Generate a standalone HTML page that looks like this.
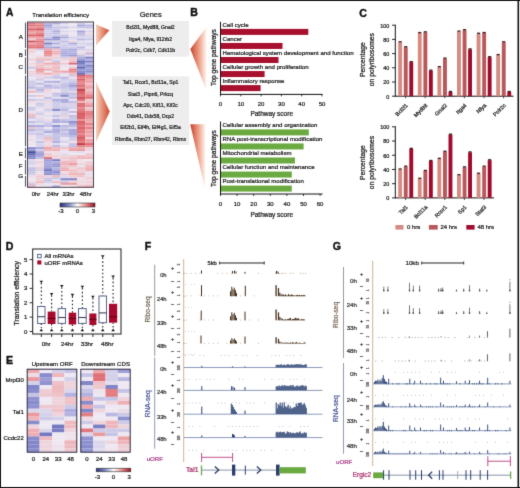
<!DOCTYPE html>
<html><head><meta charset="utf-8"><style>
html,body{margin:0;padding:0;background:#fff;}
body{width:520px;height:488px;overflow:hidden;position:relative;}
svg{display:block;position:absolute;left:0;top:0;}
text{font-family:"Liberation Sans",sans-serif;}
</style></head><body>
<svg width="520" height="488" viewBox="0 0 520 488" font-family="Liberation Sans, sans-serif" fill="#222">
<defs>
<filter id="bl" x="0" y="0" width="520" height="488" filterUnits="userSpaceOnUse" color-interpolation-filters="sRGB"><feConvolveMatrix order="3" kernelMatrix="0.0114 0.084 0.0114 0.084 0.618 0.084 0.0114 0.084 0.0114" edgeMode="duplicate"/></filter>
<linearGradient id="gA" x1="0" y1="0" x2="1" y2="0"><stop offset="0" stop-color="#f7d0ba"/><stop offset="1" stop-color="#cf4a30"/></linearGradient>
<linearGradient id="gB" x1="0" y1="0" x2="1" y2="0"><stop offset="0" stop-color="#c9402a"/><stop offset="0.5" stop-color="#eb9a82"/><stop offset="1" stop-color="#fff6f2"/></linearGradient>
<linearGradient id="cbar" x1="0" y1="0" x2="1" y2="0"><stop offset="0" stop-color="#2a2f78"/><stop offset="0.25" stop-color="#7d88c4"/><stop offset="0.5" stop-color="#ffffff"/><stop offset="0.75" stop-color="#e58a8a"/><stop offset="1" stop-color="#9a0c24"/></linearGradient>
</defs>
<g filter="url(#bl)">
<rect x="0" y="0" width="520" height="488" fill="#fff"/>
<rect x="0.00" y="0.00" width="520.00" height="1.00" fill="#111"/>
<rect x="0.00" y="0.00" width="1.00" height="488.00" fill="#111"/>
<rect x="0.00" y="487.00" width="520.00" height="1.00" fill="#111"/>
<rect x="517.50" y="0.00" width="1.60" height="488.00" fill="#111"/>
<text x="6.00" y="16.20" font-size="10.2" fill="#111" font-weight="bold" stroke="#111" stroke-width="0.4">A</text>
<text x="60.60" y="17.40" font-size="6.1" text-anchor="middle" stroke="#222" stroke-width="0.24">Translation efficiency</text>
<rect x="27.50" y="22.50" width="8.30" height="2.06" fill="#e1757b"/>
<rect x="35.75" y="22.50" width="8.30" height="2.06" fill="#e78e92"/>
<rect x="44.00" y="22.50" width="8.30" height="2.06" fill="#b6b5e1"/>
<rect x="52.25" y="22.50" width="8.30" height="2.06" fill="#afaedf"/>
<rect x="60.50" y="22.50" width="8.30" height="2.06" fill="#d2cfea"/>
<rect x="68.75" y="22.50" width="8.30" height="2.06" fill="#eee3ec"/>
<rect x="77.00" y="22.50" width="8.30" height="2.06" fill="#d0cde9"/>
<rect x="85.25" y="22.50" width="8.30" height="2.06" fill="#eee8f2"/>
<rect x="27.50" y="24.51" width="8.30" height="2.06" fill="#e07277"/>
<rect x="35.75" y="24.51" width="8.30" height="2.06" fill="#e37d83"/>
<rect x="44.00" y="24.51" width="8.30" height="2.06" fill="#9c9ed6"/>
<rect x="52.25" y="24.51" width="8.30" height="2.06" fill="#dcd8ed"/>
<rect x="60.50" y="24.51" width="8.30" height="2.06" fill="#e8e3f0"/>
<rect x="68.75" y="24.51" width="8.30" height="2.06" fill="#ece6f1"/>
<rect x="77.00" y="24.51" width="8.30" height="2.06" fill="#a7a7db"/>
<rect x="85.25" y="24.51" width="8.30" height="2.06" fill="#b6b5e1"/>
<rect x="27.50" y="26.52" width="8.30" height="2.06" fill="#e99499"/>
<rect x="35.75" y="26.52" width="8.30" height="2.06" fill="#e6898e"/>
<rect x="44.00" y="26.52" width="8.30" height="2.06" fill="#b4b3e0"/>
<rect x="52.25" y="26.52" width="8.30" height="2.06" fill="#c7c5e6"/>
<rect x="60.50" y="26.52" width="8.30" height="2.06" fill="#c1bfe4"/>
<rect x="68.75" y="26.52" width="8.30" height="2.06" fill="#dad6ec"/>
<rect x="77.00" y="26.52" width="8.30" height="2.06" fill="#c8c5e6"/>
<rect x="85.25" y="26.52" width="8.30" height="2.06" fill="#c1bfe4"/>
<rect x="27.50" y="28.53" width="8.30" height="2.06" fill="#d65a62"/>
<rect x="35.75" y="28.53" width="8.30" height="2.06" fill="#cf515a"/>
<rect x="44.00" y="28.53" width="8.30" height="2.06" fill="#c6c4e6"/>
<rect x="52.25" y="28.53" width="8.30" height="2.06" fill="#cac8e7"/>
<rect x="60.50" y="28.53" width="8.30" height="2.06" fill="#e7e2f0"/>
<rect x="68.75" y="28.53" width="8.30" height="2.06" fill="#eee7f0"/>
<rect x="77.00" y="28.53" width="8.30" height="2.06" fill="#ece6f1"/>
<rect x="85.25" y="28.53" width="8.30" height="2.06" fill="#eee2eb"/>
<rect x="27.50" y="30.54" width="8.30" height="2.06" fill="#ea9a9f"/>
<rect x="35.75" y="30.54" width="8.30" height="2.06" fill="#ea979b"/>
<rect x="44.00" y="30.54" width="8.30" height="2.06" fill="#d6d2eb"/>
<rect x="52.25" y="30.54" width="8.30" height="2.06" fill="#afafdf"/>
<rect x="60.50" y="30.54" width="8.30" height="2.06" fill="#dad6ec"/>
<rect x="68.75" y="30.54" width="8.30" height="2.06" fill="#e2ddee"/>
<rect x="77.00" y="30.54" width="8.30" height="2.06" fill="#a2a3d9"/>
<rect x="85.25" y="30.54" width="8.30" height="2.06" fill="#d6d2eb"/>
<rect x="27.50" y="32.55" width="8.30" height="2.06" fill="#eb9da1"/>
<rect x="35.75" y="32.55" width="8.30" height="2.06" fill="#e37c81"/>
<rect x="44.00" y="32.55" width="8.30" height="2.06" fill="#cdcae8"/>
<rect x="52.25" y="32.55" width="8.30" height="2.06" fill="#c4c2e5"/>
<rect x="60.50" y="32.55" width="8.30" height="2.06" fill="#eee1eb"/>
<rect x="68.75" y="32.55" width="8.30" height="2.06" fill="#ece6f1"/>
<rect x="77.00" y="32.55" width="8.30" height="2.06" fill="#b9b7e2"/>
<rect x="85.25" y="32.55" width="8.30" height="2.06" fill="#eedae3"/>
<rect x="27.50" y="34.56" width="8.30" height="2.06" fill="#da5f65"/>
<rect x="35.75" y="34.56" width="8.30" height="2.06" fill="#d65a61"/>
<rect x="44.00" y="34.56" width="8.30" height="2.06" fill="#d0cde9"/>
<rect x="52.25" y="34.56" width="8.30" height="2.06" fill="#d1cee9"/>
<rect x="60.50" y="34.56" width="8.30" height="2.06" fill="#c5c3e6"/>
<rect x="68.75" y="34.56" width="8.30" height="2.06" fill="#eee3ed"/>
<rect x="77.00" y="34.56" width="8.30" height="2.06" fill="#c4c2e5"/>
<rect x="85.25" y="34.56" width="8.30" height="2.06" fill="#d8d4eb"/>
<rect x="27.50" y="36.57" width="8.30" height="2.06" fill="#eda5a9"/>
<rect x="35.75" y="36.57" width="8.30" height="2.06" fill="#eca1a6"/>
<rect x="44.00" y="36.57" width="8.30" height="2.06" fill="#cdcae8"/>
<rect x="52.25" y="36.57" width="8.30" height="2.06" fill="#878bcb"/>
<rect x="60.50" y="36.57" width="8.30" height="2.06" fill="#ababdd"/>
<rect x="68.75" y="36.57" width="8.30" height="2.06" fill="#d4d0ea"/>
<rect x="77.00" y="36.57" width="8.30" height="2.06" fill="#dbd7ec"/>
<rect x="85.25" y="36.57" width="8.30" height="2.06" fill="#d8d4eb"/>
<rect x="27.50" y="38.58" width="8.30" height="2.06" fill="#eeced5"/>
<rect x="35.75" y="38.58" width="8.30" height="2.06" fill="#e99499"/>
<rect x="44.00" y="38.58" width="8.30" height="2.06" fill="#9799d3"/>
<rect x="52.25" y="38.58" width="8.30" height="2.06" fill="#9598d2"/>
<rect x="60.50" y="38.58" width="8.30" height="2.06" fill="#d9d5ec"/>
<rect x="68.75" y="38.58" width="8.30" height="2.06" fill="#dfdbee"/>
<rect x="77.00" y="38.58" width="8.30" height="2.06" fill="#b7b6e1"/>
<rect x="85.25" y="38.58" width="8.30" height="2.06" fill="#c9c6e7"/>
<rect x="27.50" y="40.59" width="8.30" height="2.06" fill="#cf515a"/>
<rect x="35.75" y="40.59" width="8.30" height="2.06" fill="#e07176"/>
<rect x="44.00" y="40.59" width="8.30" height="2.06" fill="#d1cde9"/>
<rect x="52.25" y="40.59" width="8.30" height="2.06" fill="#d8d4eb"/>
<rect x="60.50" y="40.59" width="8.30" height="2.06" fill="#bcbbe3"/>
<rect x="68.75" y="40.59" width="8.30" height="2.06" fill="#eed7e0"/>
<rect x="77.00" y="40.59" width="8.30" height="2.06" fill="#e4dfef"/>
<rect x="85.25" y="40.59" width="8.30" height="2.06" fill="#ebe5f1"/>
<rect x="27.50" y="42.60" width="8.30" height="2.06" fill="#eda6aa"/>
<rect x="35.75" y="42.60" width="8.30" height="2.06" fill="#e68a8f"/>
<rect x="44.00" y="42.60" width="8.30" height="2.06" fill="#7c81c5"/>
<rect x="52.25" y="42.60" width="8.30" height="2.06" fill="#ababdd"/>
<rect x="60.50" y="42.60" width="8.30" height="2.06" fill="#d9d5ec"/>
<rect x="68.75" y="42.60" width="8.30" height="2.06" fill="#a9a9dc"/>
<rect x="77.00" y="42.60" width="8.30" height="2.06" fill="#d6d2eb"/>
<rect x="85.25" y="42.60" width="8.30" height="2.06" fill="#cfcce9"/>
<rect x="27.50" y="44.61" width="8.30" height="2.06" fill="#e2787e"/>
<rect x="35.75" y="44.61" width="8.30" height="2.06" fill="#e2787d"/>
<rect x="44.00" y="44.61" width="8.30" height="2.06" fill="#c1bfe4"/>
<rect x="52.25" y="44.61" width="8.30" height="2.06" fill="#dedaed"/>
<rect x="60.50" y="44.61" width="8.30" height="2.06" fill="#cac7e7"/>
<rect x="68.75" y="44.61" width="8.30" height="2.06" fill="#d2cfea"/>
<rect x="77.00" y="44.61" width="8.30" height="2.06" fill="#dfdaed"/>
<rect x="85.25" y="44.61" width="8.30" height="2.06" fill="#d9d5ec"/>
<rect x="27.50" y="46.62" width="8.30" height="2.06" fill="#e07378"/>
<rect x="35.75" y="46.62" width="8.30" height="2.06" fill="#df6d73"/>
<rect x="44.00" y="46.62" width="8.30" height="2.06" fill="#ababde"/>
<rect x="52.25" y="46.62" width="8.30" height="2.06" fill="#9c9ed6"/>
<rect x="60.50" y="46.62" width="8.30" height="2.06" fill="#cdcae8"/>
<rect x="68.75" y="46.62" width="8.30" height="2.06" fill="#d0cce9"/>
<rect x="77.00" y="46.62" width="8.30" height="2.06" fill="#b9b7e2"/>
<rect x="85.25" y="46.62" width="8.30" height="2.06" fill="#eee7f1"/>
<rect x="27.50" y="48.63" width="8.30" height="2.06" fill="#eecfd6"/>
<rect x="35.75" y="48.63" width="8.30" height="2.06" fill="#cfcce9"/>
<rect x="44.00" y="48.63" width="8.30" height="2.06" fill="#eea7ab"/>
<rect x="52.25" y="48.63" width="8.30" height="2.06" fill="#eec3c9"/>
<rect x="60.50" y="48.63" width="8.30" height="2.06" fill="#b3b3e0"/>
<rect x="68.75" y="48.63" width="8.30" height="2.06" fill="#a8a8dc"/>
<rect x="77.00" y="48.63" width="8.30" height="2.06" fill="#d4d0ea"/>
<rect x="85.25" y="48.63" width="8.30" height="2.06" fill="#d7d3eb"/>
<rect x="27.50" y="50.64" width="8.30" height="2.06" fill="#eecdd4"/>
<rect x="35.75" y="50.64" width="8.30" height="2.06" fill="#eee6f0"/>
<rect x="44.00" y="50.64" width="8.30" height="2.06" fill="#e5858a"/>
<rect x="52.25" y="50.64" width="8.30" height="2.06" fill="#eeb6bc"/>
<rect x="60.50" y="50.64" width="8.30" height="2.06" fill="#aeaedf"/>
<rect x="68.75" y="50.64" width="8.30" height="2.06" fill="#b4b4e1"/>
<rect x="77.00" y="50.64" width="8.30" height="2.06" fill="#e6e1f0"/>
<rect x="85.25" y="50.64" width="8.30" height="2.06" fill="#eed1d9"/>
<rect x="27.50" y="52.65" width="8.30" height="2.06" fill="#eedbe4"/>
<rect x="35.75" y="52.65" width="8.30" height="2.06" fill="#eee7f1"/>
<rect x="44.00" y="52.65" width="8.30" height="2.06" fill="#e6888d"/>
<rect x="52.25" y="52.65" width="8.30" height="2.06" fill="#eeaeb3"/>
<rect x="60.50" y="52.65" width="8.30" height="2.06" fill="#aaaadd"/>
<rect x="68.75" y="52.65" width="8.30" height="2.06" fill="#b0b0df"/>
<rect x="77.00" y="52.65" width="8.30" height="2.06" fill="#eed9e1"/>
<rect x="85.25" y="52.65" width="8.30" height="2.06" fill="#b8b7e2"/>
<rect x="27.50" y="54.66" width="8.30" height="2.06" fill="#eee1ea"/>
<rect x="35.75" y="54.66" width="8.30" height="2.06" fill="#ebe5f1"/>
<rect x="44.00" y="54.66" width="8.30" height="2.06" fill="#e9969a"/>
<rect x="52.25" y="54.66" width="8.30" height="2.06" fill="#eed6de"/>
<rect x="60.50" y="54.66" width="8.30" height="2.06" fill="#aaaadd"/>
<rect x="68.75" y="54.66" width="8.30" height="2.06" fill="#9c9dd6"/>
<rect x="77.00" y="54.66" width="8.30" height="2.06" fill="#c4c2e5"/>
<rect x="85.25" y="54.66" width="8.30" height="2.06" fill="#eed9e2"/>
<rect x="27.50" y="56.67" width="8.30" height="2.06" fill="#ebe5f1"/>
<rect x="35.75" y="56.67" width="8.30" height="2.06" fill="#eecdd4"/>
<rect x="44.00" y="56.67" width="8.30" height="2.06" fill="#eed6de"/>
<rect x="52.25" y="56.67" width="8.30" height="2.06" fill="#eeccd3"/>
<rect x="60.50" y="56.67" width="8.30" height="2.06" fill="#d0cce9"/>
<rect x="68.75" y="56.67" width="8.30" height="2.06" fill="#eec3c9"/>
<rect x="77.00" y="56.67" width="8.30" height="2.06" fill="#a8a8dc"/>
<rect x="85.25" y="56.67" width="8.30" height="2.06" fill="#7b81c5"/>
<rect x="27.50" y="58.68" width="8.30" height="2.06" fill="#eecbd3"/>
<rect x="35.75" y="58.68" width="8.30" height="2.06" fill="#eebbc0"/>
<rect x="44.00" y="58.68" width="8.30" height="2.06" fill="#eeb2b7"/>
<rect x="52.25" y="58.68" width="8.30" height="2.06" fill="#ddd9ed"/>
<rect x="60.50" y="58.68" width="8.30" height="2.06" fill="#eed1d9"/>
<rect x="68.75" y="58.68" width="8.30" height="2.06" fill="#eec4cb"/>
<rect x="77.00" y="58.68" width="8.30" height="2.06" fill="#989ad4"/>
<rect x="85.25" y="58.68" width="8.30" height="2.06" fill="#b2b2e0"/>
<rect x="27.50" y="60.69" width="8.30" height="2.06" fill="#eee6f0"/>
<rect x="35.75" y="60.69" width="8.30" height="2.06" fill="#c5c2e5"/>
<rect x="44.00" y="60.69" width="8.30" height="2.06" fill="#eee3ed"/>
<rect x="52.25" y="60.69" width="8.30" height="2.06" fill="#c4c1e5"/>
<rect x="60.50" y="60.69" width="8.30" height="2.06" fill="#eee3ec"/>
<rect x="68.75" y="60.69" width="8.30" height="2.06" fill="#eebdc3"/>
<rect x="77.00" y="60.69" width="8.30" height="2.06" fill="#626ab6"/>
<rect x="85.25" y="60.69" width="8.30" height="2.06" fill="#797ec4"/>
<rect x="27.50" y="62.70" width="8.30" height="2.06" fill="#eed5dd"/>
<rect x="35.75" y="62.70" width="8.30" height="2.06" fill="#eec7ce"/>
<rect x="44.00" y="62.70" width="8.30" height="2.06" fill="#eea7ab"/>
<rect x="52.25" y="62.70" width="8.30" height="2.06" fill="#eeacb0"/>
<rect x="60.50" y="62.70" width="8.30" height="2.06" fill="#eec6cd"/>
<rect x="68.75" y="62.70" width="8.30" height="2.06" fill="#de6b71"/>
<rect x="77.00" y="62.70" width="8.30" height="2.06" fill="#737ac1"/>
<rect x="85.25" y="62.70" width="8.30" height="2.06" fill="#b8b7e2"/>
<rect x="27.50" y="64.71" width="8.30" height="2.06" fill="#eee1eb"/>
<rect x="35.75" y="64.71" width="8.30" height="2.06" fill="#eec1c7"/>
<rect x="44.00" y="64.71" width="8.30" height="2.06" fill="#eed3db"/>
<rect x="52.25" y="64.71" width="8.30" height="2.06" fill="#eec2c9"/>
<rect x="60.50" y="64.71" width="8.30" height="2.06" fill="#e6e1f0"/>
<rect x="68.75" y="64.71" width="8.30" height="2.06" fill="#eee2ec"/>
<rect x="77.00" y="64.71" width="8.30" height="2.06" fill="#9598d2"/>
<rect x="85.25" y="64.71" width="8.30" height="2.06" fill="#797fc4"/>
<rect x="27.50" y="66.72" width="8.30" height="2.06" fill="#c4c2e5"/>
<rect x="35.75" y="66.72" width="8.30" height="2.06" fill="#eebcc2"/>
<rect x="44.00" y="66.72" width="8.30" height="2.06" fill="#eecfd6"/>
<rect x="52.25" y="66.72" width="8.30" height="2.06" fill="#eeb7bc"/>
<rect x="60.50" y="66.72" width="8.30" height="2.06" fill="#ece6f1"/>
<rect x="68.75" y="66.72" width="8.30" height="2.06" fill="#eec7ce"/>
<rect x="77.00" y="66.72" width="8.30" height="2.06" fill="#5d65b1"/>
<rect x="85.25" y="66.72" width="8.30" height="2.06" fill="#9e9fd7"/>
<rect x="27.50" y="68.73" width="8.30" height="2.06" fill="#eee5ee"/>
<rect x="35.75" y="68.73" width="8.30" height="2.06" fill="#e9959a"/>
<rect x="44.00" y="68.73" width="8.30" height="2.06" fill="#eeabaf"/>
<rect x="52.25" y="68.73" width="8.30" height="2.06" fill="#eec0c7"/>
<rect x="60.50" y="68.73" width="8.30" height="2.06" fill="#eee5ef"/>
<rect x="68.75" y="68.73" width="8.30" height="2.06" fill="#e58489"/>
<rect x="77.00" y="68.73" width="8.30" height="2.06" fill="#9a9cd5"/>
<rect x="85.25" y="68.73" width="8.30" height="2.06" fill="#9b9dd5"/>
<rect x="27.50" y="70.74" width="8.30" height="2.06" fill="#eed3db"/>
<rect x="35.75" y="70.74" width="8.30" height="2.06" fill="#eda6aa"/>
<rect x="44.00" y="70.74" width="8.30" height="2.06" fill="#ede7f2"/>
<rect x="52.25" y="70.74" width="8.30" height="2.06" fill="#eeafb3"/>
<rect x="60.50" y="70.74" width="8.30" height="2.06" fill="#ec9fa3"/>
<rect x="68.75" y="70.74" width="8.30" height="2.06" fill="#e89296"/>
<rect x="77.00" y="70.74" width="8.30" height="2.06" fill="#888ccc"/>
<rect x="85.25" y="70.74" width="8.30" height="2.06" fill="#878ccb"/>
<rect x="27.50" y="72.75" width="8.30" height="2.06" fill="#eed3db"/>
<rect x="35.75" y="72.75" width="8.30" height="2.06" fill="#eec0c6"/>
<rect x="44.00" y="72.75" width="8.30" height="2.06" fill="#eea7ab"/>
<rect x="52.25" y="72.75" width="8.30" height="2.06" fill="#eec9d0"/>
<rect x="60.50" y="72.75" width="8.30" height="2.06" fill="#e2ddee"/>
<rect x="68.75" y="72.75" width="8.30" height="2.06" fill="#eeb9be"/>
<rect x="77.00" y="72.75" width="8.30" height="2.06" fill="#636bb8"/>
<rect x="85.25" y="72.75" width="8.30" height="2.06" fill="#b9b7e2"/>
<rect x="27.50" y="74.76" width="8.30" height="2.06" fill="#ded9ed"/>
<rect x="35.75" y="74.76" width="8.30" height="2.06" fill="#e1dcee"/>
<rect x="44.00" y="74.76" width="8.30" height="2.06" fill="#eed9e1"/>
<rect x="52.25" y="74.76" width="8.30" height="2.06" fill="#ccc9e8"/>
<rect x="60.50" y="74.76" width="8.30" height="2.06" fill="#eee4ee"/>
<rect x="68.75" y="74.76" width="8.30" height="2.06" fill="#ccc9e8"/>
<rect x="77.00" y="74.76" width="8.30" height="2.06" fill="#d65a61"/>
<rect x="85.25" y="74.76" width="8.30" height="2.06" fill="#e27a7f"/>
<rect x="27.50" y="76.77" width="8.30" height="2.06" fill="#ece6f1"/>
<rect x="35.75" y="76.77" width="8.30" height="2.06" fill="#eed2da"/>
<rect x="44.00" y="76.77" width="8.30" height="2.06" fill="#d1cde9"/>
<rect x="52.25" y="76.77" width="8.30" height="2.06" fill="#c1bfe4"/>
<rect x="60.50" y="76.77" width="8.30" height="2.06" fill="#b8b7e2"/>
<rect x="68.75" y="76.77" width="8.30" height="2.06" fill="#eee2eb"/>
<rect x="77.00" y="76.77" width="8.30" height="2.06" fill="#e48085"/>
<rect x="85.25" y="76.77" width="8.30" height="2.06" fill="#e78d92"/>
<rect x="27.50" y="78.78" width="8.30" height="2.06" fill="#e4dfef"/>
<rect x="35.75" y="78.78" width="8.30" height="2.06" fill="#cecbe8"/>
<rect x="44.00" y="78.78" width="8.30" height="2.06" fill="#eae5f1"/>
<rect x="52.25" y="78.78" width="8.30" height="2.06" fill="#ece6f1"/>
<rect x="60.50" y="78.78" width="8.30" height="2.06" fill="#cfcce9"/>
<rect x="68.75" y="78.78" width="8.30" height="2.06" fill="#d3d0ea"/>
<rect x="77.00" y="78.78" width="8.30" height="2.06" fill="#dc6268"/>
<rect x="85.25" y="78.78" width="8.30" height="2.06" fill="#eea8ac"/>
<rect x="27.50" y="80.79" width="8.30" height="2.06" fill="#ccc9e8"/>
<rect x="35.75" y="80.79" width="8.30" height="2.06" fill="#e6e1f0"/>
<rect x="44.00" y="80.79" width="8.30" height="2.06" fill="#b4b3e0"/>
<rect x="52.25" y="80.79" width="8.30" height="2.06" fill="#aaaadd"/>
<rect x="60.50" y="80.79" width="8.30" height="2.06" fill="#d8d4eb"/>
<rect x="68.75" y="80.79" width="8.30" height="2.06" fill="#ccc9e8"/>
<rect x="77.00" y="80.79" width="8.30" height="2.06" fill="#e5878c"/>
<rect x="85.25" y="80.79" width="8.30" height="2.06" fill="#eb9ea2"/>
<rect x="27.50" y="82.80" width="8.30" height="2.06" fill="#cfcce9"/>
<rect x="35.75" y="82.80" width="8.30" height="2.06" fill="#bdbbe3"/>
<rect x="44.00" y="82.80" width="8.30" height="2.06" fill="#dbd7ec"/>
<rect x="52.25" y="82.80" width="8.30" height="2.06" fill="#ddd8ed"/>
<rect x="60.50" y="82.80" width="8.30" height="2.06" fill="#c6c3e6"/>
<rect x="68.75" y="82.80" width="8.30" height="2.06" fill="#b8b7e2"/>
<rect x="77.00" y="82.80" width="8.30" height="2.06" fill="#e6878c"/>
<rect x="85.25" y="82.80" width="8.30" height="2.06" fill="#eec1c7"/>
<rect x="27.50" y="84.81" width="8.30" height="2.06" fill="#ccc9e8"/>
<rect x="35.75" y="84.81" width="8.30" height="2.06" fill="#e4dfef"/>
<rect x="44.00" y="84.81" width="8.30" height="2.06" fill="#b1b1e0"/>
<rect x="52.25" y="84.81" width="8.30" height="2.06" fill="#ccc9e8"/>
<rect x="60.50" y="84.81" width="8.30" height="2.06" fill="#c1bfe4"/>
<rect x="68.75" y="84.81" width="8.30" height="2.06" fill="#9c9dd6"/>
<rect x="77.00" y="84.81" width="8.30" height="2.06" fill="#dd676d"/>
<rect x="85.25" y="84.81" width="8.30" height="2.06" fill="#eea9ad"/>
<rect x="27.50" y="86.82" width="8.30" height="2.06" fill="#b9b8e2"/>
<rect x="35.75" y="86.82" width="8.30" height="2.06" fill="#c9c7e7"/>
<rect x="44.00" y="86.82" width="8.30" height="2.06" fill="#c3c1e5"/>
<rect x="52.25" y="86.82" width="8.30" height="2.06" fill="#bdbce3"/>
<rect x="60.50" y="86.82" width="8.30" height="2.06" fill="#c6c4e6"/>
<rect x="68.75" y="86.82" width="8.30" height="2.06" fill="#bebce3"/>
<rect x="77.00" y="86.82" width="8.30" height="2.06" fill="#e78b90"/>
<rect x="85.25" y="86.82" width="8.30" height="2.06" fill="#eb9ea2"/>
<rect x="27.50" y="88.83" width="8.30" height="2.06" fill="#eedde6"/>
<rect x="35.75" y="88.83" width="8.30" height="2.06" fill="#b7b6e1"/>
<rect x="44.00" y="88.83" width="8.30" height="2.06" fill="#eed3dc"/>
<rect x="52.25" y="88.83" width="8.30" height="2.06" fill="#ebe6f1"/>
<rect x="60.50" y="88.83" width="8.30" height="2.06" fill="#d2cee9"/>
<rect x="68.75" y="88.83" width="8.30" height="2.06" fill="#c7c5e6"/>
<rect x="77.00" y="88.83" width="8.30" height="2.06" fill="#c03d4a"/>
<rect x="85.25" y="88.83" width="8.30" height="2.06" fill="#eec0c6"/>
<rect x="27.50" y="90.84" width="8.30" height="2.06" fill="#eeb5ba"/>
<rect x="35.75" y="90.84" width="8.30" height="2.06" fill="#cecbe8"/>
<rect x="44.00" y="90.84" width="8.30" height="2.06" fill="#eedae3"/>
<rect x="52.25" y="90.84" width="8.30" height="2.06" fill="#eee0ea"/>
<rect x="60.50" y="90.84" width="8.30" height="2.06" fill="#d3d0ea"/>
<rect x="68.75" y="90.84" width="8.30" height="2.06" fill="#dcd7ec"/>
<rect x="77.00" y="90.84" width="8.30" height="2.06" fill="#d75b62"/>
<rect x="85.25" y="90.84" width="8.30" height="2.06" fill="#eeb0b4"/>
<rect x="27.50" y="92.85" width="8.30" height="2.06" fill="#ede7f2"/>
<rect x="35.75" y="92.85" width="8.30" height="2.06" fill="#eee7f1"/>
<rect x="44.00" y="92.85" width="8.30" height="2.06" fill="#e6e0ef"/>
<rect x="52.25" y="92.85" width="8.30" height="2.06" fill="#c1bfe4"/>
<rect x="60.50" y="92.85" width="8.30" height="2.06" fill="#b9b7e2"/>
<rect x="68.75" y="92.85" width="8.30" height="2.06" fill="#c1bfe4"/>
<rect x="77.00" y="92.85" width="8.30" height="2.06" fill="#dc6369"/>
<rect x="85.25" y="92.85" width="8.30" height="2.06" fill="#eca0a4"/>
<rect x="27.50" y="94.86" width="8.30" height="2.06" fill="#cbc8e7"/>
<rect x="35.75" y="94.86" width="8.30" height="2.06" fill="#eec8cf"/>
<rect x="44.00" y="94.86" width="8.30" height="2.06" fill="#eee0e9"/>
<rect x="52.25" y="94.86" width="8.30" height="2.06" fill="#cac8e7"/>
<rect x="60.50" y="94.86" width="8.30" height="2.06" fill="#8a8dcc"/>
<rect x="68.75" y="94.86" width="8.30" height="2.06" fill="#cdcae8"/>
<rect x="77.00" y="94.86" width="8.30" height="2.06" fill="#e1767c"/>
<rect x="85.25" y="94.86" width="8.30" height="2.06" fill="#e58489"/>
<rect x="27.50" y="96.87" width="8.30" height="2.06" fill="#ebe5f1"/>
<rect x="35.75" y="96.87" width="8.30" height="2.06" fill="#eee8f2"/>
<rect x="44.00" y="96.87" width="8.30" height="2.06" fill="#c1bfe4"/>
<rect x="52.25" y="96.87" width="8.30" height="2.06" fill="#e2deef"/>
<rect x="60.50" y="96.87" width="8.30" height="2.06" fill="#ddd8ed"/>
<rect x="68.75" y="96.87" width="8.30" height="2.06" fill="#bfbde4"/>
<rect x="77.00" y="96.87" width="8.30" height="2.06" fill="#cf505a"/>
<rect x="85.25" y="96.87" width="8.30" height="2.06" fill="#e07176"/>
<rect x="27.50" y="98.88" width="8.30" height="2.06" fill="#c8c5e6"/>
<rect x="35.75" y="98.88" width="8.30" height="2.06" fill="#d3d0ea"/>
<rect x="44.00" y="98.88" width="8.30" height="2.06" fill="#dbd7ec"/>
<rect x="52.25" y="98.88" width="8.30" height="2.06" fill="#adadde"/>
<rect x="60.50" y="98.88" width="8.30" height="2.06" fill="#aaaadd"/>
<rect x="68.75" y="98.88" width="8.30" height="2.06" fill="#e8e3f0"/>
<rect x="77.00" y="98.88" width="8.30" height="2.06" fill="#e07076"/>
<rect x="85.25" y="98.88" width="8.30" height="2.06" fill="#eeccd3"/>
<rect x="27.50" y="100.89" width="8.30" height="2.06" fill="#eed9e2"/>
<rect x="35.75" y="100.89" width="8.30" height="2.06" fill="#e4dfef"/>
<rect x="44.00" y="100.89" width="8.30" height="2.06" fill="#eed7df"/>
<rect x="52.25" y="100.89" width="8.30" height="2.06" fill="#c8c6e7"/>
<rect x="60.50" y="100.89" width="8.30" height="2.06" fill="#adadde"/>
<rect x="68.75" y="100.89" width="8.30" height="2.06" fill="#c0bee4"/>
<rect x="77.00" y="100.89" width="8.30" height="2.06" fill="#eeb9bf"/>
<rect x="85.25" y="100.89" width="8.30" height="2.06" fill="#eec1c8"/>
<rect x="27.50" y="102.90" width="8.30" height="2.06" fill="#eee4ed"/>
<rect x="35.75" y="102.90" width="8.30" height="2.06" fill="#cdcae8"/>
<rect x="44.00" y="102.90" width="8.30" height="2.06" fill="#e4dfef"/>
<rect x="52.25" y="102.90" width="8.30" height="2.06" fill="#d0cde9"/>
<rect x="60.50" y="102.90" width="8.30" height="2.06" fill="#d8d4eb"/>
<rect x="68.75" y="102.90" width="8.30" height="2.06" fill="#d7d3eb"/>
<rect x="77.00" y="102.90" width="8.30" height="2.06" fill="#e07378"/>
<rect x="85.25" y="102.90" width="8.30" height="2.06" fill="#eea9ad"/>
<rect x="27.50" y="104.91" width="8.30" height="2.06" fill="#eee4ee"/>
<rect x="35.75" y="104.91" width="8.30" height="2.06" fill="#d4d1ea"/>
<rect x="44.00" y="104.91" width="8.30" height="2.06" fill="#e3deef"/>
<rect x="52.25" y="104.91" width="8.30" height="2.06" fill="#d0cde9"/>
<rect x="60.50" y="104.91" width="8.30" height="2.06" fill="#d7d3eb"/>
<rect x="68.75" y="104.91" width="8.30" height="2.06" fill="#d7d3eb"/>
<rect x="77.00" y="104.91" width="8.30" height="2.06" fill="#df6d73"/>
<rect x="85.25" y="104.91" width="8.30" height="2.06" fill="#e99398"/>
<rect x="27.50" y="106.92" width="8.30" height="2.06" fill="#cac7e7"/>
<rect x="35.75" y="106.92" width="8.30" height="2.06" fill="#e5e0ef"/>
<rect x="44.00" y="106.92" width="8.30" height="2.06" fill="#eed9e2"/>
<rect x="52.25" y="106.92" width="8.30" height="2.06" fill="#cecbe8"/>
<rect x="60.50" y="106.92" width="8.30" height="2.06" fill="#cac8e7"/>
<rect x="68.75" y="106.92" width="8.30" height="2.06" fill="#d2cfea"/>
<rect x="77.00" y="106.92" width="8.30" height="2.06" fill="#e89094"/>
<rect x="85.25" y="106.92" width="8.30" height="2.06" fill="#eeccd3"/>
<rect x="27.50" y="108.93" width="8.30" height="2.06" fill="#d3d0ea"/>
<rect x="35.75" y="108.93" width="8.30" height="2.06" fill="#eee7f1"/>
<rect x="44.00" y="108.93" width="8.30" height="2.06" fill="#d0cde9"/>
<rect x="52.25" y="108.93" width="8.30" height="2.06" fill="#8a8ecc"/>
<rect x="60.50" y="108.93" width="8.30" height="2.06" fill="#bab9e2"/>
<rect x="68.75" y="108.93" width="8.30" height="2.06" fill="#eee8f2"/>
<rect x="77.00" y="108.93" width="8.30" height="2.06" fill="#e47f84"/>
<rect x="85.25" y="108.93" width="8.30" height="2.06" fill="#eebec5"/>
<rect x="27.50" y="110.94" width="8.30" height="2.06" fill="#eae4f1"/>
<rect x="35.75" y="110.94" width="8.30" height="2.06" fill="#dfdbee"/>
<rect x="44.00" y="110.94" width="8.30" height="2.06" fill="#e2ddee"/>
<rect x="52.25" y="110.94" width="8.30" height="2.06" fill="#dedaed"/>
<rect x="60.50" y="110.94" width="8.30" height="2.06" fill="#d7d3eb"/>
<rect x="68.75" y="110.94" width="8.30" height="2.06" fill="#c0bee4"/>
<rect x="77.00" y="110.94" width="8.30" height="2.06" fill="#e07378"/>
<rect x="85.25" y="110.94" width="8.30" height="2.06" fill="#e58489"/>
<rect x="27.50" y="112.95" width="8.30" height="2.06" fill="#eecdd5"/>
<rect x="35.75" y="112.95" width="8.30" height="2.06" fill="#d1cee9"/>
<rect x="44.00" y="112.95" width="8.30" height="2.06" fill="#eee6f0"/>
<rect x="52.25" y="112.95" width="8.30" height="2.06" fill="#e2ddee"/>
<rect x="60.50" y="112.95" width="8.30" height="2.06" fill="#d5d1ea"/>
<rect x="68.75" y="112.95" width="8.30" height="2.06" fill="#ede7f2"/>
<rect x="77.00" y="112.95" width="8.30" height="2.06" fill="#d75c63"/>
<rect x="85.25" y="112.95" width="8.30" height="2.06" fill="#e47f84"/>
<rect x="27.50" y="114.96" width="8.30" height="2.06" fill="#eebac0"/>
<rect x="35.75" y="114.96" width="8.30" height="2.06" fill="#eee0e9"/>
<rect x="44.00" y="114.96" width="8.30" height="2.06" fill="#e0dbee"/>
<rect x="52.25" y="114.96" width="8.30" height="2.06" fill="#c6c4e6"/>
<rect x="60.50" y="114.96" width="8.30" height="2.06" fill="#eecfd7"/>
<rect x="68.75" y="114.96" width="8.30" height="2.06" fill="#c0bee4"/>
<rect x="77.00" y="114.96" width="8.30" height="2.06" fill="#dd656b"/>
<rect x="85.25" y="114.96" width="8.30" height="2.06" fill="#e78d91"/>
<rect x="27.50" y="116.97" width="8.30" height="2.06" fill="#cdcae8"/>
<rect x="35.75" y="116.97" width="8.30" height="2.06" fill="#e2ddee"/>
<rect x="44.00" y="116.97" width="8.30" height="2.06" fill="#eee7f0"/>
<rect x="52.25" y="116.97" width="8.30" height="2.06" fill="#e0dbee"/>
<rect x="60.50" y="116.97" width="8.30" height="2.06" fill="#e2ddee"/>
<rect x="68.75" y="116.97" width="8.30" height="2.06" fill="#cac8e7"/>
<rect x="77.00" y="116.97" width="8.30" height="2.06" fill="#dc6369"/>
<rect x="85.25" y="116.97" width="8.30" height="2.06" fill="#e99499"/>
<rect x="27.50" y="118.98" width="8.30" height="2.06" fill="#ebe5f1"/>
<rect x="35.75" y="118.98" width="8.30" height="2.06" fill="#dbd6ec"/>
<rect x="44.00" y="118.98" width="8.30" height="2.06" fill="#eedde6"/>
<rect x="52.25" y="118.98" width="8.30" height="2.06" fill="#b1b1e0"/>
<rect x="60.50" y="118.98" width="8.30" height="2.06" fill="#c5c2e5"/>
<rect x="68.75" y="118.98" width="8.30" height="2.06" fill="#ccc9e8"/>
<rect x="77.00" y="118.98" width="8.30" height="2.06" fill="#ea979b"/>
<rect x="85.25" y="118.98" width="8.30" height="2.06" fill="#eea9ad"/>
<rect x="27.50" y="120.99" width="8.30" height="2.06" fill="#c0bee4"/>
<rect x="35.75" y="120.99" width="8.30" height="2.06" fill="#d2cfea"/>
<rect x="44.00" y="120.99" width="8.30" height="2.06" fill="#dcd8ed"/>
<rect x="52.25" y="120.99" width="8.30" height="2.06" fill="#adadde"/>
<rect x="60.50" y="120.99" width="8.30" height="2.06" fill="#b3b3e0"/>
<rect x="68.75" y="120.99" width="8.30" height="2.06" fill="#9093d0"/>
<rect x="77.00" y="120.99" width="8.30" height="2.06" fill="#dd656b"/>
<rect x="85.25" y="120.99" width="8.30" height="2.06" fill="#eeaeb2"/>
<rect x="27.50" y="123.00" width="8.30" height="2.06" fill="#e1dcee"/>
<rect x="35.75" y="123.00" width="8.30" height="2.06" fill="#e6e1f0"/>
<rect x="44.00" y="123.00" width="8.30" height="2.06" fill="#ccc9e8"/>
<rect x="52.25" y="123.00" width="8.30" height="2.06" fill="#e5e0ef"/>
<rect x="60.50" y="123.00" width="8.30" height="2.06" fill="#eee4ee"/>
<rect x="68.75" y="123.00" width="8.30" height="2.06" fill="#acacde"/>
<rect x="77.00" y="123.00" width="8.30" height="2.06" fill="#de6a70"/>
<rect x="85.25" y="123.00" width="8.30" height="2.06" fill="#e58489"/>
<rect x="27.50" y="125.01" width="8.30" height="2.06" fill="#aaaadd"/>
<rect x="35.75" y="125.01" width="8.30" height="2.06" fill="#b1b0df"/>
<rect x="44.00" y="125.01" width="8.30" height="2.06" fill="#c4c2e5"/>
<rect x="52.25" y="125.01" width="8.30" height="2.06" fill="#9093d0"/>
<rect x="60.50" y="125.01" width="8.30" height="2.06" fill="#bcbbe3"/>
<rect x="68.75" y="125.01" width="8.30" height="2.06" fill="#bab9e2"/>
<rect x="77.00" y="125.01" width="8.30" height="2.06" fill="#e37e83"/>
<rect x="85.25" y="125.01" width="8.30" height="2.06" fill="#eea7ab"/>
<rect x="27.50" y="127.02" width="8.30" height="2.06" fill="#eec4cb"/>
<rect x="35.75" y="127.02" width="8.30" height="2.06" fill="#d2cfea"/>
<rect x="44.00" y="127.02" width="8.30" height="2.06" fill="#eee8f2"/>
<rect x="52.25" y="127.02" width="8.30" height="2.06" fill="#c1bfe4"/>
<rect x="60.50" y="127.02" width="8.30" height="2.06" fill="#cac7e7"/>
<rect x="68.75" y="127.02" width="8.30" height="2.06" fill="#dad6ec"/>
<rect x="77.00" y="127.02" width="8.30" height="2.06" fill="#dc646a"/>
<rect x="85.25" y="127.02" width="8.30" height="2.06" fill="#e48288"/>
<rect x="27.50" y="129.03" width="8.30" height="2.06" fill="#b9b8e2"/>
<rect x="35.75" y="129.03" width="8.30" height="2.06" fill="#cac7e7"/>
<rect x="44.00" y="129.03" width="8.30" height="2.06" fill="#d0cde9"/>
<rect x="52.25" y="129.03" width="8.30" height="2.06" fill="#adadde"/>
<rect x="60.50" y="129.03" width="8.30" height="2.06" fill="#bcbbe3"/>
<rect x="68.75" y="129.03" width="8.30" height="2.06" fill="#a5a6db"/>
<rect x="77.00" y="129.03" width="8.30" height="2.06" fill="#e27a80"/>
<rect x="85.25" y="129.03" width="8.30" height="2.06" fill="#eeacb1"/>
<rect x="27.50" y="131.04" width="8.30" height="2.06" fill="#d7d3eb"/>
<rect x="35.75" y="131.04" width="8.30" height="2.06" fill="#d9d5ec"/>
<rect x="44.00" y="131.04" width="8.30" height="2.06" fill="#aaaadd"/>
<rect x="52.25" y="131.04" width="8.30" height="2.06" fill="#afafdf"/>
<rect x="60.50" y="131.04" width="8.30" height="2.06" fill="#d0cde9"/>
<rect x="68.75" y="131.04" width="8.30" height="2.06" fill="#a7a7db"/>
<rect x="77.00" y="131.04" width="8.30" height="2.06" fill="#e07379"/>
<rect x="85.25" y="131.04" width="8.30" height="2.06" fill="#ec9fa3"/>
<rect x="27.50" y="133.05" width="8.30" height="2.06" fill="#d1cee9"/>
<rect x="35.75" y="133.05" width="8.30" height="2.06" fill="#c6c4e6"/>
<rect x="44.00" y="133.05" width="8.30" height="2.06" fill="#e1dcee"/>
<rect x="52.25" y="133.05" width="8.30" height="2.06" fill="#c4c2e5"/>
<rect x="60.50" y="133.05" width="8.30" height="2.06" fill="#bfbde4"/>
<rect x="68.75" y="133.05" width="8.30" height="2.06" fill="#a6a7db"/>
<rect x="77.00" y="133.05" width="8.30" height="2.06" fill="#e78c91"/>
<rect x="85.25" y="133.05" width="8.30" height="2.06" fill="#eeb3b8"/>
<rect x="27.50" y="135.06" width="8.30" height="2.06" fill="#eee0e9"/>
<rect x="35.75" y="135.06" width="8.30" height="2.06" fill="#d6d2eb"/>
<rect x="44.00" y="135.06" width="8.30" height="2.06" fill="#d2cfea"/>
<rect x="52.25" y="135.06" width="8.30" height="2.06" fill="#c7c4e6"/>
<rect x="60.50" y="135.06" width="8.30" height="2.06" fill="#c9c6e7"/>
<rect x="68.75" y="135.06" width="8.30" height="2.06" fill="#bab8e2"/>
<rect x="77.00" y="135.06" width="8.30" height="2.06" fill="#e07076"/>
<rect x="85.25" y="135.06" width="8.30" height="2.06" fill="#eda3a7"/>
<rect x="27.50" y="137.07" width="8.30" height="2.06" fill="#eee2eb"/>
<rect x="35.75" y="137.07" width="8.30" height="2.06" fill="#d6d2eb"/>
<rect x="44.00" y="137.07" width="8.30" height="2.06" fill="#eebbc1"/>
<rect x="52.25" y="137.07" width="8.30" height="2.06" fill="#c0bfe4"/>
<rect x="60.50" y="137.07" width="8.30" height="2.06" fill="#eae4f1"/>
<rect x="68.75" y="137.07" width="8.30" height="2.06" fill="#cecbe8"/>
<rect x="77.00" y="137.07" width="8.30" height="2.06" fill="#d65b62"/>
<rect x="85.25" y="137.07" width="8.30" height="2.06" fill="#eed4dc"/>
<rect x="27.50" y="139.08" width="8.30" height="2.06" fill="#e4dfef"/>
<rect x="35.75" y="139.08" width="8.30" height="2.06" fill="#e2ddee"/>
<rect x="44.00" y="139.08" width="8.30" height="2.06" fill="#eec5cb"/>
<rect x="52.25" y="139.08" width="8.30" height="2.06" fill="#c5c2e5"/>
<rect x="60.50" y="139.08" width="8.30" height="2.06" fill="#e4dfef"/>
<rect x="68.75" y="139.08" width="8.30" height="2.06" fill="#d2cee9"/>
<rect x="77.00" y="139.08" width="8.30" height="2.06" fill="#de6a70"/>
<rect x="85.25" y="139.08" width="8.30" height="2.06" fill="#ec9ea3"/>
<rect x="27.50" y="141.09" width="8.30" height="2.06" fill="#eee5ef"/>
<rect x="35.75" y="141.09" width="8.30" height="2.06" fill="#c4c1e5"/>
<rect x="44.00" y="141.09" width="8.30" height="2.06" fill="#eed7df"/>
<rect x="52.25" y="141.09" width="8.30" height="2.06" fill="#aeaedf"/>
<rect x="60.50" y="141.09" width="8.30" height="2.06" fill="#d4d0ea"/>
<rect x="68.75" y="141.09" width="8.30" height="2.06" fill="#eedfe8"/>
<rect x="77.00" y="141.09" width="8.30" height="2.06" fill="#e37e83"/>
<rect x="85.25" y="141.09" width="8.30" height="2.06" fill="#eda3a7"/>
<rect x="27.50" y="143.10" width="8.30" height="2.06" fill="#eee0ea"/>
<rect x="35.75" y="143.10" width="8.30" height="2.06" fill="#d9d5ec"/>
<rect x="44.00" y="143.10" width="8.30" height="2.06" fill="#eedbe4"/>
<rect x="52.25" y="143.10" width="8.30" height="2.06" fill="#e1dcee"/>
<rect x="60.50" y="143.10" width="8.30" height="2.06" fill="#eee8f2"/>
<rect x="68.75" y="143.10" width="8.30" height="2.06" fill="#c6c4e6"/>
<rect x="77.00" y="143.10" width="8.30" height="2.06" fill="#be3b48"/>
<rect x="85.25" y="143.10" width="8.30" height="2.06" fill="#de6b71"/>
<rect x="27.50" y="145.11" width="8.30" height="2.06" fill="#eee8f2"/>
<rect x="35.75" y="145.11" width="8.30" height="2.06" fill="#d4d1ea"/>
<rect x="44.00" y="145.11" width="8.30" height="2.06" fill="#eed0d7"/>
<rect x="52.25" y="145.11" width="8.30" height="2.06" fill="#b7b6e1"/>
<rect x="60.50" y="145.11" width="8.30" height="2.06" fill="#e0dbee"/>
<rect x="68.75" y="145.11" width="8.30" height="2.06" fill="#bfbde4"/>
<rect x="77.00" y="145.11" width="8.30" height="2.06" fill="#e6878c"/>
<rect x="85.25" y="145.11" width="8.30" height="2.06" fill="#e89094"/>
<rect x="27.50" y="147.12" width="8.30" height="2.06" fill="#8b8ecd"/>
<rect x="35.75" y="147.12" width="8.30" height="2.06" fill="#a7a8dc"/>
<rect x="44.00" y="147.12" width="8.30" height="2.06" fill="#eca2a6"/>
<rect x="52.25" y="147.12" width="8.30" height="2.06" fill="#eebabf"/>
<rect x="60.50" y="147.12" width="8.30" height="2.06" fill="#eebfc6"/>
<rect x="68.75" y="147.12" width="8.30" height="2.06" fill="#eeafb3"/>
<rect x="77.00" y="147.12" width="8.30" height="2.06" fill="#eea9ad"/>
<rect x="85.25" y="147.12" width="8.30" height="2.06" fill="#eecfd7"/>
<rect x="27.50" y="149.13" width="8.30" height="2.06" fill="#979ad3"/>
<rect x="35.75" y="149.13" width="8.30" height="2.06" fill="#d0cde9"/>
<rect x="44.00" y="149.13" width="8.30" height="2.06" fill="#eeb4b9"/>
<rect x="52.25" y="149.13" width="8.30" height="2.06" fill="#eeafb3"/>
<rect x="60.50" y="149.13" width="8.30" height="2.06" fill="#eedce5"/>
<rect x="68.75" y="149.13" width="8.30" height="2.06" fill="#eb9ea2"/>
<rect x="77.00" y="149.13" width="8.30" height="2.06" fill="#ea999d"/>
<rect x="85.25" y="149.13" width="8.30" height="2.06" fill="#eed2da"/>
<rect x="27.50" y="151.14" width="8.30" height="2.06" fill="#494f97"/>
<rect x="35.75" y="151.14" width="8.30" height="2.06" fill="#ababdd"/>
<rect x="44.00" y="151.14" width="8.30" height="2.06" fill="#eedce5"/>
<rect x="52.25" y="151.14" width="8.30" height="2.06" fill="#eedbe3"/>
<rect x="60.50" y="151.14" width="8.30" height="2.06" fill="#eae4f1"/>
<rect x="68.75" y="151.14" width="8.30" height="2.06" fill="#e7e2f0"/>
<rect x="77.00" y="151.14" width="8.30" height="2.06" fill="#e1dcee"/>
<rect x="85.25" y="151.14" width="8.30" height="2.06" fill="#eee6ef"/>
<rect x="27.50" y="153.15" width="8.30" height="2.06" fill="#656dba"/>
<rect x="35.75" y="153.15" width="8.30" height="2.06" fill="#999bd4"/>
<rect x="44.00" y="153.15" width="8.30" height="2.06" fill="#eec9d0"/>
<rect x="52.25" y="153.15" width="8.30" height="2.06" fill="#eedde6"/>
<rect x="60.50" y="153.15" width="8.30" height="2.06" fill="#dfdaed"/>
<rect x="68.75" y="153.15" width="8.30" height="2.06" fill="#ede7f2"/>
<rect x="77.00" y="153.15" width="8.30" height="2.06" fill="#eee8f2"/>
<rect x="85.25" y="153.15" width="8.30" height="2.06" fill="#eec7ce"/>
<rect x="27.50" y="155.16" width="8.30" height="2.06" fill="#8186c8"/>
<rect x="35.75" y="155.16" width="8.30" height="2.06" fill="#a5a5da"/>
<rect x="44.00" y="155.16" width="8.30" height="2.06" fill="#eec6cd"/>
<rect x="52.25" y="155.16" width="8.30" height="2.06" fill="#eed1d9"/>
<rect x="60.50" y="155.16" width="8.30" height="2.06" fill="#eed3db"/>
<rect x="68.75" y="155.16" width="8.30" height="2.06" fill="#eecdd4"/>
<rect x="77.00" y="155.16" width="8.30" height="2.06" fill="#eebcc2"/>
<rect x="85.25" y="155.16" width="8.30" height="2.06" fill="#eec1c7"/>
<rect x="27.50" y="157.17" width="8.30" height="2.06" fill="#868aca"/>
<rect x="35.75" y="157.17" width="8.30" height="2.06" fill="#bfbde4"/>
<rect x="44.00" y="157.17" width="8.30" height="2.06" fill="#df6f75"/>
<rect x="52.25" y="157.17" width="8.30" height="2.06" fill="#eed4dc"/>
<rect x="60.50" y="157.17" width="8.30" height="2.06" fill="#eec7ce"/>
<rect x="68.75" y="157.17" width="8.30" height="2.06" fill="#eec0c6"/>
<rect x="77.00" y="157.17" width="8.30" height="2.06" fill="#eeb3b8"/>
<rect x="85.25" y="157.17" width="8.30" height="2.06" fill="#eeb5ba"/>
<rect x="27.50" y="159.18" width="8.30" height="2.06" fill="#dfdaed"/>
<rect x="35.75" y="159.18" width="8.30" height="2.06" fill="#eee3ed"/>
<rect x="44.00" y="159.18" width="8.30" height="2.06" fill="#9d9ed6"/>
<rect x="52.25" y="159.18" width="8.30" height="2.06" fill="#797fc4"/>
<rect x="60.50" y="159.18" width="8.30" height="2.06" fill="#eed5de"/>
<rect x="68.75" y="159.18" width="8.30" height="2.06" fill="#eec4cb"/>
<rect x="77.00" y="159.18" width="8.30" height="2.06" fill="#eee2eb"/>
<rect x="85.25" y="159.18" width="8.30" height="2.06" fill="#eee8f2"/>
<rect x="27.50" y="161.19" width="8.30" height="2.06" fill="#d5d1ea"/>
<rect x="35.75" y="161.19" width="8.30" height="2.06" fill="#eeced6"/>
<rect x="44.00" y="161.19" width="8.30" height="2.06" fill="#a7a8dc"/>
<rect x="52.25" y="161.19" width="8.30" height="2.06" fill="#b3b2e0"/>
<rect x="60.50" y="161.19" width="8.30" height="2.06" fill="#eeb1b5"/>
<rect x="68.75" y="161.19" width="8.30" height="2.06" fill="#eebcc2"/>
<rect x="77.00" y="161.19" width="8.30" height="2.06" fill="#eedfe8"/>
<rect x="85.25" y="161.19" width="8.30" height="2.06" fill="#eecbd2"/>
<rect x="27.50" y="163.20" width="8.30" height="2.06" fill="#d5d1ea"/>
<rect x="35.75" y="163.20" width="8.30" height="2.06" fill="#eedee7"/>
<rect x="44.00" y="163.20" width="8.30" height="2.06" fill="#a5a6db"/>
<rect x="52.25" y="163.20" width="8.30" height="2.06" fill="#989ad4"/>
<rect x="60.50" y="163.20" width="8.30" height="2.06" fill="#eeb0b5"/>
<rect x="68.75" y="163.20" width="8.30" height="2.06" fill="#ea979c"/>
<rect x="77.00" y="163.20" width="8.30" height="2.06" fill="#eed1d8"/>
<rect x="85.25" y="163.20" width="8.30" height="2.06" fill="#eecad1"/>
<rect x="27.50" y="165.21" width="8.30" height="2.06" fill="#eedfe9"/>
<rect x="35.75" y="165.21" width="8.30" height="2.06" fill="#eedde6"/>
<rect x="44.00" y="165.21" width="8.30" height="2.06" fill="#a1a2d8"/>
<rect x="52.25" y="165.21" width="8.30" height="2.06" fill="#9497d2"/>
<rect x="60.50" y="165.21" width="8.30" height="2.06" fill="#eec4ca"/>
<rect x="68.75" y="165.21" width="8.30" height="2.06" fill="#eec4ca"/>
<rect x="77.00" y="165.21" width="8.30" height="2.06" fill="#e7e1f0"/>
<rect x="85.25" y="165.21" width="8.30" height="2.06" fill="#eeb8bd"/>
<rect x="27.50" y="167.22" width="8.30" height="2.06" fill="#c2c0e5"/>
<rect x="35.75" y="167.22" width="8.30" height="2.06" fill="#eec9d0"/>
<rect x="44.00" y="167.22" width="8.30" height="2.06" fill="#989ad4"/>
<rect x="52.25" y="167.22" width="8.30" height="2.06" fill="#b9b8e2"/>
<rect x="60.50" y="167.22" width="8.30" height="2.06" fill="#eeb0b5"/>
<rect x="68.75" y="167.22" width="8.30" height="2.06" fill="#eed4dc"/>
<rect x="77.00" y="167.22" width="8.30" height="2.06" fill="#eec5cc"/>
<rect x="85.25" y="167.22" width="8.30" height="2.06" fill="#eeabaf"/>
<rect x="27.50" y="169.23" width="8.30" height="2.06" fill="#bfbde4"/>
<rect x="35.75" y="169.23" width="8.30" height="2.06" fill="#d3cfea"/>
<rect x="44.00" y="169.23" width="8.30" height="2.06" fill="#6d74be"/>
<rect x="52.25" y="169.23" width="8.30" height="2.06" fill="#a5a5da"/>
<rect x="60.50" y="169.23" width="8.30" height="2.06" fill="#eea8ac"/>
<rect x="68.75" y="169.23" width="8.30" height="2.06" fill="#eec0c6"/>
<rect x="77.00" y="169.23" width="8.30" height="2.06" fill="#eecdd5"/>
<rect x="85.25" y="169.23" width="8.30" height="2.06" fill="#eeadb2"/>
<rect x="27.50" y="171.24" width="8.30" height="2.06" fill="#c7c4e6"/>
<rect x="35.75" y="171.24" width="8.30" height="2.06" fill="#eedde6"/>
<rect x="44.00" y="171.24" width="8.30" height="2.06" fill="#9497d2"/>
<rect x="52.25" y="171.24" width="8.30" height="2.06" fill="#888ccc"/>
<rect x="60.50" y="171.24" width="8.30" height="2.06" fill="#eedee7"/>
<rect x="68.75" y="171.24" width="8.30" height="2.06" fill="#eec2c8"/>
<rect x="77.00" y="171.24" width="8.30" height="2.06" fill="#eeccd4"/>
<rect x="85.25" y="171.24" width="8.30" height="2.06" fill="#e5e0ef"/>
<rect x="27.50" y="173.25" width="8.30" height="2.06" fill="#cdcae8"/>
<rect x="35.75" y="173.25" width="8.30" height="2.06" fill="#eedbe4"/>
<rect x="44.00" y="173.25" width="8.30" height="2.06" fill="#8a8ecd"/>
<rect x="52.25" y="173.25" width="8.30" height="2.06" fill="#a0a2d8"/>
<rect x="60.50" y="173.25" width="8.30" height="2.06" fill="#eecbd2"/>
<rect x="68.75" y="173.25" width="8.30" height="2.06" fill="#eeb0b4"/>
<rect x="77.00" y="173.25" width="8.30" height="2.06" fill="#eeb3b8"/>
<rect x="85.25" y="173.25" width="8.30" height="2.06" fill="#eedbe4"/>
<rect x="27.50" y="175.26" width="8.30" height="2.06" fill="#eedbe4"/>
<rect x="35.75" y="175.26" width="8.30" height="2.06" fill="#eec9d1"/>
<rect x="44.00" y="175.26" width="8.30" height="2.06" fill="#eed4dd"/>
<rect x="52.25" y="175.26" width="8.30" height="2.06" fill="#eeb7bd"/>
<rect x="60.50" y="175.26" width="8.30" height="2.06" fill="#dcd7ec"/>
<rect x="68.75" y="175.26" width="8.30" height="2.06" fill="#eecdd4"/>
<rect x="77.00" y="175.26" width="8.30" height="2.06" fill="#eec4ca"/>
<rect x="85.25" y="175.26" width="8.30" height="2.06" fill="#e4dfef"/>
<rect x="27.50" y="177.27" width="8.30" height="2.06" fill="#eee3ed"/>
<rect x="35.75" y="177.27" width="8.30" height="2.06" fill="#eecdd4"/>
<rect x="44.00" y="177.27" width="8.30" height="2.06" fill="#cecbe8"/>
<rect x="52.25" y="177.27" width="8.30" height="2.06" fill="#c9c6e7"/>
<rect x="60.50" y="177.27" width="8.30" height="2.06" fill="#dbd7ec"/>
<rect x="68.75" y="177.27" width="8.30" height="2.06" fill="#eecfd7"/>
<rect x="77.00" y="177.27" width="8.30" height="2.06" fill="#eedde6"/>
<rect x="85.25" y="177.27" width="8.30" height="2.06" fill="#eec8cf"/>
<rect x="27.50" y="179.28" width="8.30" height="2.06" fill="#eee5ef"/>
<rect x="35.75" y="179.28" width="8.30" height="2.06" fill="#eeced5"/>
<rect x="44.00" y="179.28" width="8.30" height="2.06" fill="#c1bfe4"/>
<rect x="52.25" y="179.28" width="8.30" height="2.06" fill="#e2ddee"/>
<rect x="60.50" y="179.28" width="8.30" height="2.06" fill="#d6d3eb"/>
<rect x="68.75" y="179.28" width="8.30" height="2.06" fill="#eec6cc"/>
<rect x="77.00" y="179.28" width="8.30" height="2.06" fill="#eed8e1"/>
<rect x="85.25" y="179.28" width="8.30" height="2.06" fill="#eed8e0"/>
<rect x="27.50" y="181.29" width="8.30" height="2.06" fill="#eed6de"/>
<rect x="35.75" y="181.29" width="8.30" height="2.06" fill="#eeb8be"/>
<rect x="44.00" y="181.29" width="8.30" height="2.06" fill="#d0cde9"/>
<rect x="52.25" y="181.29" width="8.30" height="2.06" fill="#eeb6bb"/>
<rect x="60.50" y="181.29" width="8.30" height="2.06" fill="#c4c2e5"/>
<rect x="68.75" y="181.29" width="8.30" height="2.06" fill="#eedce5"/>
<rect x="77.00" y="181.29" width="8.30" height="2.06" fill="#eed5de"/>
<rect x="85.25" y="181.29" width="8.30" height="2.06" fill="#eecdd4"/>
<rect x="27.50" y="183.30" width="8.30" height="2.06" fill="#c4c2e5"/>
<rect x="35.75" y="183.30" width="8.30" height="2.06" fill="#eed6de"/>
<rect x="44.00" y="183.30" width="8.30" height="2.06" fill="#eae5f1"/>
<rect x="52.25" y="183.30" width="8.30" height="2.06" fill="#eee2ec"/>
<rect x="60.50" y="183.30" width="8.30" height="2.06" fill="#eed1d8"/>
<rect x="68.75" y="183.30" width="8.30" height="2.06" fill="#eedfe8"/>
<rect x="77.00" y="183.30" width="8.30" height="2.06" fill="#eedae3"/>
<rect x="85.25" y="183.30" width="8.30" height="2.06" fill="#eed5de"/>
<rect x="27.50" y="185.31" width="8.30" height="2.06" fill="#eeadb1"/>
<rect x="35.75" y="185.31" width="8.30" height="2.06" fill="#ebe5f1"/>
<rect x="44.00" y="185.31" width="8.30" height="2.06" fill="#e3deef"/>
<rect x="52.25" y="185.31" width="8.30" height="2.06" fill="#acacde"/>
<rect x="60.50" y="185.31" width="8.30" height="2.06" fill="#eee5ef"/>
<rect x="68.75" y="185.31" width="8.30" height="2.06" fill="#eed9e1"/>
<rect x="77.00" y="185.31" width="8.30" height="2.06" fill="#eeb9bf"/>
<rect x="85.25" y="185.31" width="8.30" height="2.06" fill="#eea8ac"/>
<rect x="60.50" y="178.1" width="16.50" height="2.2" fill="#8a90cc"/>
<rect x="60.50" y="182.6" width="16.50" height="2.2" fill="#e6a0a4"/>
<rect x="27.50" y="22" width="66.00" height="165.32" fill="none" stroke="#4a4452" stroke-width="1"/>
<line x1="25.50" y1="22.50" x2="25.50" y2="47.93" stroke="#555a66" stroke-width="1.1"/>
<line x1="25.50" y1="49.33" x2="25.50" y2="55.97" stroke="#555a66" stroke-width="1.1"/>
<line x1="25.50" y1="57.37" x2="25.50" y2="74.06" stroke="#555a66" stroke-width="1.1"/>
<line x1="25.50" y1="75.46" x2="25.50" y2="146.42" stroke="#555a66" stroke-width="1.1"/>
<line x1="25.50" y1="147.82" x2="25.50" y2="158.48" stroke="#555a66" stroke-width="1.1"/>
<line x1="25.50" y1="159.88" x2="25.50" y2="174.56" stroke="#555a66" stroke-width="1.1"/>
<line x1="25.50" y1="175.96" x2="25.50" y2="186.62" stroke="#555a66" stroke-width="1.1"/>
<text x="20.70" y="38.80" font-size="6.2" text-anchor="middle" stroke="#222" stroke-width="0.24">A</text>
<text x="20.70" y="56.70" font-size="6.2" text-anchor="middle" stroke="#222" stroke-width="0.24">B</text>
<text x="20.70" y="68.70" font-size="6.2" text-anchor="middle" stroke="#222" stroke-width="0.24">C</text>
<text x="20.70" y="112.20" font-size="6.2" text-anchor="middle" stroke="#222" stroke-width="0.24">D</text>
<text x="20.70" y="156.20" font-size="6.2" text-anchor="middle" stroke="#222" stroke-width="0.24">E</text>
<text x="20.70" y="168.20" font-size="6.2" text-anchor="middle" stroke="#222" stroke-width="0.24">F</text>
<text x="20.70" y="177.60" font-size="6.2" text-anchor="middle" stroke="#222" stroke-width="0.24">G</text>
<text x="36.00" y="196.30" font-size="6" text-anchor="middle" stroke="#222" stroke-width="0.24">0hr</text>
<text x="52.80" y="196.30" font-size="6" text-anchor="middle" stroke="#222" stroke-width="0.24">24hr</text>
<text x="68.60" y="196.30" font-size="6" text-anchor="middle" stroke="#222" stroke-width="0.24">33hr</text>
<text x="85.80" y="196.30" font-size="6" text-anchor="middle" stroke="#222" stroke-width="0.24">48hr</text>
<rect x="60.00" y="203.00" width="35.00" height="4.00" fill="url(#cbar)" stroke="#333" stroke-width="0.6"/>
<text x="61.00" y="213.20" font-size="6" text-anchor="middle" stroke="#222" stroke-width="0.24">-3</text>
<text x="77.50" y="213.20" font-size="6" text-anchor="middle" stroke="#222" stroke-width="0.24">0</text>
<text x="93.50" y="213.20" font-size="6" text-anchor="middle" stroke="#222" stroke-width="0.24">3</text>
<path d="M96,24.2 L96,45.5 L109.4,30.2 Z" fill="url(#gA)"/>
<path d="M96,82 L96,142 L109.7,111.5 Z" fill="url(#gA)"/>
<rect x="112.00" y="21.00" width="77.00" height="35.70" fill="#ededed"/>
<rect x="112.00" y="76.30" width="77.20" height="68.70" fill="#ededed"/>
<text x="150.70" y="16.60" font-size="7.5" text-anchor="middle" stroke="#222" stroke-width="0.24">Genes</text>
<text x="150.50" y="29.30" font-size="5.1" text-anchor="middle" stroke="#222" stroke-width="0.24">Bcl2l1, Myd88, Gnai2</text>
<text x="150.50" y="40.80" font-size="5.1" text-anchor="middle" stroke="#222" stroke-width="0.24">Itga4, Nfya, Il12rb2</text>
<text x="150.50" y="52.10" font-size="5.1" text-anchor="middle" stroke="#222" stroke-width="0.24">Polr2c, Cdk7, Cdk11b</text>
<text x="150.50" y="84.20" font-size="5.1" text-anchor="middle" stroke="#222" stroke-width="0.24">Tal1, Rcor1, Bcl11a, Sp1</text>
<text x="150.50" y="95.70" font-size="5.1" text-anchor="middle" stroke="#222" stroke-width="0.24">Stat3 , Ptpn6, Prkcq</text>
<text x="150.50" y="107.40" font-size="5.1" text-anchor="middle" stroke="#222" stroke-width="0.24">Apc, Cdc20, Kif11, Kif2c</text>
<text x="150.50" y="118.20" font-size="5.1" text-anchor="middle" stroke="#222" stroke-width="0.24">Ddx41, Ddx58, Dcp2</text>
<text x="150.50" y="129.20" font-size="5.1" text-anchor="middle" stroke="#222" stroke-width="0.24">Eif2b1, Eif4h, Eif4g1, Eif5a</text>
<text x="150.50" y="140.50" font-size="5.1" text-anchor="middle" stroke="#222" stroke-width="0.24">Rbm8a, Rbm27, Rbm42, Rbmx</text>
<text x="190.30" y="16.20" font-size="10.6" fill="#111" font-weight="bold" stroke="#111" stroke-width="0.4">B</text>
<path d="M190.3,49 L206.5,27 L206.5,91 Z" fill="url(#gB)"/>
<path d="M190.2,124.2 L205.5,124.2 L205,188.5 Z" fill="url(#gB)"/>
<line x1="220.50" y1="21.80" x2="220.50" y2="94.90" stroke="#111" stroke-width="1"/>
<line x1="220.50" y1="94.40" x2="322.50" y2="94.40" stroke="#111" stroke-width="1"/>
<line x1="220.50" y1="94.40" x2="220.50" y2="96.40" stroke="#111" stroke-width="0.8"/>
<text x="220.50" y="106.20" font-size="6" text-anchor="middle" stroke="#222" stroke-width="0.24">0</text>
<line x1="240.80" y1="94.40" x2="240.80" y2="96.40" stroke="#111" stroke-width="0.8"/>
<text x="240.80" y="106.20" font-size="6" text-anchor="middle" stroke="#222" stroke-width="0.24">10</text>
<line x1="261.10" y1="94.40" x2="261.10" y2="96.40" stroke="#111" stroke-width="0.8"/>
<text x="261.10" y="106.20" font-size="6" text-anchor="middle" stroke="#222" stroke-width="0.24">20</text>
<line x1="281.40" y1="94.40" x2="281.40" y2="96.40" stroke="#111" stroke-width="0.8"/>
<text x="281.40" y="106.20" font-size="6" text-anchor="middle" stroke="#222" stroke-width="0.24">30</text>
<line x1="301.70" y1="94.40" x2="301.70" y2="96.40" stroke="#111" stroke-width="0.8"/>
<text x="301.70" y="106.20" font-size="6" text-anchor="middle" stroke="#222" stroke-width="0.24">40</text>
<line x1="322.00" y1="94.40" x2="322.00" y2="96.40" stroke="#111" stroke-width="0.8"/>
<text x="322.00" y="106.20" font-size="6" text-anchor="middle" stroke="#222" stroke-width="0.24">50</text>
<rect x="221.00" y="28.90" width="87.30" height="6.00" fill="#a8102e"/>
<text x="222.50" y="26.50" font-size="6.1" stroke="#222" stroke-width="0.24">Cell cycle</text>
<rect x="221.00" y="42.95" width="61.50" height="6.00" fill="#a8102e"/>
<text x="222.50" y="40.55" font-size="6.1" stroke="#222" stroke-width="0.24">Cancer</text>
<rect x="221.00" y="57.00" width="57.50" height="6.00" fill="#a8102e"/>
<text x="222.50" y="54.60" font-size="6.1" stroke="#222" stroke-width="0.24">Hematological system development and function</text>
<rect x="221.00" y="71.05" width="43.60" height="6.00" fill="#a8102e"/>
<text x="222.50" y="68.65" font-size="6.1" stroke="#222" stroke-width="0.24">Cellular growth and proliferation</text>
<rect x="221.00" y="85.10" width="39.60" height="6.00" fill="#a8102e"/>
<text x="222.50" y="82.70" font-size="6.1" stroke="#222" stroke-width="0.24">Inflammatory response</text>
<text x="271.70" y="116.30" font-size="6.5" text-anchor="middle" stroke="#222" stroke-width="0.24">Pathway score</text>
<line x1="220.50" y1="121.50" x2="220.50" y2="194.50" stroke="#111" stroke-width="1"/>
<line x1="220.50" y1="194.00" x2="322.60" y2="194.00" stroke="#111" stroke-width="1"/>
<line x1="220.50" y1="194.00" x2="220.50" y2="196.00" stroke="#111" stroke-width="0.8"/>
<text x="220.50" y="205.80" font-size="6" text-anchor="middle" stroke="#222" stroke-width="0.24">0</text>
<line x1="237.10" y1="194.00" x2="237.10" y2="196.00" stroke="#111" stroke-width="0.8"/>
<text x="237.10" y="205.80" font-size="6" text-anchor="middle" stroke="#222" stroke-width="0.24">10</text>
<line x1="253.70" y1="194.00" x2="253.70" y2="196.00" stroke="#111" stroke-width="0.8"/>
<text x="253.70" y="205.80" font-size="6" text-anchor="middle" stroke="#222" stroke-width="0.24">20</text>
<line x1="270.30" y1="194.00" x2="270.30" y2="196.00" stroke="#111" stroke-width="0.8"/>
<text x="270.30" y="205.80" font-size="6" text-anchor="middle" stroke="#222" stroke-width="0.24">30</text>
<line x1="286.90" y1="194.00" x2="286.90" y2="196.00" stroke="#111" stroke-width="0.8"/>
<text x="286.90" y="205.80" font-size="6" text-anchor="middle" stroke="#222" stroke-width="0.24">40</text>
<line x1="303.50" y1="194.00" x2="303.50" y2="196.00" stroke="#111" stroke-width="0.8"/>
<text x="303.50" y="205.80" font-size="6" text-anchor="middle" stroke="#222" stroke-width="0.24">50</text>
<line x1="320.10" y1="194.00" x2="320.10" y2="196.00" stroke="#111" stroke-width="0.8"/>
<text x="320.10" y="205.80" font-size="6" text-anchor="middle" stroke="#222" stroke-width="0.24">60</text>
<rect x="221.00" y="129.40" width="87.80" height="6.00" fill="#6aaa40"/>
<text x="222.50" y="127.00" font-size="6.1" stroke="#222" stroke-width="0.24">Cellular assembly and organization</text>
<rect x="221.00" y="143.45" width="82.60" height="6.00" fill="#6aaa40"/>
<text x="222.50" y="141.05" font-size="6.1" stroke="#222" stroke-width="0.24">RNA post-transcriptional modification</text>
<rect x="221.00" y="157.50" width="74.00" height="6.00" fill="#6aaa40"/>
<text x="222.50" y="155.10" font-size="6.1" stroke="#222" stroke-width="0.24">Mitochondrial metabolism</text>
<rect x="221.00" y="171.55" width="70.80" height="6.00" fill="#6aaa40"/>
<text x="222.50" y="169.15" font-size="6.1" stroke="#222" stroke-width="0.24">Cellular function and maintenance</text>
<rect x="221.00" y="185.60" width="70.80" height="6.00" fill="#6aaa40"/>
<text x="222.50" y="183.20" font-size="6.1" stroke="#222" stroke-width="0.24">Post-translational modification</text>
<text x="271.70" y="216.60" font-size="6.5" text-anchor="middle" stroke="#222" stroke-width="0.24">Pathway score</text>
<text x="215.90" y="57.50" font-size="6.6" text-anchor="middle" transform="rotate(-90 215.90 57.50)" stroke="#222" stroke-width="0.24">Top gene pathways</text>
<text x="215.90" y="158.50" font-size="6.6" text-anchor="middle" transform="rotate(-90 215.90 158.50)" stroke="#222" stroke-width="0.24">Top gene pathways</text>
<text x="359.20" y="16.60" font-size="10.6" fill="#111" font-weight="bold" stroke="#111" stroke-width="0.4">C</text>
<line x1="395.30" y1="24.70" x2="395.30" y2="96.70" stroke="#111" stroke-width="1"/>
<line x1="395.30" y1="96.20" x2="513.50" y2="96.20" stroke="#111" stroke-width="1"/>
<line x1="392.00" y1="96.20" x2="395.30" y2="96.20" stroke="#111" stroke-width="0.9"/>
<text x="389.40" y="98.60" font-size="5.5" text-anchor="end" stroke="#222" stroke-width="0.24">0</text>
<line x1="392.00" y1="82.00" x2="395.30" y2="82.00" stroke="#111" stroke-width="0.9"/>
<text x="389.40" y="84.40" font-size="5.5" text-anchor="end" stroke="#222" stroke-width="0.24">20</text>
<line x1="392.00" y1="67.80" x2="395.30" y2="67.80" stroke="#111" stroke-width="0.9"/>
<text x="389.40" y="70.20" font-size="5.5" text-anchor="end" stroke="#222" stroke-width="0.24">40</text>
<line x1="392.00" y1="53.60" x2="395.30" y2="53.60" stroke="#111" stroke-width="0.9"/>
<text x="389.40" y="56.00" font-size="5.5" text-anchor="end" stroke="#222" stroke-width="0.24">60</text>
<line x1="392.00" y1="39.40" x2="395.30" y2="39.40" stroke="#111" stroke-width="0.9"/>
<text x="389.40" y="41.80" font-size="5.5" text-anchor="end" stroke="#222" stroke-width="0.24">80</text>
<line x1="392.00" y1="25.20" x2="395.30" y2="25.20" stroke="#111" stroke-width="0.9"/>
<text x="389.40" y="27.60" font-size="5.5" text-anchor="end" stroke="#222" stroke-width="0.24">100</text>
<line x1="405.60" y1="96.20" x2="405.60" y2="98.20" stroke="#111" stroke-width="0.8"/>
<rect x="398.20" y="42.24" width="3.90" height="53.96" fill="#d48c82"/>
<rect x="398.60" y="41.14" width="3.10" height="1.30" fill="#3a1a1a"/>
<rect x="403.80" y="47.21" width="3.90" height="48.99" fill="#b9585a"/>
<rect x="404.20" y="46.11" width="3.10" height="1.30" fill="#3a1a1a"/>
<rect x="409.30" y="62.12" width="3.90" height="34.08" fill="#a00a2d"/>
<rect x="409.70" y="61.02" width="3.10" height="1.30" fill="#3a1a1a"/>
<text x="408.20" y="105.80" font-size="5.5" text-anchor="end" transform="rotate(-45 408.20 105.80)" stroke="#222" stroke-width="0.24">Bcl2l1</text>
<line x1="425.20" y1="96.20" x2="425.20" y2="98.20" stroke="#111" stroke-width="0.8"/>
<rect x="417.80" y="33.01" width="3.90" height="63.19" fill="#d48c82"/>
<rect x="418.20" y="31.91" width="3.10" height="1.30" fill="#3a1a1a"/>
<rect x="423.40" y="32.30" width="3.90" height="63.90" fill="#b9585a"/>
<rect x="423.80" y="31.20" width="3.10" height="1.30" fill="#3a1a1a"/>
<rect x="428.90" y="70.64" width="3.90" height="25.56" fill="#a00a2d"/>
<rect x="429.30" y="69.54" width="3.10" height="1.30" fill="#3a1a1a"/>
<text x="427.80" y="105.80" font-size="5.5" text-anchor="end" transform="rotate(-45 427.80 105.80)" stroke="#222" stroke-width="0.24">Myd88</text>
<line x1="444.80" y1="96.20" x2="444.80" y2="98.20" stroke="#111" stroke-width="0.8"/>
<rect x="437.40" y="67.09" width="3.90" height="29.11" fill="#d48c82"/>
<rect x="437.80" y="65.99" width="3.10" height="1.30" fill="#3a1a1a"/>
<rect x="443.00" y="58.57" width="3.90" height="37.63" fill="#b9585a"/>
<rect x="443.40" y="57.47" width="3.10" height="1.30" fill="#3a1a1a"/>
<rect x="448.50" y="91.94" width="3.90" height="4.26" fill="#a00a2d"/>
<rect x="448.90" y="90.84" width="3.10" height="1.30" fill="#3a1a1a"/>
<text x="447.40" y="105.80" font-size="5.5" text-anchor="end" transform="rotate(-45 447.40 105.80)" stroke="#222" stroke-width="0.24">Gnai2</text>
<line x1="464.40" y1="96.20" x2="464.40" y2="98.20" stroke="#111" stroke-width="0.8"/>
<rect x="457.00" y="31.59" width="3.90" height="64.61" fill="#d48c82"/>
<rect x="457.40" y="30.49" width="3.10" height="1.30" fill="#3a1a1a"/>
<rect x="462.60" y="30.17" width="3.90" height="66.03" fill="#b9585a"/>
<rect x="463.00" y="29.07" width="3.10" height="1.30" fill="#3a1a1a"/>
<rect x="468.10" y="49.34" width="3.90" height="46.86" fill="#a00a2d"/>
<rect x="468.50" y="48.24" width="3.10" height="1.30" fill="#3a1a1a"/>
<text x="467.00" y="105.80" font-size="5.5" text-anchor="end" transform="rotate(-45 467.00 105.80)" stroke="#222" stroke-width="0.24">Itga4</text>
<line x1="484.00" y1="96.20" x2="484.00" y2="98.20" stroke="#111" stroke-width="0.8"/>
<rect x="476.60" y="33.72" width="3.90" height="62.48" fill="#d48c82"/>
<rect x="477.00" y="32.62" width="3.10" height="1.30" fill="#3a1a1a"/>
<rect x="482.20" y="33.01" width="3.90" height="63.19" fill="#b9585a"/>
<rect x="482.60" y="31.91" width="3.10" height="1.30" fill="#3a1a1a"/>
<rect x="487.70" y="57.15" width="3.90" height="39.05" fill="#a00a2d"/>
<rect x="488.10" y="56.05" width="3.10" height="1.30" fill="#3a1a1a"/>
<text x="486.60" y="105.80" font-size="5.5" text-anchor="end" transform="rotate(-45 486.60 105.80)" stroke="#222" stroke-width="0.24">Nfya</text>
<line x1="503.60" y1="96.20" x2="503.60" y2="98.20" stroke="#111" stroke-width="0.8"/>
<rect x="496.20" y="55.02" width="3.90" height="41.18" fill="#d48c82"/>
<rect x="496.60" y="53.92" width="3.10" height="1.30" fill="#3a1a1a"/>
<rect x="501.80" y="42.24" width="3.90" height="53.96" fill="#b9585a"/>
<rect x="502.20" y="41.14" width="3.10" height="1.30" fill="#3a1a1a"/>
<rect x="507.30" y="91.94" width="3.90" height="4.26" fill="#a00a2d"/>
<rect x="507.70" y="90.84" width="3.10" height="1.30" fill="#3a1a1a"/>
<text x="506.20" y="105.80" font-size="5.5" text-anchor="end" transform="rotate(-45 506.20 105.80)" stroke="#222" stroke-width="0.24">Polr2c</text>
<text x="365.00" y="59.60" font-size="6.8" text-anchor="middle" transform="rotate(-90 365.00 59.60)" stroke="#222" stroke-width="0.24">Percentage</text>
<text x="374.40" y="59.60" font-size="6.8" text-anchor="middle" transform="rotate(-90 374.40 59.60)" stroke="#222" stroke-width="0.24">on polyribosomes</text>
<line x1="395.30" y1="126.30" x2="395.30" y2="198.40" stroke="#111" stroke-width="1"/>
<line x1="395.30" y1="197.90" x2="494.00" y2="197.90" stroke="#111" stroke-width="1"/>
<line x1="392.00" y1="197.90" x2="395.30" y2="197.90" stroke="#111" stroke-width="0.9"/>
<text x="389.40" y="200.30" font-size="5.5" text-anchor="end" stroke="#222" stroke-width="0.24">0</text>
<line x1="392.00" y1="183.68" x2="395.30" y2="183.68" stroke="#111" stroke-width="0.9"/>
<text x="389.40" y="186.08" font-size="5.5" text-anchor="end" stroke="#222" stroke-width="0.24">20</text>
<line x1="392.00" y1="169.46" x2="395.30" y2="169.46" stroke="#111" stroke-width="0.9"/>
<text x="389.40" y="171.86" font-size="5.5" text-anchor="end" stroke="#222" stroke-width="0.24">40</text>
<line x1="392.00" y1="155.24" x2="395.30" y2="155.24" stroke="#111" stroke-width="0.9"/>
<text x="389.40" y="157.64" font-size="5.5" text-anchor="end" stroke="#222" stroke-width="0.24">60</text>
<line x1="392.00" y1="141.02" x2="395.30" y2="141.02" stroke="#111" stroke-width="0.9"/>
<text x="389.40" y="143.42" font-size="5.5" text-anchor="end" stroke="#222" stroke-width="0.24">80</text>
<line x1="392.00" y1="126.80" x2="395.30" y2="126.80" stroke="#111" stroke-width="0.9"/>
<text x="389.40" y="129.20" font-size="5.5" text-anchor="end" stroke="#222" stroke-width="0.24">100</text>
<line x1="405.60" y1="197.90" x2="405.60" y2="199.90" stroke="#111" stroke-width="0.8"/>
<rect x="398.20" y="169.46" width="3.90" height="28.44" fill="#d48c82"/>
<rect x="398.60" y="168.36" width="3.10" height="1.30" fill="#3a1a1a"/>
<rect x="403.80" y="166.62" width="3.90" height="31.28" fill="#b9585a"/>
<rect x="404.20" y="165.52" width="3.10" height="1.30" fill="#3a1a1a"/>
<rect x="409.30" y="148.84" width="3.90" height="49.06" fill="#a00a2d"/>
<rect x="409.70" y="147.74" width="3.10" height="1.30" fill="#3a1a1a"/>
<text x="408.20" y="207.50" font-size="5.5" text-anchor="end" transform="rotate(-45 408.20 207.50)" stroke="#222" stroke-width="0.24">Tal1</text>
<line x1="425.20" y1="197.90" x2="425.20" y2="199.90" stroke="#111" stroke-width="0.8"/>
<rect x="417.80" y="178.70" width="3.90" height="19.20" fill="#d48c82"/>
<rect x="418.20" y="177.60" width="3.10" height="1.30" fill="#3a1a1a"/>
<rect x="423.40" y="170.88" width="3.90" height="27.02" fill="#b9585a"/>
<rect x="423.80" y="169.78" width="3.10" height="1.30" fill="#3a1a1a"/>
<rect x="428.90" y="160.93" width="3.90" height="36.97" fill="#a00a2d"/>
<rect x="429.30" y="159.83" width="3.10" height="1.30" fill="#3a1a1a"/>
<text x="427.80" y="207.50" font-size="5.5" text-anchor="end" transform="rotate(-45 427.80 207.50)" stroke="#222" stroke-width="0.24">Bcl11a</text>
<line x1="444.80" y1="197.90" x2="444.80" y2="199.90" stroke="#111" stroke-width="0.8"/>
<rect x="437.40" y="158.80" width="3.90" height="39.10" fill="#d48c82"/>
<rect x="437.80" y="157.70" width="3.10" height="1.30" fill="#3a1a1a"/>
<rect x="443.00" y="151.69" width="3.90" height="46.22" fill="#b9585a"/>
<rect x="443.40" y="150.59" width="3.10" height="1.30" fill="#3a1a1a"/>
<rect x="448.50" y="134.62" width="3.90" height="63.28" fill="#a00a2d"/>
<rect x="448.90" y="133.52" width="3.10" height="1.30" fill="#3a1a1a"/>
<text x="447.40" y="207.50" font-size="5.5" text-anchor="end" transform="rotate(-45 447.40 207.50)" stroke="#222" stroke-width="0.24">Rcor1</text>
<line x1="464.40" y1="197.90" x2="464.40" y2="199.90" stroke="#111" stroke-width="0.8"/>
<rect x="457.00" y="175.15" width="3.90" height="22.75" fill="#d48c82"/>
<rect x="457.40" y="174.05" width="3.10" height="1.30" fill="#3a1a1a"/>
<rect x="462.60" y="167.33" width="3.90" height="30.57" fill="#b9585a"/>
<rect x="463.00" y="166.23" width="3.10" height="1.30" fill="#3a1a1a"/>
<rect x="468.10" y="152.40" width="3.90" height="45.50" fill="#a00a2d"/>
<rect x="468.50" y="151.30" width="3.10" height="1.30" fill="#3a1a1a"/>
<text x="467.00" y="207.50" font-size="5.5" text-anchor="end" transform="rotate(-45 467.00 207.50)" stroke="#222" stroke-width="0.24">Sp1</text>
<line x1="484.00" y1="197.90" x2="484.00" y2="199.90" stroke="#111" stroke-width="0.8"/>
<rect x="476.60" y="173.73" width="3.90" height="24.17" fill="#d48c82"/>
<rect x="477.00" y="172.63" width="3.10" height="1.30" fill="#3a1a1a"/>
<rect x="482.20" y="166.62" width="3.90" height="31.28" fill="#b9585a"/>
<rect x="482.60" y="165.52" width="3.10" height="1.30" fill="#3a1a1a"/>
<rect x="487.70" y="160.22" width="3.90" height="37.68" fill="#a00a2d"/>
<rect x="488.10" y="159.12" width="3.10" height="1.30" fill="#3a1a1a"/>
<text x="486.60" y="207.50" font-size="5.5" text-anchor="end" transform="rotate(-45 486.60 207.50)" stroke="#222" stroke-width="0.24">Stat3</text>
<text x="365.00" y="162.50" font-size="6.8" text-anchor="middle" transform="rotate(-90 365.00 162.50)" stroke="#222" stroke-width="0.24">Percentage</text>
<text x="374.40" y="162.50" font-size="6.8" text-anchor="middle" transform="rotate(-90 374.40 162.50)" stroke="#222" stroke-width="0.24">on polyribosomes</text>
<rect x="395.40" y="225.00" width="8.10" height="4.60" fill="#d48c82"/>
<text x="407.00" y="229.40" font-size="6" stroke="#222" stroke-width="0.24">0 hrs</text>
<rect x="428.90" y="225.00" width="8.80" height="4.60" fill="#b9585a"/>
<text x="440.40" y="229.40" font-size="6" stroke="#222" stroke-width="0.24">24 hrs</text>
<rect x="466.30" y="225.00" width="8.30" height="4.60" fill="#a00a2d"/>
<text x="477.40" y="229.40" font-size="6" stroke="#222" stroke-width="0.24">48 hrs</text>
<text x="5.80" y="249.60" font-size="10.6" fill="#111" font-weight="bold" stroke="#111" stroke-width="0.4">D</text>
<rect x="32.7" y="249" width="88.3" height="85" fill="none" stroke="#1a1a1a" stroke-width="1"/>
<line x1="29.60" y1="331.50" x2="32.70" y2="331.50" stroke="#1a1a1a" stroke-width="0.9"/>
<text x="27.40" y="333.60" font-size="6" text-anchor="end" stroke="#222" stroke-width="0.24">0</text>
<line x1="29.60" y1="317.12" x2="32.70" y2="317.12" stroke="#1a1a1a" stroke-width="0.9"/>
<text x="27.40" y="319.22" font-size="6" text-anchor="end" stroke="#222" stroke-width="0.24">1</text>
<line x1="29.60" y1="302.74" x2="32.70" y2="302.74" stroke="#1a1a1a" stroke-width="0.9"/>
<text x="27.40" y="304.84" font-size="6" text-anchor="end" stroke="#222" stroke-width="0.24">2</text>
<line x1="29.60" y1="288.36" x2="32.70" y2="288.36" stroke="#1a1a1a" stroke-width="0.9"/>
<text x="27.40" y="290.46" font-size="6" text-anchor="end" stroke="#222" stroke-width="0.24">3</text>
<line x1="29.60" y1="273.98" x2="32.70" y2="273.98" stroke="#1a1a1a" stroke-width="0.9"/>
<text x="27.40" y="276.08" font-size="6" text-anchor="end" stroke="#222" stroke-width="0.24">4</text>
<line x1="29.60" y1="259.60" x2="32.70" y2="259.60" stroke="#1a1a1a" stroke-width="0.9"/>
<text x="27.40" y="261.70" font-size="6" text-anchor="end" stroke="#222" stroke-width="0.24">5</text>
<text x="18.80" y="293.30" font-size="6.9" text-anchor="middle" transform="rotate(-90 18.80 293.30)" stroke="#222" stroke-width="0.24">Translation efficiency</text>
<rect x="37.6" y="254.4" width="3.6" height="3.4" fill="#fff" stroke="#4a5a80" stroke-width="0.9"/>
<rect x="37.30" y="260.40" width="4.10" height="4.10" fill="#a80a2d"/>
<text x="44.50" y="258.30" font-size="6" stroke="#222" stroke-width="0.24">All mRNAs</text>
<text x="44.50" y="264.60" font-size="6" stroke="#222" stroke-width="0.24">uORF mRNAs</text>
<line x1="41.30" y1="283.00" x2="41.30" y2="306.50" stroke="#222" stroke-width="1.1" stroke-dasharray="1.6,2.2"/>
<path d="M39.50,280.70 L43.10,280.70 L41.30,283.30 Z" fill="#1a1a1a"/>
<line x1="41.30" y1="323.50" x2="41.30" y2="328.00" stroke="#222" stroke-width="1.1" stroke-dasharray="1.4,2"/>
<path d="M39.50,331.20 L43.10,331.20 L41.30,328.60 Z" fill="#1a1a1a"/>
<line x1="41.30" y1="334.00" x2="41.30" y2="337.00" stroke="#1a1a1a" stroke-width="0.9"/>
<rect x="37.60" y="306.50" width="7.40" height="17.00" fill="#fff" stroke="#56658c" stroke-width="1"/>
<line x1="37.60" y1="316.70" x2="45.00" y2="316.70" stroke="#3a3f55" stroke-width="1.1"/>
<line x1="51.60" y1="295.20" x2="51.60" y2="311.60" stroke="#222" stroke-width="1.1" stroke-dasharray="1.6,2.2"/>
<path d="M49.80,292.90 L53.40,292.90 L51.60,295.50 Z" fill="#1a1a1a"/>
<line x1="51.60" y1="324.00" x2="51.60" y2="328.00" stroke="#222" stroke-width="1.1" stroke-dasharray="1.4,2"/>
<path d="M49.80,331.20 L53.40,331.20 L51.60,328.60 Z" fill="#1a1a1a"/>
<line x1="51.60" y1="334.00" x2="51.60" y2="337.00" stroke="#1a1a1a" stroke-width="0.9"/>
<rect x="47.70" y="311.60" width="7.80" height="12.40" fill="#a80a2d"/>
<line x1="47.70" y1="318.40" x2="55.50" y2="318.40" stroke="#6a0018" stroke-width="1.2"/>
<line x1="61.80" y1="287.20" x2="61.80" y2="308.60" stroke="#222" stroke-width="1.1" stroke-dasharray="1.6,2.2"/>
<path d="M60.00,284.90 L63.60,284.90 L61.80,287.50 Z" fill="#1a1a1a"/>
<line x1="61.80" y1="323.40" x2="61.80" y2="328.00" stroke="#222" stroke-width="1.1" stroke-dasharray="1.4,2"/>
<path d="M60.00,331.20 L63.60,331.20 L61.80,328.60 Z" fill="#1a1a1a"/>
<line x1="61.80" y1="334.00" x2="61.80" y2="337.00" stroke="#1a1a1a" stroke-width="0.9"/>
<rect x="58.10" y="308.60" width="7.40" height="14.80" fill="#fff" stroke="#56658c" stroke-width="1"/>
<line x1="58.10" y1="317.50" x2="65.50" y2="317.50" stroke="#3a3f55" stroke-width="1.1"/>
<line x1="72.45" y1="296.10" x2="72.45" y2="312.70" stroke="#222" stroke-width="1.1" stroke-dasharray="1.6,2.2"/>
<path d="M70.65,293.80 L74.25,293.80 L72.45,296.40 Z" fill="#1a1a1a"/>
<line x1="72.45" y1="324.50" x2="72.45" y2="328.00" stroke="#222" stroke-width="1.1" stroke-dasharray="1.4,2"/>
<path d="M70.65,331.20 L74.25,331.20 L72.45,328.60 Z" fill="#1a1a1a"/>
<line x1="72.45" y1="334.00" x2="72.45" y2="337.00" stroke="#1a1a1a" stroke-width="0.9"/>
<rect x="68.70" y="312.70" width="7.50" height="11.80" fill="#a80a2d"/>
<line x1="68.70" y1="318.50" x2="76.20" y2="318.50" stroke="#6a0018" stroke-width="1.2"/>
<line x1="82.35" y1="288.00" x2="82.35" y2="308.60" stroke="#222" stroke-width="1.1" stroke-dasharray="1.6,2.2"/>
<path d="M80.55,285.70 L84.15,285.70 L82.35,288.30 Z" fill="#1a1a1a"/>
<line x1="82.35" y1="323.40" x2="82.35" y2="328.00" stroke="#222" stroke-width="1.1" stroke-dasharray="1.4,2"/>
<path d="M80.55,331.20 L84.15,331.20 L82.35,328.60 Z" fill="#1a1a1a"/>
<line x1="82.35" y1="334.00" x2="82.35" y2="337.00" stroke="#1a1a1a" stroke-width="0.9"/>
<rect x="78.50" y="308.60" width="7.70" height="14.80" fill="#fff" stroke="#56658c" stroke-width="1"/>
<line x1="78.50" y1="317.50" x2="86.20" y2="317.50" stroke="#3a3f55" stroke-width="1.1"/>
<line x1="92.90" y1="298.00" x2="92.90" y2="313.50" stroke="#222" stroke-width="1.1" stroke-dasharray="1.6,2.2"/>
<path d="M91.10,295.70 L94.70,295.70 L92.90,298.30 Z" fill="#1a1a1a"/>
<line x1="92.90" y1="325.00" x2="92.90" y2="328.00" stroke="#222" stroke-width="1.1" stroke-dasharray="1.4,2"/>
<path d="M91.10,331.20 L94.70,331.20 L92.90,328.60 Z" fill="#1a1a1a"/>
<line x1="92.90" y1="334.00" x2="92.90" y2="337.00" stroke="#1a1a1a" stroke-width="0.9"/>
<rect x="89.40" y="313.50" width="7.00" height="11.50" fill="#a80a2d"/>
<line x1="89.40" y1="319.40" x2="96.40" y2="319.40" stroke="#6a0018" stroke-width="1.2"/>
<line x1="102.75" y1="257.50" x2="102.75" y2="296.00" stroke="#222" stroke-width="1.1" stroke-dasharray="1.6,2.2"/>
<path d="M100.95,255.20 L104.55,255.20 L102.75,257.80 Z" fill="#1a1a1a"/>
<line x1="102.75" y1="322.70" x2="102.75" y2="328.00" stroke="#222" stroke-width="1.1" stroke-dasharray="1.4,2"/>
<path d="M100.95,331.20 L104.55,331.20 L102.75,328.60 Z" fill="#1a1a1a"/>
<line x1="102.75" y1="334.00" x2="102.75" y2="337.00" stroke="#1a1a1a" stroke-width="0.9"/>
<rect x="99.00" y="296.00" width="7.50" height="26.70" fill="#fff" stroke="#56658c" stroke-width="1"/>
<line x1="99.00" y1="312.90" x2="106.50" y2="312.90" stroke="#3a3f55" stroke-width="1.1"/>
<line x1="113.10" y1="277.80" x2="113.10" y2="303.80" stroke="#222" stroke-width="1.1" stroke-dasharray="1.6,2.2"/>
<path d="M111.30,275.50 L114.90,275.50 L113.10,278.10 Z" fill="#1a1a1a"/>
<line x1="113.10" y1="322.70" x2="113.10" y2="328.00" stroke="#222" stroke-width="1.1" stroke-dasharray="1.4,2"/>
<path d="M111.30,331.20 L114.90,331.20 L113.10,328.60 Z" fill="#1a1a1a"/>
<line x1="113.10" y1="334.00" x2="113.10" y2="337.00" stroke="#1a1a1a" stroke-width="0.9"/>
<rect x="109.00" y="303.80" width="8.20" height="18.90" fill="#a80a2d"/>
<line x1="109.00" y1="316.70" x2="117.20" y2="316.70" stroke="#6a0018" stroke-width="1.2"/>
<text x="46.20" y="346.20" font-size="6.2" text-anchor="middle" stroke="#222" stroke-width="0.24">0hr</text>
<text x="67.30" y="346.20" font-size="6.2" text-anchor="middle" stroke="#222" stroke-width="0.24">24hr</text>
<text x="86.90" y="346.20" font-size="6.2" text-anchor="middle" stroke="#222" stroke-width="0.24">33hr</text>
<text x="107.30" y="346.20" font-size="6.2" text-anchor="middle" stroke="#222" stroke-width="0.24">48hr</text>
<text x="6.00" y="364.00" font-size="10.6" fill="#111" font-weight="bold" stroke="#111" stroke-width="0.4">E</text>
<text x="52.20" y="365.50" font-size="6.1" text-anchor="middle" stroke="#222" stroke-width="0.24">Upstream ORF</text>
<text x="105.60" y="365.50" font-size="6.1" text-anchor="middle" stroke="#222" stroke-width="0.24">Downstream CDS</text>
<rect x="27.20" y="369.20" width="12.45" height="4.00" fill="#eea8ac"/>
<rect x="39.60" y="369.20" width="12.45" height="4.00" fill="#eee8f2"/>
<rect x="52.00" y="369.20" width="12.45" height="4.00" fill="#d4d0ea"/>
<rect x="64.40" y="369.20" width="12.45" height="4.00" fill="#c6c4e6"/>
<rect x="27.20" y="373.15" width="12.45" height="4.00" fill="#eedbe4"/>
<rect x="39.60" y="373.15" width="12.45" height="4.00" fill="#888ccc"/>
<rect x="52.00" y="373.15" width="12.45" height="4.00" fill="#eeb5ba"/>
<rect x="64.40" y="373.15" width="12.45" height="4.00" fill="#eee8f2"/>
<rect x="27.20" y="377.10" width="12.45" height="4.00" fill="#ea9a9e"/>
<rect x="39.60" y="377.10" width="12.45" height="4.00" fill="#9e9fd7"/>
<rect x="52.00" y="377.10" width="12.45" height="4.00" fill="#eee8f2"/>
<rect x="64.40" y="377.10" width="12.45" height="4.00" fill="#d4d0ea"/>
<rect x="27.20" y="381.06" width="12.45" height="4.00" fill="#d4d0ea"/>
<rect x="39.60" y="381.06" width="12.45" height="4.00" fill="#8f92cf"/>
<rect x="52.00" y="381.06" width="12.45" height="4.00" fill="#eec2c8"/>
<rect x="64.40" y="381.06" width="12.45" height="4.00" fill="#eed5dd"/>
<rect x="27.20" y="385.01" width="12.45" height="4.00" fill="#8186c8"/>
<rect x="39.60" y="385.01" width="12.45" height="4.00" fill="#eee8f2"/>
<rect x="52.00" y="385.01" width="12.45" height="4.00" fill="#eebbc1"/>
<rect x="64.40" y="385.01" width="12.45" height="4.00" fill="#eed5dd"/>
<rect x="27.20" y="388.96" width="12.45" height="4.00" fill="#888ccc"/>
<rect x="39.60" y="388.96" width="12.45" height="4.00" fill="#eeced6"/>
<rect x="52.00" y="388.96" width="12.45" height="4.00" fill="#eebbc1"/>
<rect x="64.40" y="388.96" width="12.45" height="4.00" fill="#dad6ec"/>
<rect x="27.20" y="392.91" width="12.45" height="4.00" fill="#c6c4e6"/>
<rect x="39.60" y="392.91" width="12.45" height="4.00" fill="#eec8cf"/>
<rect x="52.00" y="392.91" width="12.45" height="4.00" fill="#eec2c8"/>
<rect x="64.40" y="392.91" width="12.45" height="4.00" fill="#b3b2e0"/>
<rect x="27.20" y="396.87" width="12.45" height="4.00" fill="#8f92cf"/>
<rect x="39.60" y="396.87" width="12.45" height="4.00" fill="#eee8f2"/>
<rect x="52.00" y="396.87" width="12.45" height="4.00" fill="#eed5dd"/>
<rect x="64.40" y="396.87" width="12.45" height="4.00" fill="#eec2c8"/>
<rect x="27.20" y="400.82" width="12.45" height="4.00" fill="#888ccc"/>
<rect x="39.60" y="400.82" width="12.45" height="4.00" fill="#eee8f2"/>
<rect x="52.00" y="400.82" width="12.45" height="4.00" fill="#eed5dd"/>
<rect x="64.40" y="400.82" width="12.45" height="4.00" fill="#eec2c8"/>
<rect x="27.20" y="404.77" width="12.45" height="4.00" fill="#8f92cf"/>
<rect x="39.60" y="404.77" width="12.45" height="4.00" fill="#eec8cf"/>
<rect x="52.00" y="404.77" width="12.45" height="4.00" fill="#eec8cf"/>
<rect x="64.40" y="404.77" width="12.45" height="4.00" fill="#cdcae8"/>
<rect x="27.20" y="408.72" width="12.45" height="4.00" fill="#dad6ec"/>
<rect x="39.60" y="408.72" width="12.45" height="4.00" fill="#dad6ec"/>
<rect x="52.00" y="408.72" width="12.45" height="4.00" fill="#eec2c8"/>
<rect x="64.40" y="408.72" width="12.45" height="4.00" fill="#acacde"/>
<rect x="27.20" y="412.68" width="12.45" height="4.00" fill="#ea9a9e"/>
<rect x="39.60" y="412.68" width="12.45" height="4.00" fill="#d4d0ea"/>
<rect x="52.00" y="412.68" width="12.45" height="4.00" fill="#eed5dd"/>
<rect x="64.40" y="412.68" width="12.45" height="4.00" fill="#b3b2e0"/>
<rect x="27.20" y="416.63" width="12.45" height="4.00" fill="#eeb5ba"/>
<rect x="39.60" y="416.63" width="12.45" height="4.00" fill="#cdcae8"/>
<rect x="52.00" y="416.63" width="12.45" height="4.00" fill="#d4d0ea"/>
<rect x="64.40" y="416.63" width="12.45" height="4.00" fill="#eee8f2"/>
<rect x="27.20" y="420.58" width="12.45" height="4.00" fill="#888ccc"/>
<rect x="39.60" y="420.58" width="12.45" height="4.00" fill="#eee8f2"/>
<rect x="52.00" y="420.58" width="12.45" height="4.00" fill="#eee8f2"/>
<rect x="64.40" y="420.58" width="12.45" height="4.00" fill="#eebbc1"/>
<rect x="27.20" y="424.53" width="12.45" height="4.00" fill="#eed5dd"/>
<rect x="39.60" y="424.53" width="12.45" height="4.00" fill="#eee8f2"/>
<rect x="52.00" y="424.53" width="12.45" height="4.00" fill="#7279c0"/>
<rect x="64.40" y="424.53" width="12.45" height="4.00" fill="#eebbc1"/>
<rect x="27.20" y="428.49" width="12.45" height="4.00" fill="#eeaeb3"/>
<rect x="39.60" y="428.49" width="12.45" height="4.00" fill="#dad6ec"/>
<rect x="52.00" y="428.49" width="12.45" height="4.00" fill="#7a7fc4"/>
<rect x="64.40" y="428.49" width="12.45" height="4.00" fill="#eed5dd"/>
<rect x="27.20" y="432.44" width="12.45" height="4.00" fill="#eeaeb3"/>
<rect x="39.60" y="432.44" width="12.45" height="4.00" fill="#7279c0"/>
<rect x="52.00" y="432.44" width="12.45" height="4.00" fill="#eee8f2"/>
<rect x="64.40" y="432.44" width="12.45" height="4.00" fill="#eee2eb"/>
<rect x="27.20" y="436.39" width="12.45" height="4.00" fill="#888ccc"/>
<rect x="39.60" y="436.39" width="12.45" height="4.00" fill="#eebbc1"/>
<rect x="52.00" y="436.39" width="12.45" height="4.00" fill="#eee8f2"/>
<rect x="64.40" y="436.39" width="12.45" height="4.00" fill="#eee2eb"/>
<rect x="27.20" y="440.34" width="12.45" height="4.00" fill="#8186c8"/>
<rect x="39.60" y="440.34" width="12.45" height="4.00" fill="#eed5dd"/>
<rect x="52.00" y="440.34" width="12.45" height="4.00" fill="#eee8f2"/>
<rect x="64.40" y="440.34" width="12.45" height="4.00" fill="#eeb5ba"/>
<rect x="27.20" y="444.30" width="12.45" height="4.00" fill="#8186c8"/>
<rect x="39.60" y="444.30" width="12.45" height="4.00" fill="#eed5dd"/>
<rect x="52.00" y="444.30" width="12.45" height="4.00" fill="#eee2eb"/>
<rect x="64.40" y="444.30" width="12.45" height="4.00" fill="#eebbc1"/>
<rect x="27.20" y="448.25" width="12.45" height="4.00" fill="#888ccc"/>
<rect x="39.60" y="448.25" width="12.45" height="4.00" fill="#eed5dd"/>
<rect x="52.00" y="448.25" width="12.45" height="4.00" fill="#eee2eb"/>
<rect x="64.40" y="448.25" width="12.45" height="4.00" fill="#eec8cf"/>
<rect x="27.20" y="369.20" width="49.60" height="83.00" fill="none" stroke="#2a2a40" stroke-width="1"/>
<text x="33.40" y="461.00" font-size="6" text-anchor="middle" stroke="#222" stroke-width="0.24">0</text>
<text x="45.80" y="461.00" font-size="6" text-anchor="middle" stroke="#222" stroke-width="0.24">24</text>
<text x="58.20" y="461.00" font-size="6" text-anchor="middle" stroke="#222" stroke-width="0.24">33</text>
<text x="70.60" y="461.00" font-size="6" text-anchor="middle" stroke="#222" stroke-width="0.24">48</text>
<rect x="80.80" y="369.20" width="12.40" height="4.00" fill="#eee8f2"/>
<rect x="93.15" y="369.20" width="12.40" height="4.00" fill="#eea8ac"/>
<rect x="105.50" y="369.20" width="12.40" height="4.00" fill="#d4d0ea"/>
<rect x="117.85" y="369.20" width="12.40" height="4.00" fill="#9e9fd7"/>
<rect x="80.80" y="373.15" width="12.40" height="4.00" fill="#c6c4e6"/>
<rect x="93.15" y="373.15" width="12.40" height="4.00" fill="#e07076"/>
<rect x="105.50" y="373.15" width="12.40" height="4.00" fill="#d4d0ea"/>
<rect x="117.85" y="373.15" width="12.40" height="4.00" fill="#eee8f2"/>
<rect x="80.80" y="377.10" width="12.40" height="4.00" fill="#eee8f2"/>
<rect x="93.15" y="377.10" width="12.40" height="4.00" fill="#e07076"/>
<rect x="105.50" y="377.10" width="12.40" height="4.00" fill="#d4d0ea"/>
<rect x="117.85" y="377.10" width="12.40" height="4.00" fill="#b9b8e2"/>
<rect x="80.80" y="381.06" width="12.40" height="4.00" fill="#8186c8"/>
<rect x="93.15" y="381.06" width="12.40" height="4.00" fill="#eec2c8"/>
<rect x="105.50" y="381.06" width="12.40" height="4.00" fill="#e1dcee"/>
<rect x="117.85" y="381.06" width="12.40" height="4.00" fill="#eee8f2"/>
<rect x="80.80" y="385.01" width="12.40" height="4.00" fill="#dad6ec"/>
<rect x="93.15" y="385.01" width="12.40" height="4.00" fill="#eec8cf"/>
<rect x="105.50" y="385.01" width="12.40" height="4.00" fill="#8186c8"/>
<rect x="117.85" y="385.01" width="12.40" height="4.00" fill="#eee8f2"/>
<rect x="80.80" y="388.96" width="12.40" height="4.00" fill="#c6c4e6"/>
<rect x="93.15" y="388.96" width="12.40" height="4.00" fill="#eee2eb"/>
<rect x="105.50" y="388.96" width="12.40" height="4.00" fill="#e37e83"/>
<rect x="117.85" y="388.96" width="12.40" height="4.00" fill="#c6c4e6"/>
<rect x="80.80" y="392.91" width="12.40" height="4.00" fill="#b3b2e0"/>
<rect x="93.15" y="392.91" width="12.40" height="4.00" fill="#eee8f2"/>
<rect x="105.50" y="392.91" width="12.40" height="4.00" fill="#e37e83"/>
<rect x="117.85" y="392.91" width="12.40" height="4.00" fill="#eee8f2"/>
<rect x="80.80" y="396.87" width="12.40" height="4.00" fill="#eeaeb3"/>
<rect x="93.15" y="396.87" width="12.40" height="4.00" fill="#c6c4e6"/>
<rect x="105.50" y="396.87" width="12.40" height="4.00" fill="#c6c4e6"/>
<rect x="117.85" y="396.87" width="12.40" height="4.00" fill="#eed5dd"/>
<rect x="80.80" y="400.82" width="12.40" height="4.00" fill="#888ccc"/>
<rect x="93.15" y="400.82" width="12.40" height="4.00" fill="#eee8f2"/>
<rect x="105.50" y="400.82" width="12.40" height="4.00" fill="#eed5dd"/>
<rect x="117.85" y="400.82" width="12.40" height="4.00" fill="#eeaeb3"/>
<rect x="80.80" y="404.77" width="12.40" height="4.00" fill="#eea8ac"/>
<rect x="93.15" y="404.77" width="12.40" height="4.00" fill="#c6c4e6"/>
<rect x="105.50" y="404.77" width="12.40" height="4.00" fill="#eee8f2"/>
<rect x="117.85" y="404.77" width="12.40" height="4.00" fill="#eee8f2"/>
<rect x="80.80" y="408.72" width="12.40" height="4.00" fill="#8186c8"/>
<rect x="93.15" y="408.72" width="12.40" height="4.00" fill="#eed5dd"/>
<rect x="105.50" y="408.72" width="12.40" height="4.00" fill="#eee8f2"/>
<rect x="117.85" y="408.72" width="12.40" height="4.00" fill="#eedbe4"/>
<rect x="80.80" y="412.68" width="12.40" height="4.00" fill="#e37e83"/>
<rect x="93.15" y="412.68" width="12.40" height="4.00" fill="#eee8f2"/>
<rect x="105.50" y="412.68" width="12.40" height="4.00" fill="#b9b8e2"/>
<rect x="117.85" y="412.68" width="12.40" height="4.00" fill="#cdcae8"/>
<rect x="80.80" y="416.63" width="12.40" height="4.00" fill="#eedbe4"/>
<rect x="93.15" y="416.63" width="12.40" height="4.00" fill="#eee8f2"/>
<rect x="105.50" y="416.63" width="12.40" height="4.00" fill="#eee8f2"/>
<rect x="117.85" y="416.63" width="12.40" height="4.00" fill="#8f92cf"/>
<rect x="80.80" y="420.58" width="12.40" height="4.00" fill="#cdcae8"/>
<rect x="93.15" y="420.58" width="12.40" height="4.00" fill="#eed5dd"/>
<rect x="105.50" y="420.58" width="12.40" height="4.00" fill="#eeb5ba"/>
<rect x="117.85" y="420.58" width="12.40" height="4.00" fill="#cdcae8"/>
<rect x="80.80" y="424.53" width="12.40" height="4.00" fill="#eee8f2"/>
<rect x="93.15" y="424.53" width="12.40" height="4.00" fill="#7a7fc4"/>
<rect x="105.50" y="424.53" width="12.40" height="4.00" fill="#eeb5ba"/>
<rect x="117.85" y="424.53" width="12.40" height="4.00" fill="#eed5dd"/>
<rect x="80.80" y="428.49" width="12.40" height="4.00" fill="#e1777c"/>
<rect x="93.15" y="428.49" width="12.40" height="4.00" fill="#cdcae8"/>
<rect x="105.50" y="428.49" width="12.40" height="4.00" fill="#cdcae8"/>
<rect x="117.85" y="428.49" width="12.40" height="4.00" fill="#cdcae8"/>
<rect x="80.80" y="432.44" width="12.40" height="4.00" fill="#dad6ec"/>
<rect x="93.15" y="432.44" width="12.40" height="4.00" fill="#ea9a9e"/>
<rect x="105.50" y="432.44" width="12.40" height="4.00" fill="#c6c4e6"/>
<rect x="117.85" y="432.44" width="12.40" height="4.00" fill="#eee8f2"/>
<rect x="80.80" y="436.39" width="12.40" height="4.00" fill="#8f92cf"/>
<rect x="93.15" y="436.39" width="12.40" height="4.00" fill="#eee8f2"/>
<rect x="105.50" y="436.39" width="12.40" height="4.00" fill="#eee8f2"/>
<rect x="117.85" y="436.39" width="12.40" height="4.00" fill="#eca1a5"/>
<rect x="80.80" y="440.34" width="12.40" height="4.00" fill="#8f92cf"/>
<rect x="93.15" y="440.34" width="12.40" height="4.00" fill="#dad6ec"/>
<rect x="105.50" y="440.34" width="12.40" height="4.00" fill="#eed5dd"/>
<rect x="117.85" y="440.34" width="12.40" height="4.00" fill="#eeb5ba"/>
<rect x="80.80" y="444.30" width="12.40" height="4.00" fill="#888ccc"/>
<rect x="93.15" y="444.30" width="12.40" height="4.00" fill="#dad6ec"/>
<rect x="105.50" y="444.30" width="12.40" height="4.00" fill="#eee8f2"/>
<rect x="117.85" y="444.30" width="12.40" height="4.00" fill="#eeced6"/>
<rect x="80.80" y="448.25" width="12.40" height="4.00" fill="#9699d3"/>
<rect x="93.15" y="448.25" width="12.40" height="4.00" fill="#e1dcee"/>
<rect x="105.50" y="448.25" width="12.40" height="4.00" fill="#eee2eb"/>
<rect x="117.85" y="448.25" width="12.40" height="4.00" fill="#eeced6"/>
<rect x="80.80" y="369.20" width="49.40" height="83.00" fill="none" stroke="#2a2a40" stroke-width="1"/>
<text x="86.97" y="461.00" font-size="6" text-anchor="middle" stroke="#222" stroke-width="0.24">0</text>
<text x="99.32" y="461.00" font-size="6" text-anchor="middle" stroke="#222" stroke-width="0.24">24</text>
<text x="111.67" y="461.00" font-size="6" text-anchor="middle" stroke="#222" stroke-width="0.24">33</text>
<text x="124.02" y="461.00" font-size="6" text-anchor="middle" stroke="#222" stroke-width="0.24">48</text>
<text x="23.80" y="381.60" font-size="6" text-anchor="end" stroke="#222" stroke-width="0.24">Mrpl30</text>
<text x="23.80" y="414.20" font-size="6" text-anchor="end" stroke="#222" stroke-width="0.24">Tal1</text>
<text x="23.80" y="439.80" font-size="6" text-anchor="end" stroke="#222" stroke-width="0.24">Ccdc22</text>
<rect x="96.20" y="468.20" width="34.60" height="3.60" fill="url(#cbar)" stroke="#333" stroke-width="0.6"/>
<text x="97.40" y="478.50" font-size="6" text-anchor="middle" stroke="#222" stroke-width="0.24">-3</text>
<text x="113.50" y="478.50" font-size="6" text-anchor="middle" stroke="#222" stroke-width="0.24">0</text>
<text x="129.20" y="478.50" font-size="6" text-anchor="middle" stroke="#222" stroke-width="0.24">3</text>
<text x="144.80" y="249.70" font-size="10.6" fill="#111" font-weight="bold" stroke="#111" stroke-width="0.4">F</text>
<text x="212.10" y="265.00" font-size="5.8" text-anchor="middle" stroke="#222" stroke-width="0.24">5kb</text>
<line x1="219.60" y1="263.00" x2="264.20" y2="263.00" stroke="#222" stroke-width="1.1"/>
<line x1="219.60" y1="261.50" x2="219.60" y2="264.50" stroke="#222" stroke-width="0.9"/>
<line x1="264.20" y1="261.50" x2="264.20" y2="264.50" stroke="#222" stroke-width="0.9"/>
<line x1="154.70" y1="264.70" x2="154.70" y2="356.00" stroke="#8f8f8f" stroke-width="0.9"/>
<line x1="154.70" y1="357.40" x2="154.70" y2="448.70" stroke="#8890a8" stroke-width="0.9"/>
<text x="149.80" y="309.50" font-size="6.5" text-anchor="middle" fill="#7a6b5c" transform="rotate(-90 149.80 309.50)" stroke="#7a6b5c" stroke-width="0.24">Ribo-seq</text>
<text x="149.80" y="403.80" font-size="6.6" text-anchor="middle" fill="#4e5c96" transform="rotate(-90 149.80 403.80)" stroke="#4e5c96" stroke-width="0.24">RNA-seq</text>
<text x="166.60" y="277.30" font-size="5.8" text-anchor="end" fill="#333" stroke="#333" stroke-width="0.24">0h</text>
<text x="172.50" y="270.20" font-size="5.5" text-anchor="middle" fill="#333" stroke="#333" stroke-width="0.24">+</text>
<text x="172.50" y="282.50" font-size="5.5" text-anchor="middle" fill="#333" stroke="#333" stroke-width="0.24">–</text>
<text x="166.60" y="301.10" font-size="5.8" text-anchor="end" fill="#333" stroke="#333" stroke-width="0.24">24h</text>
<text x="172.50" y="294.00" font-size="5.5" text-anchor="middle" fill="#333" stroke="#333" stroke-width="0.24">+</text>
<text x="172.50" y="306.30" font-size="5.5" text-anchor="middle" fill="#333" stroke="#333" stroke-width="0.24">–</text>
<text x="166.60" y="324.80" font-size="5.8" text-anchor="end" fill="#333" stroke="#333" stroke-width="0.24">33h</text>
<text x="172.50" y="317.70" font-size="5.5" text-anchor="middle" fill="#333" stroke="#333" stroke-width="0.24">+</text>
<text x="172.50" y="330.00" font-size="5.5" text-anchor="middle" fill="#333" stroke="#333" stroke-width="0.24">–</text>
<text x="166.60" y="347.80" font-size="5.8" text-anchor="end" fill="#333" stroke="#333" stroke-width="0.24">48h</text>
<text x="172.50" y="340.70" font-size="5.5" text-anchor="middle" fill="#333" stroke="#333" stroke-width="0.24">+</text>
<text x="172.50" y="353.00" font-size="5.5" text-anchor="middle" fill="#333" stroke="#333" stroke-width="0.24">–</text>
<text x="166.60" y="370.60" font-size="5.8" text-anchor="end" fill="#333" stroke="#333" stroke-width="0.24">0h</text>
<text x="172.50" y="363.50" font-size="5.5" text-anchor="middle" fill="#333" stroke="#333" stroke-width="0.24">+</text>
<text x="172.50" y="375.80" font-size="5.5" text-anchor="middle" fill="#333" stroke="#333" stroke-width="0.24">–</text>
<text x="166.60" y="394.40" font-size="5.8" text-anchor="end" fill="#333" stroke="#333" stroke-width="0.24">24h</text>
<text x="172.50" y="387.30" font-size="5.5" text-anchor="middle" fill="#333" stroke="#333" stroke-width="0.24">+</text>
<text x="172.50" y="399.60" font-size="5.5" text-anchor="middle" fill="#333" stroke="#333" stroke-width="0.24">–</text>
<text x="166.60" y="418.60" font-size="5.8" text-anchor="end" fill="#333" stroke="#333" stroke-width="0.24">33h</text>
<text x="172.50" y="411.50" font-size="5.5" text-anchor="middle" fill="#333" stroke="#333" stroke-width="0.24">+</text>
<text x="172.50" y="423.80" font-size="5.5" text-anchor="middle" fill="#333" stroke="#333" stroke-width="0.24">–</text>
<text x="166.60" y="441.20" font-size="5.8" text-anchor="end" fill="#333" stroke="#333" stroke-width="0.24">48h</text>
<text x="172.50" y="434.10" font-size="5.5" text-anchor="middle" fill="#333" stroke="#333" stroke-width="0.24">+</text>
<text x="172.50" y="446.40" font-size="5.5" text-anchor="middle" fill="#333" stroke="#333" stroke-width="0.24">–</text>
<line x1="183.70" y1="259.00" x2="183.70" y2="462.00" stroke="#bf9a70" stroke-width="0.75"/>
<text x="180.20" y="264.50" font-size="2.8" text-anchor="middle" fill="#555" transform="rotate(-90 180.20 264.50)" stroke="#555" stroke-width="0.24">5</text>
<text x="180.20" y="272.50" font-size="2.8" text-anchor="middle" fill="#555" transform="rotate(-90 180.20 272.50)" stroke="#555" stroke-width="0.24">1</text>
<text x="180.20" y="281.50" font-size="2.8" text-anchor="middle" fill="#555" transform="rotate(-90 180.20 281.50)" stroke="#555" stroke-width="0.24">1</text>
<line x1="183.00" y1="273.50" x2="185.00" y2="273.50" stroke="#bf9a70" stroke-width="0.7"/>
<text x="180.20" y="287.20" font-size="2.8" text-anchor="middle" fill="#555" transform="rotate(-90 180.20 287.20)" stroke="#555" stroke-width="0.24">5</text>
<text x="180.20" y="295.20" font-size="2.8" text-anchor="middle" fill="#555" transform="rotate(-90 180.20 295.20)" stroke="#555" stroke-width="0.24">1</text>
<text x="180.20" y="304.20" font-size="2.8" text-anchor="middle" fill="#555" transform="rotate(-90 180.20 304.20)" stroke="#555" stroke-width="0.24">1</text>
<line x1="183.00" y1="296.20" x2="185.00" y2="296.20" stroke="#bf9a70" stroke-width="0.7"/>
<text x="180.20" y="311.30" font-size="2.8" text-anchor="middle" fill="#555" transform="rotate(-90 180.20 311.30)" stroke="#555" stroke-width="0.24">5</text>
<text x="180.20" y="319.30" font-size="2.8" text-anchor="middle" fill="#555" transform="rotate(-90 180.20 319.30)" stroke="#555" stroke-width="0.24">1</text>
<text x="180.20" y="328.30" font-size="2.8" text-anchor="middle" fill="#555" transform="rotate(-90 180.20 328.30)" stroke="#555" stroke-width="0.24">1</text>
<line x1="183.00" y1="320.30" x2="185.00" y2="320.30" stroke="#bf9a70" stroke-width="0.7"/>
<text x="180.20" y="334.50" font-size="2.8" text-anchor="middle" fill="#555" transform="rotate(-90 180.20 334.50)" stroke="#555" stroke-width="0.24">5</text>
<text x="180.20" y="342.50" font-size="2.8" text-anchor="middle" fill="#555" transform="rotate(-90 180.20 342.50)" stroke="#555" stroke-width="0.24">1</text>
<text x="180.20" y="351.50" font-size="2.8" text-anchor="middle" fill="#555" transform="rotate(-90 180.20 351.50)" stroke="#555" stroke-width="0.24">1</text>
<line x1="183.00" y1="343.50" x2="185.00" y2="343.50" stroke="#bf9a70" stroke-width="0.7"/>
<text x="180.20" y="357.30" font-size="2.8" text-anchor="middle" fill="#555" transform="rotate(-90 180.20 357.30)" stroke="#555" stroke-width="0.24">1</text>
<text x="180.20" y="367.80" font-size="2.8" text-anchor="middle" fill="#555" transform="rotate(-90 180.20 367.80)" stroke="#555" stroke-width="0.24">200</text>
<text x="180.20" y="380.20" font-size="2.8" text-anchor="middle" fill="#555" transform="rotate(-90 180.20 380.20)" stroke="#555" stroke-width="0.24">1</text>
<text x="180.20" y="390.70" font-size="2.8" text-anchor="middle" fill="#555" transform="rotate(-90 180.20 390.70)" stroke="#555" stroke-width="0.24">200</text>
<text x="180.20" y="404.00" font-size="2.8" text-anchor="middle" fill="#555" transform="rotate(-90 180.20 404.00)" stroke="#555" stroke-width="0.24">1</text>
<text x="180.20" y="414.50" font-size="2.8" text-anchor="middle" fill="#555" transform="rotate(-90 180.20 414.50)" stroke="#555" stroke-width="0.24">200</text>
<text x="180.20" y="427.40" font-size="2.8" text-anchor="middle" fill="#555" transform="rotate(-90 180.20 427.40)" stroke="#555" stroke-width="0.24">1</text>
<text x="180.20" y="437.90" font-size="2.8" text-anchor="middle" fill="#555" transform="rotate(-90 180.20 437.90)" stroke="#555" stroke-width="0.24">200</text>
<rect x="186.00" y="272.90" width="0.90" height="0.60" fill="#9c7d55"/>
<rect x="190.50" y="272.90" width="0.90" height="0.60" fill="#9c7d55"/>
<rect x="195.00" y="272.90" width="0.90" height="0.60" fill="#9c7d55"/>
<rect x="199.50" y="272.90" width="0.90" height="0.60" fill="#9c7d55"/>
<rect x="217.50" y="272.90" width="0.90" height="0.60" fill="#9c7d55"/>
<rect x="222.00" y="272.90" width="0.90" height="0.60" fill="#9c7d55"/>
<rect x="226.50" y="272.90" width="0.90" height="0.60" fill="#9c7d55"/>
<rect x="231.00" y="272.90" width="0.90" height="0.60" fill="#9c7d55"/>
<rect x="244.50" y="272.90" width="0.90" height="0.60" fill="#9c7d55"/>
<rect x="258.00" y="272.90" width="0.90" height="0.60" fill="#9c7d55"/>
<rect x="282.50" y="272.85" width="0.90" height="0.70" fill="#9c7d55"/>
<rect x="285.00" y="272.85" width="0.90" height="0.70" fill="#9c7d55"/>
<rect x="290.00" y="272.85" width="0.90" height="0.70" fill="#9c7d55"/>
<rect x="292.50" y="272.85" width="0.90" height="0.70" fill="#9c7d55"/>
<rect x="300.00" y="272.85" width="0.90" height="0.70" fill="#9c7d55"/>
<rect x="302.50" y="272.85" width="0.90" height="0.70" fill="#9c7d55"/>
<rect x="305.00" y="272.85" width="0.90" height="0.70" fill="#9c7d55"/>
<rect x="201.00" y="270.50" width="1.00" height="3.00" fill="#45301c"/>
<rect x="232.00" y="271.00" width="1.00" height="2.50" fill="#45301c"/>
<rect x="234.00" y="270.50" width="1.00" height="3.00" fill="#45301c"/>
<rect x="235.50" y="271.50" width="1.00" height="2.00" fill="#45301c"/>
<rect x="244.50" y="271.90" width="1.00" height="1.60" fill="#45301c"/>
<rect x="276.00" y="270.90" width="1.00" height="2.60" fill="#45301c"/>
<rect x="277.50" y="271.50" width="1.00" height="2.00" fill="#45301c"/>
<rect x="275.45" y="272.70" width="1.30" height="0.80" fill="#45301c"/>
<rect x="277.90" y="272.91" width="1.20" height="0.59" fill="#45301c"/>
<rect x="279.30" y="273.24" width="1.00" height="0.26" fill="#45301c"/>
<rect x="280.60" y="273.32" width="1.00" height="0.18" fill="#45301c"/>
<rect x="282.10" y="273.39" width="1.00" height="0.11" fill="#45301c"/>
<rect x="185.00" y="284.20" width="0.80" height="0.60" fill="#b0a090"/>
<rect x="191.00" y="284.20" width="0.80" height="0.60" fill="#b0a090"/>
<rect x="194.00" y="284.20" width="0.80" height="0.60" fill="#b0a090"/>
<rect x="186.00" y="295.60" width="0.90" height="0.60" fill="#9c7d55"/>
<rect x="190.50" y="295.60" width="0.90" height="0.60" fill="#9c7d55"/>
<rect x="199.50" y="295.60" width="0.90" height="0.60" fill="#9c7d55"/>
<rect x="204.00" y="295.60" width="0.90" height="0.60" fill="#9c7d55"/>
<rect x="208.50" y="295.60" width="0.90" height="0.60" fill="#9c7d55"/>
<rect x="213.00" y="295.60" width="0.90" height="0.60" fill="#9c7d55"/>
<rect x="217.50" y="295.60" width="0.90" height="0.60" fill="#9c7d55"/>
<rect x="231.00" y="295.60" width="0.90" height="0.60" fill="#9c7d55"/>
<rect x="235.50" y="295.60" width="0.90" height="0.60" fill="#9c7d55"/>
<rect x="240.00" y="295.60" width="0.90" height="0.60" fill="#9c7d55"/>
<rect x="253.50" y="295.60" width="0.90" height="0.60" fill="#9c7d55"/>
<rect x="280.00" y="295.55" width="0.90" height="0.70" fill="#9c7d55"/>
<rect x="282.50" y="295.55" width="0.90" height="0.70" fill="#9c7d55"/>
<rect x="285.00" y="295.55" width="0.90" height="0.70" fill="#9c7d55"/>
<rect x="287.50" y="295.55" width="0.90" height="0.70" fill="#9c7d55"/>
<rect x="290.00" y="295.55" width="0.90" height="0.70" fill="#9c7d55"/>
<rect x="292.50" y="295.55" width="0.90" height="0.70" fill="#9c7d55"/>
<rect x="297.50" y="295.55" width="0.90" height="0.70" fill="#9c7d55"/>
<rect x="300.00" y="295.55" width="0.90" height="0.70" fill="#9c7d55"/>
<rect x="302.50" y="295.55" width="0.90" height="0.70" fill="#9c7d55"/>
<rect x="305.00" y="295.55" width="0.90" height="0.70" fill="#9c7d55"/>
<rect x="201.00" y="285.20" width="1.00" height="11.00" fill="#45301c"/>
<rect x="230.00" y="291.20" width="1.00" height="5.00" fill="#45301c"/>
<rect x="231.30" y="286.70" width="1.00" height="9.50" fill="#45301c"/>
<rect x="232.50" y="289.20" width="1.00" height="7.00" fill="#45301c"/>
<rect x="233.80" y="287.70" width="1.00" height="8.50" fill="#45301c"/>
<rect x="235.00" y="290.20" width="1.00" height="6.00" fill="#45301c"/>
<rect x="236.00" y="293.20" width="1.00" height="3.00" fill="#45301c"/>
<rect x="244.80" y="285.70" width="1.00" height="10.50" fill="#45301c"/>
<rect x="275.45" y="285.20" width="1.30" height="11.00" fill="#45301c"/>
<rect x="277.90" y="288.06" width="1.20" height="8.14" fill="#45301c"/>
<rect x="279.30" y="292.68" width="1.00" height="3.52" fill="#45301c"/>
<rect x="280.60" y="293.78" width="1.00" height="2.42" fill="#45301c"/>
<rect x="282.10" y="294.66" width="1.00" height="1.54" fill="#45301c"/>
<rect x="283.10" y="294.49" width="1.00" height="1.71" fill="#45301c"/>
<rect x="284.10" y="295.35" width="1.00" height="0.85" fill="#45301c"/>
<rect x="285.10" y="294.38" width="1.00" height="1.82" fill="#45301c"/>
<rect x="286.10" y="295.49" width="1.00" height="0.71" fill="#45301c"/>
<rect x="287.10" y="295.57" width="1.00" height="0.63" fill="#45301c"/>
<rect x="288.10" y="293.90" width="1.00" height="2.30" fill="#45301c"/>
<rect x="289.10" y="295.22" width="1.00" height="0.98" fill="#45301c"/>
<rect x="290.10" y="295.33" width="1.00" height="0.87" fill="#45301c"/>
<rect x="291.10" y="294.42" width="1.00" height="1.78" fill="#45301c"/>
<rect x="292.10" y="294.85" width="1.00" height="1.35" fill="#45301c"/>
<rect x="293.10" y="295.52" width="1.00" height="0.68" fill="#45301c"/>
<rect x="294.10" y="295.37" width="1.00" height="0.83" fill="#45301c"/>
<rect x="295.10" y="295.51" width="1.00" height="0.69" fill="#45301c"/>
<rect x="296.10" y="295.17" width="1.00" height="1.03" fill="#45301c"/>
<rect x="297.10" y="294.84" width="1.00" height="1.36" fill="#45301c"/>
<rect x="298.10" y="295.38" width="1.00" height="0.82" fill="#45301c"/>
<rect x="299.10" y="294.95" width="1.00" height="1.25" fill="#45301c"/>
<rect x="300.10" y="295.67" width="1.00" height="0.53" fill="#45301c"/>
<rect x="301.10" y="294.92" width="1.00" height="1.28" fill="#45301c"/>
<rect x="302.10" y="295.50" width="1.00" height="0.70" fill="#45301c"/>
<rect x="303.10" y="295.04" width="1.00" height="1.16" fill="#45301c"/>
<rect x="304.10" y="295.12" width="1.00" height="1.08" fill="#45301c"/>
<rect x="185.00" y="306.90" width="0.80" height="0.60" fill="#b0a090"/>
<rect x="188.00" y="306.90" width="0.80" height="0.60" fill="#b0a090"/>
<rect x="191.00" y="306.90" width="0.80" height="0.60" fill="#b0a090"/>
<rect x="186.00" y="319.70" width="0.90" height="0.60" fill="#9c7d55"/>
<rect x="199.50" y="319.70" width="0.90" height="0.60" fill="#9c7d55"/>
<rect x="204.00" y="319.70" width="0.90" height="0.60" fill="#9c7d55"/>
<rect x="208.50" y="319.70" width="0.90" height="0.60" fill="#9c7d55"/>
<rect x="213.00" y="319.70" width="0.90" height="0.60" fill="#9c7d55"/>
<rect x="231.00" y="319.70" width="0.90" height="0.60" fill="#9c7d55"/>
<rect x="240.00" y="319.70" width="0.90" height="0.60" fill="#9c7d55"/>
<rect x="244.50" y="319.70" width="0.90" height="0.60" fill="#9c7d55"/>
<rect x="249.00" y="319.70" width="0.90" height="0.60" fill="#9c7d55"/>
<rect x="258.00" y="319.70" width="0.90" height="0.60" fill="#9c7d55"/>
<rect x="282.50" y="319.65" width="0.90" height="0.70" fill="#9c7d55"/>
<rect x="285.00" y="319.65" width="0.90" height="0.70" fill="#9c7d55"/>
<rect x="290.00" y="319.65" width="0.90" height="0.70" fill="#9c7d55"/>
<rect x="292.50" y="319.65" width="0.90" height="0.70" fill="#9c7d55"/>
<rect x="295.00" y="319.65" width="0.90" height="0.70" fill="#9c7d55"/>
<rect x="297.50" y="319.65" width="0.90" height="0.70" fill="#9c7d55"/>
<rect x="302.50" y="319.65" width="0.90" height="0.70" fill="#9c7d55"/>
<rect x="200.70" y="310.60" width="1.00" height="9.70" fill="#45301c"/>
<rect x="230.00" y="316.30" width="1.00" height="4.00" fill="#45301c"/>
<rect x="231.30" y="312.30" width="1.00" height="8.00" fill="#45301c"/>
<rect x="232.50" y="314.30" width="1.00" height="6.00" fill="#45301c"/>
<rect x="233.80" y="312.80" width="1.00" height="7.50" fill="#45301c"/>
<rect x="235.00" y="315.30" width="1.00" height="5.00" fill="#45301c"/>
<rect x="236.00" y="317.80" width="1.00" height="2.50" fill="#45301c"/>
<rect x="244.50" y="311.60" width="1.00" height="8.70" fill="#45301c"/>
<rect x="275.45" y="309.50" width="1.30" height="10.80" fill="#45301c"/>
<rect x="277.90" y="312.31" width="1.20" height="7.99" fill="#45301c"/>
<rect x="279.30" y="316.84" width="1.00" height="3.46" fill="#45301c"/>
<rect x="280.60" y="317.92" width="1.00" height="2.38" fill="#45301c"/>
<rect x="282.10" y="318.79" width="1.00" height="1.51" fill="#45301c"/>
<rect x="283.10" y="319.73" width="1.00" height="0.57" fill="#45301c"/>
<rect x="284.10" y="319.53" width="1.00" height="0.77" fill="#45301c"/>
<rect x="285.10" y="319.35" width="1.00" height="0.95" fill="#45301c"/>
<rect x="286.10" y="319.71" width="1.00" height="0.59" fill="#45301c"/>
<rect x="287.10" y="319.04" width="1.00" height="1.26" fill="#45301c"/>
<rect x="288.10" y="318.95" width="1.00" height="1.35" fill="#45301c"/>
<rect x="289.10" y="318.27" width="1.00" height="2.03" fill="#45301c"/>
<rect x="290.10" y="317.92" width="1.00" height="2.38" fill="#45301c"/>
<rect x="291.10" y="319.79" width="1.00" height="0.51" fill="#45301c"/>
<rect x="292.10" y="319.04" width="1.00" height="1.26" fill="#45301c"/>
<rect x="293.10" y="318.94" width="1.00" height="1.36" fill="#45301c"/>
<rect x="294.10" y="318.53" width="1.00" height="1.77" fill="#45301c"/>
<rect x="295.10" y="317.72" width="1.00" height="2.58" fill="#45301c"/>
<rect x="296.10" y="318.46" width="1.00" height="1.84" fill="#45301c"/>
<rect x="297.10" y="318.56" width="1.00" height="1.74" fill="#45301c"/>
<rect x="298.10" y="318.28" width="1.00" height="2.02" fill="#45301c"/>
<rect x="299.10" y="319.52" width="1.00" height="0.78" fill="#45301c"/>
<rect x="300.10" y="319.65" width="1.00" height="0.65" fill="#45301c"/>
<rect x="301.10" y="319.14" width="1.00" height="1.16" fill="#45301c"/>
<rect x="302.10" y="319.28" width="1.00" height="1.02" fill="#45301c"/>
<rect x="303.10" y="319.27" width="1.00" height="1.03" fill="#45301c"/>
<rect x="304.10" y="319.50" width="1.00" height="0.80" fill="#45301c"/>
<rect x="185.00" y="331.00" width="0.80" height="0.60" fill="#b0a090"/>
<rect x="188.00" y="331.00" width="0.80" height="0.60" fill="#b0a090"/>
<rect x="191.00" y="331.00" width="0.80" height="0.60" fill="#b0a090"/>
<rect x="194.00" y="331.00" width="0.80" height="0.60" fill="#b0a090"/>
<rect x="186.00" y="342.90" width="0.90" height="0.60" fill="#9c7d55"/>
<rect x="204.00" y="342.90" width="0.90" height="0.60" fill="#9c7d55"/>
<rect x="208.50" y="342.90" width="0.90" height="0.60" fill="#9c7d55"/>
<rect x="213.00" y="342.90" width="0.90" height="0.60" fill="#9c7d55"/>
<rect x="217.50" y="342.90" width="0.90" height="0.60" fill="#9c7d55"/>
<rect x="226.50" y="342.90" width="0.90" height="0.60" fill="#9c7d55"/>
<rect x="231.00" y="342.90" width="0.90" height="0.60" fill="#9c7d55"/>
<rect x="235.50" y="342.90" width="0.90" height="0.60" fill="#9c7d55"/>
<rect x="240.00" y="342.90" width="0.90" height="0.60" fill="#9c7d55"/>
<rect x="244.50" y="342.90" width="0.90" height="0.60" fill="#9c7d55"/>
<rect x="258.00" y="342.90" width="0.90" height="0.60" fill="#9c7d55"/>
<rect x="287.50" y="342.85" width="0.90" height="0.70" fill="#9c7d55"/>
<rect x="290.00" y="342.85" width="0.90" height="0.70" fill="#9c7d55"/>
<rect x="292.50" y="342.85" width="0.90" height="0.70" fill="#9c7d55"/>
<rect x="295.00" y="342.85" width="0.90" height="0.70" fill="#9c7d55"/>
<rect x="297.50" y="342.85" width="0.90" height="0.70" fill="#9c7d55"/>
<rect x="300.00" y="342.85" width="0.90" height="0.70" fill="#9c7d55"/>
<rect x="302.50" y="342.85" width="0.90" height="0.70" fill="#9c7d55"/>
<rect x="305.00" y="342.85" width="0.90" height="0.70" fill="#9c7d55"/>
<rect x="200.50" y="335.50" width="1.00" height="8.00" fill="#45301c"/>
<rect x="230.00" y="340.50" width="1.00" height="3.00" fill="#45301c"/>
<rect x="231.30" y="338.30" width="1.00" height="5.20" fill="#45301c"/>
<rect x="232.50" y="339.50" width="1.00" height="4.00" fill="#45301c"/>
<rect x="233.80" y="338.50" width="1.00" height="5.00" fill="#45301c"/>
<rect x="235.00" y="340.00" width="1.00" height="3.50" fill="#45301c"/>
<rect x="236.00" y="341.50" width="1.00" height="2.00" fill="#45301c"/>
<rect x="244.50" y="336.50" width="1.00" height="7.00" fill="#45301c"/>
<rect x="275.45" y="337.20" width="1.30" height="6.30" fill="#45301c"/>
<rect x="277.90" y="338.84" width="1.20" height="4.66" fill="#45301c"/>
<rect x="279.30" y="341.48" width="1.00" height="2.02" fill="#45301c"/>
<rect x="280.60" y="342.11" width="1.00" height="1.39" fill="#45301c"/>
<rect x="282.10" y="342.62" width="1.00" height="0.88" fill="#45301c"/>
<rect x="283.10" y="342.79" width="1.00" height="0.71" fill="#45301c"/>
<rect x="284.10" y="342.64" width="1.00" height="0.86" fill="#45301c"/>
<rect x="285.10" y="342.74" width="1.00" height="0.76" fill="#45301c"/>
<rect x="286.10" y="342.58" width="1.00" height="0.92" fill="#45301c"/>
<rect x="287.10" y="342.74" width="1.00" height="0.76" fill="#45301c"/>
<rect x="288.10" y="342.83" width="1.00" height="0.67" fill="#45301c"/>
<rect x="289.10" y="342.82" width="1.00" height="0.68" fill="#45301c"/>
<rect x="290.10" y="342.56" width="1.00" height="0.94" fill="#45301c"/>
<rect x="291.10" y="342.96" width="1.00" height="0.54" fill="#45301c"/>
<rect x="292.10" y="342.00" width="1.00" height="1.50" fill="#45301c"/>
<rect x="293.10" y="342.77" width="1.00" height="0.73" fill="#45301c"/>
<rect x="294.10" y="342.88" width="1.00" height="0.62" fill="#45301c"/>
<rect x="295.10" y="342.57" width="1.00" height="0.93" fill="#45301c"/>
<rect x="296.10" y="341.88" width="1.00" height="1.62" fill="#45301c"/>
<rect x="297.10" y="343.11" width="1.00" height="0.39" fill="#45301c"/>
<rect x="298.10" y="342.97" width="1.00" height="0.53" fill="#45301c"/>
<rect x="299.10" y="342.59" width="1.00" height="0.91" fill="#45301c"/>
<rect x="300.10" y="343.07" width="1.00" height="0.43" fill="#45301c"/>
<rect x="301.10" y="343.00" width="1.00" height="0.50" fill="#45301c"/>
<rect x="302.10" y="343.15" width="1.00" height="0.35" fill="#45301c"/>
<rect x="303.10" y="342.96" width="1.00" height="0.54" fill="#45301c"/>
<rect x="304.10" y="342.19" width="1.00" height="1.31" fill="#45301c"/>
<rect x="185.00" y="354.20" width="0.80" height="0.60" fill="#b0a090"/>
<rect x="188.00" y="354.20" width="0.80" height="0.60" fill="#b0a090"/>
<rect x="191.00" y="354.20" width="0.80" height="0.60" fill="#b0a090"/>
<rect x="194.00" y="354.20" width="0.80" height="0.60" fill="#b0a090"/>
<line x1="184.00" y1="367.50" x2="322.50" y2="367.50" stroke="#6f82ab" stroke-width="0.8"/>
<rect x="201.30" y="365.80" width="1.00" height="1.50" fill="#2b4272"/>
<rect x="232.00" y="366.30" width="1.00" height="1.00" fill="#2b4272"/>
<rect x="244.50" y="366.30" width="1.00" height="1.00" fill="#2b4272"/>
<rect x="275.68" y="364.74" width="1.05" height="2.56" fill="#2b4272"/>
<rect x="276.68" y="365.04" width="1.05" height="2.26" fill="#2b4272"/>
<rect x="277.68" y="364.56" width="1.05" height="2.74" fill="#2b4272"/>
<rect x="278.68" y="365.07" width="1.05" height="2.23" fill="#2b4272"/>
<rect x="279.68" y="364.77" width="1.05" height="2.53" fill="#2b4272"/>
<rect x="280.68" y="364.14" width="1.05" height="3.16" fill="#2b4272"/>
<rect x="281.68" y="365.27" width="1.05" height="2.03" fill="#2b4272"/>
<rect x="282.68" y="364.97" width="1.05" height="2.33" fill="#2b4272"/>
<rect x="283.68" y="364.51" width="1.05" height="2.79" fill="#2b4272"/>
<rect x="284.68" y="365.27" width="1.05" height="2.03" fill="#2b4272"/>
<rect x="285.68" y="365.18" width="1.05" height="2.12" fill="#2b4272"/>
<rect x="286.68" y="364.32" width="1.05" height="2.98" fill="#2b4272"/>
<rect x="287.68" y="364.13" width="1.05" height="3.17" fill="#2b4272"/>
<rect x="288.68" y="364.97" width="1.05" height="2.33" fill="#2b4272"/>
<rect x="289.68" y="365.14" width="1.05" height="2.16" fill="#2b4272"/>
<rect x="290.68" y="364.14" width="1.05" height="3.16" fill="#2b4272"/>
<rect x="291.68" y="364.96" width="1.05" height="2.34" fill="#2b4272"/>
<rect x="292.68" y="364.61" width="1.05" height="2.69" fill="#2b4272"/>
<rect x="293.68" y="364.60" width="1.05" height="2.70" fill="#2b4272"/>
<rect x="294.68" y="364.57" width="1.05" height="2.73" fill="#2b4272"/>
<rect x="295.68" y="364.21" width="1.05" height="3.09" fill="#2b4272"/>
<rect x="296.68" y="364.15" width="1.05" height="3.15" fill="#2b4272"/>
<rect x="297.68" y="364.49" width="1.05" height="2.81" fill="#2b4272"/>
<rect x="298.68" y="364.32" width="1.05" height="2.98" fill="#2b4272"/>
<rect x="299.68" y="364.36" width="1.05" height="2.94" fill="#2b4272"/>
<rect x="300.68" y="364.56" width="1.05" height="2.74" fill="#2b4272"/>
<rect x="301.68" y="364.83" width="1.05" height="2.47" fill="#2b4272"/>
<rect x="302.68" y="365.09" width="1.05" height="2.21" fill="#2b4272"/>
<rect x="303.68" y="365.04" width="1.05" height="2.26" fill="#2b4272"/>
<rect x="304.68" y="364.19" width="1.05" height="3.11" fill="#2b4272"/>
<rect x="305.68" y="364.48" width="1.05" height="2.82" fill="#2b4272"/>
<rect x="185.00" y="355.10" width="1.00" height="0.60" fill="#8f9cc0"/>
<rect x="192.20" y="355.10" width="1.00" height="0.60" fill="#8f9cc0"/>
<rect x="199.40" y="355.10" width="1.00" height="0.60" fill="#8f9cc0"/>
<rect x="203.00" y="355.10" width="1.00" height="0.60" fill="#8f9cc0"/>
<rect x="221.00" y="355.10" width="1.00" height="0.60" fill="#8f9cc0"/>
<rect x="224.60" y="355.10" width="1.00" height="0.60" fill="#8f9cc0"/>
<rect x="228.20" y="355.10" width="1.00" height="0.60" fill="#8f9cc0"/>
<rect x="235.40" y="355.10" width="1.00" height="0.60" fill="#8f9cc0"/>
<rect x="242.60" y="355.10" width="1.00" height="0.60" fill="#8f9cc0"/>
<rect x="246.20" y="355.10" width="1.00" height="0.60" fill="#8f9cc0"/>
<rect x="257.00" y="355.10" width="1.00" height="0.60" fill="#8f9cc0"/>
<rect x="271.40" y="355.10" width="1.00" height="0.60" fill="#8f9cc0"/>
<rect x="275.00" y="355.10" width="1.00" height="0.60" fill="#8f9cc0"/>
<rect x="278.60" y="355.10" width="1.00" height="0.60" fill="#8f9cc0"/>
<rect x="285.80" y="355.10" width="1.00" height="0.60" fill="#8f9cc0"/>
<rect x="289.40" y="355.10" width="1.00" height="0.60" fill="#8f9cc0"/>
<rect x="293.00" y="355.10" width="1.00" height="0.60" fill="#8f9cc0"/>
<rect x="300.20" y="355.10" width="1.00" height="0.60" fill="#8f9cc0"/>
<line x1="184.00" y1="390.40" x2="322.50" y2="390.40" stroke="#6f82ab" stroke-width="0.8"/>
<rect x="201.30" y="386.20" width="1.00" height="4.00" fill="#2b4272"/>
<rect x="231.10" y="386.20" width="1.00" height="4.00" fill="#2b4272"/>
<rect x="232.50" y="386.70" width="1.00" height="3.50" fill="#2b4272"/>
<rect x="234.10" y="387.70" width="1.00" height="2.50" fill="#2b4272"/>
<rect x="244.50" y="387.20" width="1.00" height="3.00" fill="#2b4272"/>
<rect x="275.68" y="386.57" width="1.05" height="3.63" fill="#2b4272"/>
<rect x="276.68" y="386.04" width="1.05" height="4.16" fill="#2b4272"/>
<rect x="277.68" y="386.74" width="1.05" height="3.46" fill="#2b4272"/>
<rect x="278.68" y="385.37" width="1.05" height="4.83" fill="#2b4272"/>
<rect x="279.68" y="386.60" width="1.05" height="3.60" fill="#2b4272"/>
<rect x="280.68" y="385.93" width="1.05" height="4.27" fill="#2b4272"/>
<rect x="281.68" y="385.15" width="1.05" height="5.05" fill="#2b4272"/>
<rect x="282.68" y="386.25" width="1.05" height="3.95" fill="#2b4272"/>
<rect x="283.68" y="385.07" width="1.05" height="5.13" fill="#2b4272"/>
<rect x="284.68" y="385.56" width="1.05" height="4.64" fill="#2b4272"/>
<rect x="285.68" y="385.94" width="1.05" height="4.26" fill="#2b4272"/>
<rect x="286.68" y="385.77" width="1.05" height="4.43" fill="#2b4272"/>
<rect x="287.68" y="385.86" width="1.05" height="4.34" fill="#2b4272"/>
<rect x="288.68" y="386.33" width="1.05" height="3.87" fill="#2b4272"/>
<rect x="289.68" y="385.01" width="1.05" height="5.19" fill="#2b4272"/>
<rect x="290.68" y="386.24" width="1.05" height="3.96" fill="#2b4272"/>
<rect x="291.68" y="385.03" width="1.05" height="5.17" fill="#2b4272"/>
<rect x="292.68" y="385.31" width="1.05" height="4.89" fill="#2b4272"/>
<rect x="293.68" y="387.02" width="1.05" height="3.18" fill="#2b4272"/>
<rect x="294.68" y="386.54" width="1.05" height="3.66" fill="#2b4272"/>
<rect x="295.68" y="386.09" width="1.05" height="4.11" fill="#2b4272"/>
<rect x="296.68" y="385.39" width="1.05" height="4.81" fill="#2b4272"/>
<rect x="297.68" y="386.71" width="1.05" height="3.49" fill="#2b4272"/>
<rect x="298.68" y="385.80" width="1.05" height="4.40" fill="#2b4272"/>
<rect x="299.68" y="386.32" width="1.05" height="3.88" fill="#2b4272"/>
<rect x="300.68" y="385.45" width="1.05" height="4.75" fill="#2b4272"/>
<rect x="301.68" y="385.15" width="1.05" height="5.05" fill="#2b4272"/>
<rect x="302.68" y="385.49" width="1.05" height="4.71" fill="#2b4272"/>
<rect x="303.68" y="386.68" width="1.05" height="3.52" fill="#2b4272"/>
<rect x="304.68" y="385.50" width="1.05" height="4.70" fill="#2b4272"/>
<rect x="305.68" y="386.17" width="1.05" height="4.03" fill="#2b4272"/>
<rect x="185.00" y="378.90" width="1.00" height="0.60" fill="#8f9cc0"/>
<rect x="188.60" y="378.90" width="1.00" height="0.60" fill="#8f9cc0"/>
<rect x="195.80" y="378.90" width="1.00" height="0.60" fill="#8f9cc0"/>
<rect x="199.40" y="378.90" width="1.00" height="0.60" fill="#8f9cc0"/>
<rect x="206.60" y="378.90" width="1.00" height="0.60" fill="#8f9cc0"/>
<rect x="210.20" y="378.90" width="1.00" height="0.60" fill="#8f9cc0"/>
<rect x="213.80" y="378.90" width="1.00" height="0.60" fill="#8f9cc0"/>
<rect x="228.20" y="378.90" width="1.00" height="0.60" fill="#8f9cc0"/>
<rect x="239.00" y="378.90" width="1.00" height="0.60" fill="#8f9cc0"/>
<rect x="242.60" y="378.90" width="1.00" height="0.60" fill="#8f9cc0"/>
<rect x="264.20" y="378.90" width="1.00" height="0.60" fill="#8f9cc0"/>
<rect x="271.40" y="378.90" width="1.00" height="0.60" fill="#8f9cc0"/>
<rect x="278.60" y="378.90" width="1.00" height="0.60" fill="#8f9cc0"/>
<rect x="282.20" y="378.90" width="1.00" height="0.60" fill="#8f9cc0"/>
<rect x="289.40" y="378.90" width="1.00" height="0.60" fill="#8f9cc0"/>
<rect x="293.00" y="378.90" width="1.00" height="0.60" fill="#8f9cc0"/>
<rect x="296.60" y="378.90" width="1.00" height="0.60" fill="#8f9cc0"/>
<rect x="303.80" y="378.90" width="1.00" height="0.60" fill="#8f9cc0"/>
<line x1="184.00" y1="414.20" x2="322.50" y2="414.20" stroke="#6f82ab" stroke-width="0.8"/>
<rect x="201.30" y="406.60" width="1.00" height="7.40" fill="#2b4272"/>
<rect x="230.80" y="403.60" width="1.00" height="10.40" fill="#2b4272"/>
<rect x="231.80" y="405.00" width="1.00" height="9.00" fill="#2b4272"/>
<rect x="232.80" y="407.00" width="1.00" height="7.00" fill="#2b4272"/>
<rect x="233.80" y="409.00" width="1.00" height="5.00" fill="#2b4272"/>
<rect x="234.80" y="410.50" width="1.00" height="3.50" fill="#2b4272"/>
<rect x="235.80" y="412.00" width="1.00" height="2.00" fill="#2b4272"/>
<rect x="244.50" y="410.50" width="1.00" height="3.50" fill="#2b4272"/>
<rect x="275.68" y="402.34" width="1.05" height="11.66" fill="#2b4272"/>
<rect x="276.68" y="408.34" width="1.05" height="5.66" fill="#2b4272"/>
<rect x="277.68" y="403.98" width="1.05" height="10.02" fill="#2b4272"/>
<rect x="278.68" y="405.55" width="1.05" height="8.45" fill="#2b4272"/>
<rect x="279.68" y="402.58" width="1.05" height="11.42" fill="#2b4272"/>
<rect x="280.68" y="406.05" width="1.05" height="7.95" fill="#2b4272"/>
<rect x="281.68" y="402.72" width="1.05" height="11.28" fill="#2b4272"/>
<rect x="282.68" y="407.66" width="1.05" height="6.34" fill="#2b4272"/>
<rect x="283.68" y="402.23" width="1.05" height="11.77" fill="#2b4272"/>
<rect x="284.68" y="406.01" width="1.05" height="7.99" fill="#2b4272"/>
<rect x="285.68" y="407.50" width="1.05" height="6.50" fill="#2b4272"/>
<rect x="286.68" y="406.44" width="1.05" height="7.56" fill="#2b4272"/>
<rect x="287.68" y="404.60" width="1.05" height="9.40" fill="#2b4272"/>
<rect x="288.68" y="408.47" width="1.05" height="5.53" fill="#2b4272"/>
<rect x="289.68" y="406.18" width="1.05" height="7.82" fill="#2b4272"/>
<rect x="290.68" y="408.62" width="1.05" height="5.38" fill="#2b4272"/>
<rect x="291.68" y="408.24" width="1.05" height="5.76" fill="#2b4272"/>
<rect x="292.68" y="407.58" width="1.05" height="6.42" fill="#2b4272"/>
<rect x="293.68" y="407.19" width="1.05" height="6.81" fill="#2b4272"/>
<rect x="294.68" y="406.91" width="1.05" height="7.09" fill="#2b4272"/>
<rect x="295.68" y="403.64" width="1.05" height="10.36" fill="#2b4272"/>
<rect x="296.68" y="405.99" width="1.05" height="8.01" fill="#2b4272"/>
<rect x="297.68" y="403.13" width="1.05" height="10.87" fill="#2b4272"/>
<rect x="298.68" y="402.86" width="1.05" height="11.14" fill="#2b4272"/>
<rect x="299.68" y="402.88" width="1.05" height="11.12" fill="#2b4272"/>
<rect x="300.68" y="402.54" width="1.05" height="11.46" fill="#2b4272"/>
<rect x="301.68" y="404.95" width="1.05" height="9.05" fill="#2b4272"/>
<rect x="302.68" y="404.33" width="1.05" height="9.67" fill="#2b4272"/>
<rect x="303.68" y="402.97" width="1.05" height="11.03" fill="#2b4272"/>
<rect x="304.68" y="405.16" width="1.05" height="8.84" fill="#2b4272"/>
<rect x="305.68" y="407.77" width="1.05" height="6.23" fill="#2b4272"/>
<rect x="185.00" y="402.70" width="1.00" height="0.60" fill="#8f9cc0"/>
<rect x="188.60" y="402.70" width="1.00" height="0.60" fill="#8f9cc0"/>
<rect x="192.20" y="402.70" width="1.00" height="0.60" fill="#8f9cc0"/>
<rect x="195.80" y="402.70" width="1.00" height="0.60" fill="#8f9cc0"/>
<rect x="199.40" y="402.70" width="1.00" height="0.60" fill="#8f9cc0"/>
<rect x="217.40" y="402.70" width="1.00" height="0.60" fill="#8f9cc0"/>
<rect x="221.00" y="402.70" width="1.00" height="0.60" fill="#8f9cc0"/>
<rect x="224.60" y="402.70" width="1.00" height="0.60" fill="#8f9cc0"/>
<rect x="231.80" y="402.70" width="1.00" height="0.60" fill="#8f9cc0"/>
<rect x="235.40" y="402.70" width="1.00" height="0.60" fill="#8f9cc0"/>
<rect x="239.00" y="402.70" width="1.00" height="0.60" fill="#8f9cc0"/>
<rect x="246.20" y="402.70" width="1.00" height="0.60" fill="#8f9cc0"/>
<rect x="249.80" y="402.70" width="1.00" height="0.60" fill="#8f9cc0"/>
<rect x="253.40" y="402.70" width="1.00" height="0.60" fill="#8f9cc0"/>
<rect x="264.20" y="402.70" width="1.00" height="0.60" fill="#8f9cc0"/>
<rect x="282.20" y="402.70" width="1.00" height="0.60" fill="#8f9cc0"/>
<rect x="285.80" y="402.70" width="1.00" height="0.60" fill="#8f9cc0"/>
<rect x="289.40" y="402.70" width="1.00" height="0.60" fill="#8f9cc0"/>
<rect x="293.00" y="402.70" width="1.00" height="0.60" fill="#8f9cc0"/>
<rect x="296.60" y="402.70" width="1.00" height="0.60" fill="#8f9cc0"/>
<rect x="300.20" y="402.70" width="1.00" height="0.60" fill="#8f9cc0"/>
<line x1="184.00" y1="437.60" x2="322.50" y2="437.60" stroke="#6f82ab" stroke-width="0.8"/>
<rect x="201.30" y="435.40" width="1.00" height="2.00" fill="#2b4272"/>
<rect x="232.00" y="433.90" width="1.00" height="3.50" fill="#2b4272"/>
<rect x="233.00" y="434.40" width="1.00" height="3.00" fill="#2b4272"/>
<rect x="234.00" y="435.40" width="1.00" height="2.00" fill="#2b4272"/>
<rect x="244.50" y="435.90" width="1.00" height="1.50" fill="#2b4272"/>
<rect x="275.68" y="432.32" width="1.05" height="5.08" fill="#2b4272"/>
<rect x="276.68" y="431.66" width="1.05" height="5.74" fill="#2b4272"/>
<rect x="277.68" y="432.70" width="1.05" height="4.70" fill="#2b4272"/>
<rect x="278.68" y="432.09" width="1.05" height="5.31" fill="#2b4272"/>
<rect x="279.68" y="431.55" width="1.05" height="5.85" fill="#2b4272"/>
<rect x="280.68" y="432.55" width="1.05" height="4.85" fill="#2b4272"/>
<rect x="281.68" y="432.04" width="1.05" height="5.36" fill="#2b4272"/>
<rect x="282.68" y="432.05" width="1.05" height="5.35" fill="#2b4272"/>
<rect x="283.68" y="431.74" width="1.05" height="5.66" fill="#2b4272"/>
<rect x="284.68" y="433.71" width="1.05" height="3.69" fill="#2b4272"/>
<rect x="285.68" y="433.39" width="1.05" height="4.01" fill="#2b4272"/>
<rect x="286.68" y="431.41" width="1.05" height="5.99" fill="#2b4272"/>
<rect x="287.68" y="432.01" width="1.05" height="5.39" fill="#2b4272"/>
<rect x="288.68" y="433.17" width="1.05" height="4.23" fill="#2b4272"/>
<rect x="289.68" y="432.02" width="1.05" height="5.38" fill="#2b4272"/>
<rect x="290.68" y="433.39" width="1.05" height="4.01" fill="#2b4272"/>
<rect x="291.68" y="432.94" width="1.05" height="4.46" fill="#2b4272"/>
<rect x="292.68" y="432.74" width="1.05" height="4.66" fill="#2b4272"/>
<rect x="293.68" y="433.25" width="1.05" height="4.15" fill="#2b4272"/>
<rect x="294.68" y="433.47" width="1.05" height="3.93" fill="#2b4272"/>
<rect x="295.68" y="432.58" width="1.05" height="4.82" fill="#2b4272"/>
<rect x="296.68" y="432.25" width="1.05" height="5.15" fill="#2b4272"/>
<rect x="297.68" y="433.04" width="1.05" height="4.36" fill="#2b4272"/>
<rect x="298.68" y="432.22" width="1.05" height="5.18" fill="#2b4272"/>
<rect x="299.68" y="431.44" width="1.05" height="5.96" fill="#2b4272"/>
<rect x="300.68" y="433.67" width="1.05" height="3.73" fill="#2b4272"/>
<rect x="301.68" y="433.13" width="1.05" height="4.27" fill="#2b4272"/>
<rect x="302.68" y="433.58" width="1.05" height="3.82" fill="#2b4272"/>
<rect x="303.68" y="432.17" width="1.05" height="5.23" fill="#2b4272"/>
<rect x="304.68" y="432.81" width="1.05" height="4.59" fill="#2b4272"/>
<rect x="305.68" y="432.75" width="1.05" height="4.65" fill="#2b4272"/>
<rect x="188.60" y="426.00" width="1.00" height="0.60" fill="#8f9cc0"/>
<rect x="192.20" y="426.00" width="1.00" height="0.60" fill="#8f9cc0"/>
<rect x="199.40" y="426.00" width="1.00" height="0.60" fill="#8f9cc0"/>
<rect x="213.80" y="426.00" width="1.00" height="0.60" fill="#8f9cc0"/>
<rect x="228.20" y="426.00" width="1.00" height="0.60" fill="#8f9cc0"/>
<rect x="231.80" y="426.00" width="1.00" height="0.60" fill="#8f9cc0"/>
<rect x="235.40" y="426.00" width="1.00" height="0.60" fill="#8f9cc0"/>
<rect x="239.00" y="426.00" width="1.00" height="0.60" fill="#8f9cc0"/>
<rect x="242.60" y="426.00" width="1.00" height="0.60" fill="#8f9cc0"/>
<rect x="246.20" y="426.00" width="1.00" height="0.60" fill="#8f9cc0"/>
<rect x="249.80" y="426.00" width="1.00" height="0.60" fill="#8f9cc0"/>
<rect x="253.40" y="426.00" width="1.00" height="0.60" fill="#8f9cc0"/>
<rect x="257.00" y="426.00" width="1.00" height="0.60" fill="#8f9cc0"/>
<rect x="278.60" y="426.00" width="1.00" height="0.60" fill="#8f9cc0"/>
<rect x="282.20" y="426.00" width="1.00" height="0.60" fill="#8f9cc0"/>
<rect x="289.40" y="426.00" width="1.00" height="0.60" fill="#8f9cc0"/>
<rect x="300.20" y="426.00" width="1.00" height="0.60" fill="#8f9cc0"/>
<rect x="303.80" y="426.00" width="1.00" height="0.60" fill="#8f9cc0"/>
<rect x="307.40" y="426.00" width="1.00" height="0.60" fill="#8f9cc0"/>
<rect x="188.60" y="449.90" width="1.00" height="0.60" fill="#8f9cc0"/>
<rect x="192.20" y="449.90" width="1.00" height="0.60" fill="#8f9cc0"/>
<rect x="195.80" y="449.90" width="1.00" height="0.60" fill="#8f9cc0"/>
<rect x="203.00" y="449.90" width="1.00" height="0.60" fill="#8f9cc0"/>
<rect x="217.40" y="449.90" width="1.00" height="0.60" fill="#8f9cc0"/>
<rect x="221.00" y="449.90" width="1.00" height="0.60" fill="#8f9cc0"/>
<rect x="224.60" y="449.90" width="1.00" height="0.60" fill="#8f9cc0"/>
<rect x="228.20" y="449.90" width="1.00" height="0.60" fill="#8f9cc0"/>
<rect x="231.80" y="449.90" width="1.00" height="0.60" fill="#8f9cc0"/>
<rect x="235.40" y="449.90" width="1.00" height="0.60" fill="#8f9cc0"/>
<rect x="242.60" y="449.90" width="1.00" height="0.60" fill="#8f9cc0"/>
<rect x="246.20" y="449.90" width="1.00" height="0.60" fill="#8f9cc0"/>
<rect x="249.80" y="449.90" width="1.00" height="0.60" fill="#8f9cc0"/>
<rect x="253.40" y="449.90" width="1.00" height="0.60" fill="#8f9cc0"/>
<rect x="260.60" y="449.90" width="1.00" height="0.60" fill="#8f9cc0"/>
<rect x="264.20" y="449.90" width="1.00" height="0.60" fill="#8f9cc0"/>
<rect x="271.40" y="449.90" width="1.00" height="0.60" fill="#8f9cc0"/>
<rect x="285.80" y="449.90" width="1.00" height="0.60" fill="#8f9cc0"/>
<rect x="293.00" y="449.90" width="1.00" height="0.60" fill="#8f9cc0"/>
<rect x="303.80" y="449.90" width="1.00" height="0.60" fill="#8f9cc0"/>
<text x="154.80" y="460.60" font-size="6.1" text-anchor="middle" fill="#a83c88" stroke="#a83c88" stroke-width="0.24">uORF</text>
<line x1="201.60" y1="457.30" x2="232.60" y2="457.30" stroke="#c0508a" stroke-width="1.0"/>
<line x1="201.60" y1="453.00" x2="201.60" y2="462.00" stroke="#c0508a" stroke-width="1.0"/>
<line x1="232.60" y1="453.00" x2="232.60" y2="462.00" stroke="#c0508a" stroke-width="1.0"/>
<text x="192.20" y="472.40" font-size="6.8" text-anchor="middle" fill="#a8306a" stroke="#a8306a" stroke-width="0.24">Tal1</text>
<line x1="201.50" y1="470.10" x2="306.00" y2="470.10" stroke="#8795a8" stroke-width="1.0"/>
<line x1="201.50" y1="465.40" x2="201.50" y2="475.30" stroke="#6aa84f" stroke-width="1.3"/>
<path d="M214.8,466.6 L218.8,470.1 L214.8,473.6" fill="none" stroke="#2b3a66" stroke-width="1.3"/>
<path d="M256.8,466.6 L260.8,470.1 L256.8,473.6" fill="none" stroke="#2b3a66" stroke-width="1.3"/>
<rect x="232.00" y="464.60" width="3.30" height="11.00" fill="#2b3d6e"/>
<line x1="245.30" y1="465.60" x2="245.30" y2="474.60" stroke="#2b3d6e" stroke-width="1.0"/>
<rect x="276.00" y="464.60" width="3.60" height="11.00" fill="#2b3d6e"/>
<rect x="279.60" y="467.20" width="26.20" height="6.20" fill="#6aa840"/>
<text x="332.70" y="249.80" font-size="10.6" fill="#111" font-weight="bold" stroke="#111" stroke-width="0.4">G</text>
<text x="412.20" y="265.00" font-size="6.2" text-anchor="middle" stroke="#222" stroke-width="0.24">10kb</text>
<line x1="421.70" y1="263.00" x2="463.70" y2="263.00" stroke="#222" stroke-width="1.1"/>
<line x1="421.70" y1="261.50" x2="421.70" y2="264.50" stroke="#222" stroke-width="0.9"/>
<line x1="463.70" y1="261.50" x2="463.70" y2="264.50" stroke="#222" stroke-width="0.9"/>
<line x1="343.50" y1="267.00" x2="343.50" y2="358.00" stroke="#8f8f8f" stroke-width="0.9"/>
<line x1="343.50" y1="363.00" x2="343.50" y2="453.70" stroke="#8890a8" stroke-width="0.9"/>
<text x="337.70" y="314.90" font-size="6.5" text-anchor="middle" fill="#7a6b5c" transform="rotate(-90 337.70 314.90)" stroke="#7a6b5c" stroke-width="0.24">Ribo-seq</text>
<text x="337.70" y="408.70" font-size="6.6" text-anchor="middle" fill="#4e5c96" transform="rotate(-90 337.70 408.70)" stroke="#4e5c96" stroke-width="0.24">RNA-seq</text>
<text x="357.00" y="283.10" font-size="6.2" text-anchor="end" fill="#333" stroke="#333" stroke-width="0.24">0h</text>
<text x="361.50" y="276.00" font-size="5.5" text-anchor="middle" fill="#333" stroke="#333" stroke-width="0.24">+</text>
<text x="361.50" y="288.30" font-size="5.5" text-anchor="middle" fill="#333" stroke="#333" stroke-width="0.24">–</text>
<text x="357.00" y="306.60" font-size="6.2" text-anchor="end" fill="#333" stroke="#333" stroke-width="0.24">24h</text>
<text x="361.50" y="299.50" font-size="5.5" text-anchor="middle" fill="#333" stroke="#333" stroke-width="0.24">+</text>
<text x="361.50" y="311.80" font-size="5.5" text-anchor="middle" fill="#333" stroke="#333" stroke-width="0.24">–</text>
<text x="357.00" y="329.70" font-size="6.2" text-anchor="end" fill="#333" stroke="#333" stroke-width="0.24">33h</text>
<text x="361.50" y="322.60" font-size="5.5" text-anchor="middle" fill="#333" stroke="#333" stroke-width="0.24">+</text>
<text x="361.50" y="334.90" font-size="5.5" text-anchor="middle" fill="#333" stroke="#333" stroke-width="0.24">–</text>
<text x="357.00" y="352.80" font-size="6.2" text-anchor="end" fill="#333" stroke="#333" stroke-width="0.24">48h</text>
<text x="361.50" y="345.70" font-size="5.5" text-anchor="middle" fill="#333" stroke="#333" stroke-width="0.24">+</text>
<text x="361.50" y="358.00" font-size="5.5" text-anchor="middle" fill="#333" stroke="#333" stroke-width="0.24">–</text>
<text x="357.00" y="376.30" font-size="6.2" text-anchor="end" fill="#333" stroke="#333" stroke-width="0.24">0h</text>
<text x="361.50" y="369.20" font-size="5.5" text-anchor="middle" fill="#333" stroke="#333" stroke-width="0.24">+</text>
<text x="361.50" y="381.50" font-size="5.5" text-anchor="middle" fill="#333" stroke="#333" stroke-width="0.24">–</text>
<text x="357.00" y="401.50" font-size="6.2" text-anchor="end" fill="#333" stroke="#333" stroke-width="0.24">24h</text>
<text x="361.50" y="394.40" font-size="5.5" text-anchor="middle" fill="#333" stroke="#333" stroke-width="0.24">+</text>
<text x="361.50" y="406.70" font-size="5.5" text-anchor="middle" fill="#333" stroke="#333" stroke-width="0.24">–</text>
<text x="357.00" y="423.10" font-size="6.2" text-anchor="end" fill="#333" stroke="#333" stroke-width="0.24">33h</text>
<text x="361.50" y="416.00" font-size="5.5" text-anchor="middle" fill="#333" stroke="#333" stroke-width="0.24">+</text>
<text x="361.50" y="428.30" font-size="5.5" text-anchor="middle" fill="#333" stroke="#333" stroke-width="0.24">–</text>
<text x="357.00" y="447.60" font-size="6.2" text-anchor="end" fill="#333" stroke="#333" stroke-width="0.24">48h</text>
<text x="361.50" y="440.50" font-size="5.5" text-anchor="middle" fill="#333" stroke="#333" stroke-width="0.24">+</text>
<text x="361.50" y="452.80" font-size="5.5" text-anchor="middle" fill="#333" stroke="#333" stroke-width="0.24">–</text>
<line x1="372.70" y1="260.80" x2="372.70" y2="466.00" stroke="#bf9a70" stroke-width="0.75"/>
<text x="369.00" y="280.30" font-size="2.8" text-anchor="middle" fill="#555" transform="rotate(-90 369.00 280.30)" stroke="#555" stroke-width="0.24">50</text>
<text x="369.00" y="290.30" font-size="2.8" text-anchor="middle" fill="#555" transform="rotate(-90 369.00 290.30)" stroke="#555" stroke-width="0.24">1</text>
<text x="369.00" y="298.30" font-size="2.8" text-anchor="middle" fill="#555" transform="rotate(-90 369.00 298.30)" stroke="#555" stroke-width="0.24">1</text>
<text x="369.00" y="302.80" font-size="2.8" text-anchor="middle" fill="#555" transform="rotate(-90 369.00 302.80)" stroke="#555" stroke-width="0.24">50</text>
<text x="369.00" y="312.80" font-size="2.8" text-anchor="middle" fill="#555" transform="rotate(-90 369.00 312.80)" stroke="#555" stroke-width="0.24">1</text>
<text x="369.00" y="320.80" font-size="2.8" text-anchor="middle" fill="#555" transform="rotate(-90 369.00 320.80)" stroke="#555" stroke-width="0.24">1</text>
<text x="369.00" y="326.60" font-size="2.8" text-anchor="middle" fill="#555" transform="rotate(-90 369.00 326.60)" stroke="#555" stroke-width="0.24">50</text>
<text x="369.00" y="336.60" font-size="2.8" text-anchor="middle" fill="#555" transform="rotate(-90 369.00 336.60)" stroke="#555" stroke-width="0.24">1</text>
<text x="369.00" y="344.60" font-size="2.8" text-anchor="middle" fill="#555" transform="rotate(-90 369.00 344.60)" stroke="#555" stroke-width="0.24">1</text>
<text x="369.00" y="350.30" font-size="2.8" text-anchor="middle" fill="#555" transform="rotate(-90 369.00 350.30)" stroke="#555" stroke-width="0.24">50</text>
<text x="369.00" y="360.30" font-size="2.8" text-anchor="middle" fill="#555" transform="rotate(-90 369.00 360.30)" stroke="#555" stroke-width="0.24">1</text>
<text x="369.00" y="368.30" font-size="2.8" text-anchor="middle" fill="#555" transform="rotate(-90 369.00 368.30)" stroke="#555" stroke-width="0.24">1</text>
<text x="369.00" y="373.70" font-size="2.8" text-anchor="middle" fill="#555" transform="rotate(-90 369.00 373.70)" stroke="#555" stroke-width="0.24">1</text>
<text x="369.00" y="384.20" font-size="2.8" text-anchor="middle" fill="#555" transform="rotate(-90 369.00 384.20)" stroke="#555" stroke-width="0.24">500</text>
<text x="369.00" y="396.70" font-size="2.8" text-anchor="middle" fill="#555" transform="rotate(-90 369.00 396.70)" stroke="#555" stroke-width="0.24">1</text>
<text x="369.00" y="407.20" font-size="2.8" text-anchor="middle" fill="#555" transform="rotate(-90 369.00 407.20)" stroke="#555" stroke-width="0.24">500</text>
<text x="369.00" y="420.50" font-size="2.8" text-anchor="middle" fill="#555" transform="rotate(-90 369.00 420.50)" stroke="#555" stroke-width="0.24">1</text>
<text x="369.00" y="431.00" font-size="2.8" text-anchor="middle" fill="#555" transform="rotate(-90 369.00 431.00)" stroke="#555" stroke-width="0.24">500</text>
<text x="369.00" y="443.70" font-size="2.8" text-anchor="middle" fill="#555" transform="rotate(-90 369.00 443.70)" stroke="#555" stroke-width="0.24">1</text>
<text x="369.00" y="454.20" font-size="2.8" text-anchor="middle" fill="#555" transform="rotate(-90 369.00 454.20)" stroke="#555" stroke-width="0.24">500</text>
<rect x="383.35" y="286.55" width="0.90" height="4.75" fill="#707070"/>
<rect x="383.10" y="289.70" width="1.40" height="1.60" fill="#4a4a4a"/>
<rect x="387.45" y="286.55" width="0.90" height="4.75" fill="#707070"/>
<rect x="387.20" y="289.70" width="1.40" height="1.60" fill="#4a4a4a"/>
<rect x="409.05" y="282.75" width="0.90" height="8.55" fill="#707070"/>
<rect x="408.80" y="289.70" width="1.40" height="1.60" fill="#4a4a4a"/>
<rect x="412.85" y="285.60" width="0.90" height="5.70" fill="#707070"/>
<rect x="412.60" y="289.70" width="1.40" height="1.60" fill="#4a4a4a"/>
<rect x="419.15" y="285.60" width="0.90" height="5.70" fill="#707070"/>
<rect x="418.90" y="289.70" width="1.40" height="1.60" fill="#4a4a4a"/>
<rect x="438.15" y="288.45" width="0.90" height="2.85" fill="#707070"/>
<rect x="437.90" y="290.10" width="1.40" height="1.20" fill="#4a4a4a"/>
<rect x="440.55" y="287.98" width="0.90" height="3.32" fill="#707070"/>
<rect x="440.30" y="289.90" width="1.40" height="1.40" fill="#4a4a4a"/>
<rect x="442.25" y="287.50" width="0.90" height="3.80" fill="#707070"/>
<rect x="442.00" y="289.70" width="1.40" height="1.60" fill="#4a4a4a"/>
<rect x="456.05" y="289.40" width="0.90" height="1.90" fill="#707070"/>
<rect x="455.80" y="290.50" width="1.40" height="0.80" fill="#4a4a4a"/>
<rect x="463.25" y="288.45" width="0.90" height="2.85" fill="#707070"/>
<rect x="463.00" y="290.10" width="1.40" height="1.20" fill="#4a4a4a"/>
<rect x="469.05" y="285.12" width="0.90" height="6.17" fill="#707070"/>
<rect x="468.80" y="289.70" width="1.40" height="1.60" fill="#4a4a4a"/>
<rect x="479.15" y="288.45" width="0.90" height="2.85" fill="#707070"/>
<rect x="478.90" y="290.10" width="1.40" height="1.20" fill="#4a4a4a"/>
<rect x="486.35" y="289.40" width="0.90" height="1.90" fill="#707070"/>
<rect x="486.10" y="290.50" width="1.40" height="0.80" fill="#4a4a4a"/>
<rect x="509.45" y="281.80" width="0.90" height="9.50" fill="#707070"/>
<rect x="509.20" y="289.70" width="1.40" height="1.60" fill="#4a4a4a"/>
<rect x="509.50" y="279.30" width="1.00" height="1.00" fill="#777"/>
<rect x="383.35" y="309.05" width="0.90" height="4.75" fill="#707070"/>
<rect x="383.10" y="312.20" width="1.40" height="1.60" fill="#4a4a4a"/>
<rect x="387.45" y="309.05" width="0.90" height="4.75" fill="#707070"/>
<rect x="387.20" y="312.20" width="1.40" height="1.60" fill="#4a4a4a"/>
<rect x="409.05" y="305.25" width="0.90" height="8.55" fill="#707070"/>
<rect x="408.80" y="312.20" width="1.40" height="1.60" fill="#4a4a4a"/>
<rect x="412.85" y="308.10" width="0.90" height="5.70" fill="#707070"/>
<rect x="412.60" y="312.20" width="1.40" height="1.60" fill="#4a4a4a"/>
<rect x="419.15" y="308.10" width="0.90" height="5.70" fill="#707070"/>
<rect x="418.90" y="312.20" width="1.40" height="1.60" fill="#4a4a4a"/>
<rect x="438.15" y="310.95" width="0.90" height="2.85" fill="#707070"/>
<rect x="437.90" y="312.60" width="1.40" height="1.20" fill="#4a4a4a"/>
<rect x="440.55" y="310.48" width="0.90" height="3.32" fill="#707070"/>
<rect x="440.30" y="312.40" width="1.40" height="1.40" fill="#4a4a4a"/>
<rect x="442.25" y="310.00" width="0.90" height="3.80" fill="#707070"/>
<rect x="442.00" y="312.20" width="1.40" height="1.60" fill="#4a4a4a"/>
<rect x="456.05" y="311.90" width="0.90" height="1.90" fill="#707070"/>
<rect x="455.80" y="313.00" width="1.40" height="0.80" fill="#4a4a4a"/>
<rect x="463.25" y="310.95" width="0.90" height="2.85" fill="#707070"/>
<rect x="463.00" y="312.60" width="1.40" height="1.20" fill="#4a4a4a"/>
<rect x="469.05" y="307.62" width="0.90" height="6.17" fill="#707070"/>
<rect x="468.80" y="312.20" width="1.40" height="1.60" fill="#4a4a4a"/>
<rect x="479.15" y="310.95" width="0.90" height="2.85" fill="#707070"/>
<rect x="478.90" y="312.60" width="1.40" height="1.20" fill="#4a4a4a"/>
<rect x="486.35" y="311.90" width="0.90" height="1.90" fill="#707070"/>
<rect x="486.10" y="313.00" width="1.40" height="0.80" fill="#4a4a4a"/>
<rect x="509.45" y="304.30" width="0.90" height="9.50" fill="#707070"/>
<rect x="509.20" y="312.20" width="1.40" height="1.60" fill="#4a4a4a"/>
<rect x="509.50" y="301.80" width="1.00" height="1.00" fill="#777"/>
<rect x="378.30" y="337.00" width="1.30" height="0.60" fill="#888"/>
<rect x="381.60" y="337.00" width="1.30" height="0.60" fill="#888"/>
<rect x="384.90" y="337.00" width="1.30" height="0.60" fill="#888"/>
<rect x="391.50" y="337.00" width="1.30" height="0.60" fill="#888"/>
<rect x="398.10" y="337.00" width="1.30" height="0.60" fill="#888"/>
<rect x="404.70" y="337.00" width="1.30" height="0.60" fill="#888"/>
<rect x="408.00" y="337.00" width="1.30" height="0.60" fill="#888"/>
<rect x="411.30" y="337.00" width="1.30" height="0.60" fill="#888"/>
<rect x="414.60" y="337.00" width="1.30" height="0.60" fill="#888"/>
<rect x="417.90" y="337.00" width="1.30" height="0.60" fill="#888"/>
<rect x="421.20" y="337.00" width="1.30" height="0.60" fill="#888"/>
<rect x="427.80" y="337.00" width="1.30" height="0.60" fill="#888"/>
<rect x="431.10" y="337.00" width="1.30" height="0.60" fill="#888"/>
<rect x="434.40" y="337.00" width="1.30" height="0.60" fill="#888"/>
<rect x="437.70" y="337.00" width="1.30" height="0.60" fill="#888"/>
<rect x="444.30" y="337.00" width="1.30" height="0.60" fill="#888"/>
<rect x="447.60" y="337.00" width="1.30" height="0.60" fill="#888"/>
<rect x="454.20" y="337.00" width="1.30" height="0.60" fill="#888"/>
<rect x="467.40" y="337.00" width="1.30" height="0.60" fill="#888"/>
<rect x="474.00" y="337.00" width="1.30" height="0.60" fill="#888"/>
<rect x="483.90" y="337.00" width="1.30" height="0.60" fill="#888"/>
<rect x="479.15" y="335.60" width="0.90" height="2.00" fill="#555"/>
<rect x="486.95" y="331.10" width="0.90" height="6.50" fill="#555"/>
<rect x="509.45" y="328.60" width="0.90" height="9.00" fill="#555"/>
<rect x="409.10" y="336.10" width="0.80" height="1.50" fill="#777"/>
<rect x="440.60" y="336.10" width="0.80" height="1.50" fill="#777"/>
<rect x="469.10" y="335.60" width="0.80" height="2.00" fill="#777"/>
<rect x="375.00" y="360.70" width="1.30" height="0.60" fill="#888"/>
<rect x="381.60" y="360.70" width="1.30" height="0.60" fill="#888"/>
<rect x="394.80" y="360.70" width="1.30" height="0.60" fill="#888"/>
<rect x="398.10" y="360.70" width="1.30" height="0.60" fill="#888"/>
<rect x="401.40" y="360.70" width="1.30" height="0.60" fill="#888"/>
<rect x="404.70" y="360.70" width="1.30" height="0.60" fill="#888"/>
<rect x="408.00" y="360.70" width="1.30" height="0.60" fill="#888"/>
<rect x="414.60" y="360.70" width="1.30" height="0.60" fill="#888"/>
<rect x="424.50" y="360.70" width="1.30" height="0.60" fill="#888"/>
<rect x="427.80" y="360.70" width="1.30" height="0.60" fill="#888"/>
<rect x="431.10" y="360.70" width="1.30" height="0.60" fill="#888"/>
<rect x="434.40" y="360.70" width="1.30" height="0.60" fill="#888"/>
<rect x="441.00" y="360.70" width="1.30" height="0.60" fill="#888"/>
<rect x="444.30" y="360.70" width="1.30" height="0.60" fill="#888"/>
<rect x="450.90" y="360.70" width="1.30" height="0.60" fill="#888"/>
<rect x="464.10" y="360.70" width="1.30" height="0.60" fill="#888"/>
<rect x="467.40" y="360.70" width="1.30" height="0.60" fill="#888"/>
<rect x="470.70" y="360.70" width="1.30" height="0.60" fill="#888"/>
<rect x="477.30" y="360.70" width="1.30" height="0.60" fill="#888"/>
<rect x="480.60" y="360.70" width="1.30" height="0.60" fill="#888"/>
<rect x="483.90" y="360.70" width="1.30" height="0.60" fill="#888"/>
<rect x="479.15" y="359.30" width="0.90" height="2.00" fill="#555"/>
<rect x="486.95" y="354.30" width="0.90" height="7.00" fill="#555"/>
<rect x="509.45" y="353.30" width="0.90" height="8.00" fill="#555"/>
<rect x="409.10" y="359.80" width="0.80" height="1.50" fill="#777"/>
<rect x="440.60" y="359.80" width="0.80" height="1.50" fill="#777"/>
<rect x="469.10" y="359.30" width="0.80" height="2.00" fill="#777"/>
<line x1="373.00" y1="383.90" x2="511.30" y2="383.90" stroke="#6f82ab" stroke-width="0.8"/>
<rect x="374.00" y="381.88" width="1.00" height="1.82" fill="#2b4272"/>
<rect x="375.10" y="380.65" width="1.00" height="3.05" fill="#2b4272"/>
<rect x="376.20" y="380.99" width="1.00" height="2.71" fill="#2b4272"/>
<rect x="377.30" y="379.56" width="1.00" height="4.14" fill="#2b4272"/>
<rect x="378.40" y="381.33" width="1.00" height="2.37" fill="#2b4272"/>
<rect x="379.50" y="379.65" width="1.00" height="4.05" fill="#2b4272"/>
<rect x="380.60" y="380.85" width="1.00" height="2.85" fill="#2b4272"/>
<rect x="381.70" y="378.09" width="1.00" height="5.61" fill="#2b4272"/>
<rect x="382.80" y="375.18" width="1.00" height="8.52" fill="#2b4272"/>
<rect x="383.90" y="378.91" width="1.00" height="4.79" fill="#2b4272"/>
<rect x="385.00" y="381.36" width="1.00" height="2.34" fill="#2b4272"/>
<rect x="386.10" y="381.94" width="1.00" height="1.76" fill="#2b4272"/>
<rect x="388.25" y="378.70" width="0.90" height="5.00" fill="#2b4272"/>
<rect x="409.35" y="378.70" width="0.90" height="5.00" fill="#2b4272"/>
<rect x="414.25" y="380.70" width="0.90" height="3.00" fill="#2b4272"/>
<rect x="420.05" y="380.70" width="0.90" height="3.00" fill="#2b4272"/>
<rect x="440.25" y="377.70" width="0.90" height="6.00" fill="#2b4272"/>
<rect x="443.05" y="380.70" width="0.90" height="3.00" fill="#2b4272"/>
<rect x="456.05" y="381.20" width="0.90" height="2.50" fill="#2b4272"/>
<rect x="464.75" y="380.70" width="0.90" height="3.00" fill="#2b4272"/>
<rect x="469.05" y="380.20" width="0.90" height="3.50" fill="#2b4272"/>
<rect x="479.15" y="380.70" width="0.90" height="3.00" fill="#2b4272"/>
<rect x="487.25" y="377.70" width="0.90" height="6.00" fill="#2b4272"/>
<rect x="509.45" y="380.70" width="0.90" height="3.00" fill="#2b4272"/>
<rect x="386.00" y="383.20" width="0.80" height="1.20" fill="#2b4272"/>
<rect x="388.10" y="383.20" width="0.80" height="1.20" fill="#2b4272"/>
<rect x="392.30" y="383.20" width="0.80" height="1.20" fill="#2b4272"/>
<rect x="396.50" y="383.20" width="0.80" height="1.20" fill="#2b4272"/>
<rect x="398.60" y="383.20" width="0.80" height="1.20" fill="#2b4272"/>
<rect x="404.90" y="383.20" width="0.80" height="1.20" fill="#2b4272"/>
<rect x="407.00" y="383.20" width="0.80" height="1.20" fill="#2b4272"/>
<rect x="409.10" y="383.20" width="0.80" height="1.20" fill="#2b4272"/>
<rect x="413.30" y="383.20" width="0.80" height="1.20" fill="#2b4272"/>
<rect x="421.70" y="383.20" width="0.80" height="1.20" fill="#2b4272"/>
<rect x="425.90" y="383.20" width="0.80" height="1.20" fill="#2b4272"/>
<rect x="430.10" y="383.20" width="0.80" height="1.20" fill="#2b4272"/>
<rect x="434.30" y="383.20" width="0.80" height="1.20" fill="#2b4272"/>
<rect x="436.40" y="383.20" width="0.80" height="1.20" fill="#2b4272"/>
<rect x="440.60" y="383.20" width="0.80" height="1.20" fill="#2b4272"/>
<rect x="442.70" y="383.20" width="0.80" height="1.20" fill="#2b4272"/>
<rect x="444.80" y="383.20" width="0.80" height="1.20" fill="#2b4272"/>
<rect x="446.90" y="383.20" width="0.80" height="1.20" fill="#2b4272"/>
<rect x="449.00" y="383.20" width="0.80" height="1.20" fill="#2b4272"/>
<rect x="459.50" y="383.20" width="0.80" height="1.20" fill="#2b4272"/>
<rect x="467.90" y="383.20" width="0.80" height="1.20" fill="#2b4272"/>
<rect x="472.10" y="383.20" width="0.80" height="1.20" fill="#2b4272"/>
<rect x="474.20" y="383.20" width="0.80" height="1.20" fill="#2b4272"/>
<rect x="476.30" y="383.20" width="0.80" height="1.20" fill="#2b4272"/>
<rect x="478.40" y="383.20" width="0.80" height="1.20" fill="#2b4272"/>
<rect x="480.50" y="383.20" width="0.80" height="1.20" fill="#2b4272"/>
<rect x="482.60" y="383.20" width="0.80" height="1.20" fill="#2b4272"/>
<rect x="486.80" y="383.20" width="0.80" height="1.20" fill="#2b4272"/>
<rect x="488.90" y="383.20" width="0.80" height="1.20" fill="#2b4272"/>
<rect x="495.20" y="383.20" width="0.80" height="1.20" fill="#2b4272"/>
<rect x="497.30" y="383.20" width="0.80" height="1.20" fill="#2b4272"/>
<rect x="501.50" y="383.20" width="0.80" height="1.20" fill="#2b4272"/>
<rect x="395.00" y="371.90" width="1.00" height="0.60" fill="#8f9cc0"/>
<rect x="403.00" y="371.90" width="1.00" height="0.60" fill="#8f9cc0"/>
<rect x="407.00" y="371.90" width="1.00" height="0.60" fill="#8f9cc0"/>
<rect x="411.00" y="371.90" width="1.00" height="0.60" fill="#8f9cc0"/>
<rect x="415.00" y="371.90" width="1.00" height="0.60" fill="#8f9cc0"/>
<rect x="419.00" y="371.90" width="1.00" height="0.60" fill="#8f9cc0"/>
<rect x="431.00" y="371.90" width="1.00" height="0.60" fill="#8f9cc0"/>
<rect x="439.00" y="371.90" width="1.00" height="0.60" fill="#8f9cc0"/>
<rect x="447.00" y="371.90" width="1.00" height="0.60" fill="#8f9cc0"/>
<rect x="451.00" y="371.90" width="1.00" height="0.60" fill="#8f9cc0"/>
<rect x="455.00" y="371.90" width="1.00" height="0.60" fill="#8f9cc0"/>
<rect x="479.00" y="371.90" width="1.00" height="0.60" fill="#8f9cc0"/>
<rect x="499.00" y="371.90" width="1.00" height="0.60" fill="#8f9cc0"/>
<rect x="503.00" y="371.90" width="1.00" height="0.60" fill="#8f9cc0"/>
<line x1="373.00" y1="406.90" x2="511.30" y2="406.90" stroke="#6f82ab" stroke-width="0.8"/>
<rect x="374.00" y="405.30" width="1.00" height="1.40" fill="#2b4272"/>
<rect x="375.10" y="404.64" width="1.00" height="2.06" fill="#2b4272"/>
<rect x="376.20" y="404.91" width="1.00" height="1.79" fill="#2b4272"/>
<rect x="377.30" y="404.36" width="1.00" height="2.34" fill="#2b4272"/>
<rect x="378.40" y="404.72" width="1.00" height="1.98" fill="#2b4272"/>
<rect x="379.50" y="404.28" width="1.00" height="2.42" fill="#2b4272"/>
<rect x="380.60" y="404.64" width="1.00" height="2.06" fill="#2b4272"/>
<rect x="381.70" y="402.45" width="1.00" height="4.25" fill="#2b4272"/>
<rect x="382.80" y="401.23" width="1.00" height="5.47" fill="#2b4272"/>
<rect x="383.90" y="403.45" width="1.00" height="3.25" fill="#2b4272"/>
<rect x="385.00" y="405.42" width="1.00" height="1.28" fill="#2b4272"/>
<rect x="386.10" y="405.71" width="1.00" height="0.99" fill="#2b4272"/>
<rect x="388.25" y="403.20" width="0.90" height="3.50" fill="#2b4272"/>
<rect x="409.35" y="403.20" width="0.90" height="3.50" fill="#2b4272"/>
<rect x="414.25" y="404.60" width="0.90" height="2.10" fill="#2b4272"/>
<rect x="420.05" y="404.60" width="0.90" height="2.10" fill="#2b4272"/>
<rect x="440.25" y="402.50" width="0.90" height="4.20" fill="#2b4272"/>
<rect x="443.05" y="404.60" width="0.90" height="2.10" fill="#2b4272"/>
<rect x="456.05" y="404.95" width="0.90" height="1.75" fill="#2b4272"/>
<rect x="464.75" y="404.60" width="0.90" height="2.10" fill="#2b4272"/>
<rect x="469.05" y="404.25" width="0.90" height="2.45" fill="#2b4272"/>
<rect x="479.15" y="404.60" width="0.90" height="2.10" fill="#2b4272"/>
<rect x="487.25" y="402.50" width="0.90" height="4.20" fill="#2b4272"/>
<rect x="509.45" y="404.60" width="0.90" height="2.10" fill="#2b4272"/>
<rect x="386.00" y="406.38" width="0.80" height="0.84" fill="#2b4272"/>
<rect x="388.10" y="406.38" width="0.80" height="0.84" fill="#2b4272"/>
<rect x="392.30" y="406.38" width="0.80" height="0.84" fill="#2b4272"/>
<rect x="400.70" y="406.38" width="0.80" height="0.84" fill="#2b4272"/>
<rect x="404.90" y="406.38" width="0.80" height="0.84" fill="#2b4272"/>
<rect x="409.10" y="406.38" width="0.80" height="0.84" fill="#2b4272"/>
<rect x="411.20" y="406.38" width="0.80" height="0.84" fill="#2b4272"/>
<rect x="415.40" y="406.38" width="0.80" height="0.84" fill="#2b4272"/>
<rect x="421.70" y="406.38" width="0.80" height="0.84" fill="#2b4272"/>
<rect x="425.90" y="406.38" width="0.80" height="0.84" fill="#2b4272"/>
<rect x="428.00" y="406.38" width="0.80" height="0.84" fill="#2b4272"/>
<rect x="430.10" y="406.38" width="0.80" height="0.84" fill="#2b4272"/>
<rect x="432.20" y="406.38" width="0.80" height="0.84" fill="#2b4272"/>
<rect x="436.40" y="406.38" width="0.80" height="0.84" fill="#2b4272"/>
<rect x="446.90" y="406.38" width="0.80" height="0.84" fill="#2b4272"/>
<rect x="449.00" y="406.38" width="0.80" height="0.84" fill="#2b4272"/>
<rect x="451.10" y="406.38" width="0.80" height="0.84" fill="#2b4272"/>
<rect x="453.20" y="406.38" width="0.80" height="0.84" fill="#2b4272"/>
<rect x="459.50" y="406.38" width="0.80" height="0.84" fill="#2b4272"/>
<rect x="461.60" y="406.38" width="0.80" height="0.84" fill="#2b4272"/>
<rect x="463.70" y="406.38" width="0.80" height="0.84" fill="#2b4272"/>
<rect x="467.90" y="406.38" width="0.80" height="0.84" fill="#2b4272"/>
<rect x="470.00" y="406.38" width="0.80" height="0.84" fill="#2b4272"/>
<rect x="472.10" y="406.38" width="0.80" height="0.84" fill="#2b4272"/>
<rect x="474.20" y="406.38" width="0.80" height="0.84" fill="#2b4272"/>
<rect x="478.40" y="406.38" width="0.80" height="0.84" fill="#2b4272"/>
<rect x="484.70" y="406.38" width="0.80" height="0.84" fill="#2b4272"/>
<rect x="493.10" y="406.38" width="0.80" height="0.84" fill="#2b4272"/>
<rect x="499.40" y="406.38" width="0.80" height="0.84" fill="#2b4272"/>
<rect x="375.00" y="394.90" width="1.00" height="0.60" fill="#8f9cc0"/>
<rect x="383.00" y="394.90" width="1.00" height="0.60" fill="#8f9cc0"/>
<rect x="387.00" y="394.90" width="1.00" height="0.60" fill="#8f9cc0"/>
<rect x="403.00" y="394.90" width="1.00" height="0.60" fill="#8f9cc0"/>
<rect x="407.00" y="394.90" width="1.00" height="0.60" fill="#8f9cc0"/>
<rect x="411.00" y="394.90" width="1.00" height="0.60" fill="#8f9cc0"/>
<rect x="415.00" y="394.90" width="1.00" height="0.60" fill="#8f9cc0"/>
<rect x="419.00" y="394.90" width="1.00" height="0.60" fill="#8f9cc0"/>
<rect x="423.00" y="394.90" width="1.00" height="0.60" fill="#8f9cc0"/>
<rect x="431.00" y="394.90" width="1.00" height="0.60" fill="#8f9cc0"/>
<rect x="447.00" y="394.90" width="1.00" height="0.60" fill="#8f9cc0"/>
<rect x="455.00" y="394.90" width="1.00" height="0.60" fill="#8f9cc0"/>
<rect x="475.00" y="394.90" width="1.00" height="0.60" fill="#8f9cc0"/>
<rect x="479.00" y="394.90" width="1.00" height="0.60" fill="#8f9cc0"/>
<rect x="483.00" y="394.90" width="1.00" height="0.60" fill="#8f9cc0"/>
<rect x="491.00" y="394.90" width="1.00" height="0.60" fill="#8f9cc0"/>
<rect x="503.00" y="394.90" width="1.00" height="0.60" fill="#8f9cc0"/>
<line x1="373.00" y1="430.70" x2="511.30" y2="430.70" stroke="#6f82ab" stroke-width="0.8"/>
<rect x="374.00" y="428.78" width="1.00" height="1.72" fill="#2b4272"/>
<rect x="375.10" y="427.51" width="1.00" height="2.99" fill="#2b4272"/>
<rect x="376.20" y="427.99" width="1.00" height="2.51" fill="#2b4272"/>
<rect x="377.30" y="426.34" width="1.00" height="4.16" fill="#2b4272"/>
<rect x="378.40" y="427.69" width="1.00" height="2.81" fill="#2b4272"/>
<rect x="379.50" y="426.04" width="1.00" height="4.46" fill="#2b4272"/>
<rect x="380.60" y="427.28" width="1.00" height="3.22" fill="#2b4272"/>
<rect x="381.70" y="425.76" width="1.00" height="4.74" fill="#2b4272"/>
<rect x="382.80" y="421.76" width="1.00" height="8.74" fill="#2b4272"/>
<rect x="383.90" y="426.61" width="1.00" height="3.89" fill="#2b4272"/>
<rect x="385.00" y="428.43" width="1.00" height="2.07" fill="#2b4272"/>
<rect x="386.10" y="429.24" width="1.00" height="1.26" fill="#2b4272"/>
<rect x="388.25" y="425.50" width="0.90" height="5.00" fill="#2b4272"/>
<rect x="409.35" y="425.50" width="0.90" height="5.00" fill="#2b4272"/>
<rect x="414.25" y="427.50" width="0.90" height="3.00" fill="#2b4272"/>
<rect x="420.05" y="427.50" width="0.90" height="3.00" fill="#2b4272"/>
<rect x="440.25" y="424.50" width="0.90" height="6.00" fill="#2b4272"/>
<rect x="443.05" y="427.50" width="0.90" height="3.00" fill="#2b4272"/>
<rect x="456.05" y="428.00" width="0.90" height="2.50" fill="#2b4272"/>
<rect x="464.75" y="427.50" width="0.90" height="3.00" fill="#2b4272"/>
<rect x="469.05" y="427.00" width="0.90" height="3.50" fill="#2b4272"/>
<rect x="479.15" y="427.50" width="0.90" height="3.00" fill="#2b4272"/>
<rect x="487.25" y="424.50" width="0.90" height="6.00" fill="#2b4272"/>
<rect x="509.45" y="427.50" width="0.90" height="3.00" fill="#2b4272"/>
<rect x="386.00" y="430.00" width="0.80" height="1.20" fill="#2b4272"/>
<rect x="388.10" y="430.00" width="0.80" height="1.20" fill="#2b4272"/>
<rect x="390.20" y="430.00" width="0.80" height="1.20" fill="#2b4272"/>
<rect x="392.30" y="430.00" width="0.80" height="1.20" fill="#2b4272"/>
<rect x="402.80" y="430.00" width="0.80" height="1.20" fill="#2b4272"/>
<rect x="404.90" y="430.00" width="0.80" height="1.20" fill="#2b4272"/>
<rect x="411.20" y="430.00" width="0.80" height="1.20" fill="#2b4272"/>
<rect x="415.40" y="430.00" width="0.80" height="1.20" fill="#2b4272"/>
<rect x="423.80" y="430.00" width="0.80" height="1.20" fill="#2b4272"/>
<rect x="425.90" y="430.00" width="0.80" height="1.20" fill="#2b4272"/>
<rect x="430.10" y="430.00" width="0.80" height="1.20" fill="#2b4272"/>
<rect x="432.20" y="430.00" width="0.80" height="1.20" fill="#2b4272"/>
<rect x="446.90" y="430.00" width="0.80" height="1.20" fill="#2b4272"/>
<rect x="449.00" y="430.00" width="0.80" height="1.20" fill="#2b4272"/>
<rect x="451.10" y="430.00" width="0.80" height="1.20" fill="#2b4272"/>
<rect x="457.40" y="430.00" width="0.80" height="1.20" fill="#2b4272"/>
<rect x="459.50" y="430.00" width="0.80" height="1.20" fill="#2b4272"/>
<rect x="461.60" y="430.00" width="0.80" height="1.20" fill="#2b4272"/>
<rect x="465.80" y="430.00" width="0.80" height="1.20" fill="#2b4272"/>
<rect x="467.90" y="430.00" width="0.80" height="1.20" fill="#2b4272"/>
<rect x="472.10" y="430.00" width="0.80" height="1.20" fill="#2b4272"/>
<rect x="474.20" y="430.00" width="0.80" height="1.20" fill="#2b4272"/>
<rect x="484.70" y="430.00" width="0.80" height="1.20" fill="#2b4272"/>
<rect x="486.80" y="430.00" width="0.80" height="1.20" fill="#2b4272"/>
<rect x="488.90" y="430.00" width="0.80" height="1.20" fill="#2b4272"/>
<rect x="495.20" y="430.00" width="0.80" height="1.20" fill="#2b4272"/>
<rect x="497.30" y="430.00" width="0.80" height="1.20" fill="#2b4272"/>
<rect x="505.70" y="430.00" width="0.80" height="1.20" fill="#2b4272"/>
<rect x="375.00" y="418.70" width="1.00" height="0.60" fill="#8f9cc0"/>
<rect x="383.00" y="418.70" width="1.00" height="0.60" fill="#8f9cc0"/>
<rect x="403.00" y="418.70" width="1.00" height="0.60" fill="#8f9cc0"/>
<rect x="415.00" y="418.70" width="1.00" height="0.60" fill="#8f9cc0"/>
<rect x="419.00" y="418.70" width="1.00" height="0.60" fill="#8f9cc0"/>
<rect x="423.00" y="418.70" width="1.00" height="0.60" fill="#8f9cc0"/>
<rect x="435.00" y="418.70" width="1.00" height="0.60" fill="#8f9cc0"/>
<rect x="439.00" y="418.70" width="1.00" height="0.60" fill="#8f9cc0"/>
<rect x="443.00" y="418.70" width="1.00" height="0.60" fill="#8f9cc0"/>
<rect x="447.00" y="418.70" width="1.00" height="0.60" fill="#8f9cc0"/>
<rect x="451.00" y="418.70" width="1.00" height="0.60" fill="#8f9cc0"/>
<rect x="459.00" y="418.70" width="1.00" height="0.60" fill="#8f9cc0"/>
<rect x="467.00" y="418.70" width="1.00" height="0.60" fill="#8f9cc0"/>
<rect x="475.00" y="418.70" width="1.00" height="0.60" fill="#8f9cc0"/>
<rect x="479.00" y="418.70" width="1.00" height="0.60" fill="#8f9cc0"/>
<rect x="507.00" y="418.70" width="1.00" height="0.60" fill="#8f9cc0"/>
<line x1="373.00" y1="453.90" x2="511.30" y2="453.90" stroke="#6f82ab" stroke-width="0.8"/>
<rect x="374.00" y="452.50" width="1.00" height="1.20" fill="#2b4272"/>
<rect x="375.10" y="451.64" width="1.00" height="2.06" fill="#2b4272"/>
<rect x="376.20" y="452.45" width="1.00" height="1.25" fill="#2b4272"/>
<rect x="377.30" y="451.70" width="1.00" height="2.00" fill="#2b4272"/>
<rect x="378.40" y="452.47" width="1.00" height="1.23" fill="#2b4272"/>
<rect x="379.50" y="451.16" width="1.00" height="2.54" fill="#2b4272"/>
<rect x="380.60" y="452.12" width="1.00" height="1.58" fill="#2b4272"/>
<rect x="381.70" y="450.65" width="1.00" height="3.05" fill="#2b4272"/>
<rect x="382.80" y="448.63" width="1.00" height="5.07" fill="#2b4272"/>
<rect x="383.90" y="451.73" width="1.00" height="1.97" fill="#2b4272"/>
<rect x="385.00" y="452.67" width="1.00" height="1.03" fill="#2b4272"/>
<rect x="386.10" y="452.87" width="1.00" height="0.83" fill="#2b4272"/>
<rect x="388.25" y="450.70" width="0.90" height="3.00" fill="#2b4272"/>
<rect x="409.35" y="450.70" width="0.90" height="3.00" fill="#2b4272"/>
<rect x="414.25" y="451.90" width="0.90" height="1.80" fill="#2b4272"/>
<rect x="420.05" y="451.90" width="0.90" height="1.80" fill="#2b4272"/>
<rect x="440.25" y="450.10" width="0.90" height="3.60" fill="#2b4272"/>
<rect x="443.05" y="451.90" width="0.90" height="1.80" fill="#2b4272"/>
<rect x="456.05" y="452.20" width="0.90" height="1.50" fill="#2b4272"/>
<rect x="464.75" y="451.90" width="0.90" height="1.80" fill="#2b4272"/>
<rect x="469.05" y="451.60" width="0.90" height="2.10" fill="#2b4272"/>
<rect x="479.15" y="451.90" width="0.90" height="1.80" fill="#2b4272"/>
<rect x="487.25" y="450.10" width="0.90" height="3.60" fill="#2b4272"/>
<rect x="509.45" y="451.90" width="0.90" height="1.80" fill="#2b4272"/>
<rect x="388.10" y="453.44" width="0.80" height="0.72" fill="#2b4272"/>
<rect x="390.20" y="453.44" width="0.80" height="0.72" fill="#2b4272"/>
<rect x="392.30" y="453.44" width="0.80" height="0.72" fill="#2b4272"/>
<rect x="394.40" y="453.44" width="0.80" height="0.72" fill="#2b4272"/>
<rect x="396.50" y="453.44" width="0.80" height="0.72" fill="#2b4272"/>
<rect x="398.60" y="453.44" width="0.80" height="0.72" fill="#2b4272"/>
<rect x="400.70" y="453.44" width="0.80" height="0.72" fill="#2b4272"/>
<rect x="402.80" y="453.44" width="0.80" height="0.72" fill="#2b4272"/>
<rect x="404.90" y="453.44" width="0.80" height="0.72" fill="#2b4272"/>
<rect x="407.00" y="453.44" width="0.80" height="0.72" fill="#2b4272"/>
<rect x="409.10" y="453.44" width="0.80" height="0.72" fill="#2b4272"/>
<rect x="413.30" y="453.44" width="0.80" height="0.72" fill="#2b4272"/>
<rect x="430.10" y="453.44" width="0.80" height="0.72" fill="#2b4272"/>
<rect x="432.20" y="453.44" width="0.80" height="0.72" fill="#2b4272"/>
<rect x="434.30" y="453.44" width="0.80" height="0.72" fill="#2b4272"/>
<rect x="436.40" y="453.44" width="0.80" height="0.72" fill="#2b4272"/>
<rect x="442.70" y="453.44" width="0.80" height="0.72" fill="#2b4272"/>
<rect x="444.80" y="453.44" width="0.80" height="0.72" fill="#2b4272"/>
<rect x="449.00" y="453.44" width="0.80" height="0.72" fill="#2b4272"/>
<rect x="451.10" y="453.44" width="0.80" height="0.72" fill="#2b4272"/>
<rect x="455.30" y="453.44" width="0.80" height="0.72" fill="#2b4272"/>
<rect x="457.40" y="453.44" width="0.80" height="0.72" fill="#2b4272"/>
<rect x="459.50" y="453.44" width="0.80" height="0.72" fill="#2b4272"/>
<rect x="461.60" y="453.44" width="0.80" height="0.72" fill="#2b4272"/>
<rect x="463.70" y="453.44" width="0.80" height="0.72" fill="#2b4272"/>
<rect x="465.80" y="453.44" width="0.80" height="0.72" fill="#2b4272"/>
<rect x="474.20" y="453.44" width="0.80" height="0.72" fill="#2b4272"/>
<rect x="480.50" y="453.44" width="0.80" height="0.72" fill="#2b4272"/>
<rect x="488.90" y="453.44" width="0.80" height="0.72" fill="#2b4272"/>
<rect x="497.30" y="453.44" width="0.80" height="0.72" fill="#2b4272"/>
<rect x="499.40" y="453.44" width="0.80" height="0.72" fill="#2b4272"/>
<rect x="503.60" y="453.44" width="0.80" height="0.72" fill="#2b4272"/>
<rect x="505.70" y="453.44" width="0.80" height="0.72" fill="#2b4272"/>
<rect x="375.00" y="441.90" width="1.00" height="0.60" fill="#8f9cc0"/>
<rect x="383.00" y="441.90" width="1.00" height="0.60" fill="#8f9cc0"/>
<rect x="387.00" y="441.90" width="1.00" height="0.60" fill="#8f9cc0"/>
<rect x="403.00" y="441.90" width="1.00" height="0.60" fill="#8f9cc0"/>
<rect x="411.00" y="441.90" width="1.00" height="0.60" fill="#8f9cc0"/>
<rect x="415.00" y="441.90" width="1.00" height="0.60" fill="#8f9cc0"/>
<rect x="427.00" y="441.90" width="1.00" height="0.60" fill="#8f9cc0"/>
<rect x="439.00" y="441.90" width="1.00" height="0.60" fill="#8f9cc0"/>
<rect x="443.00" y="441.90" width="1.00" height="0.60" fill="#8f9cc0"/>
<rect x="447.00" y="441.90" width="1.00" height="0.60" fill="#8f9cc0"/>
<rect x="451.00" y="441.90" width="1.00" height="0.60" fill="#8f9cc0"/>
<rect x="475.00" y="441.90" width="1.00" height="0.60" fill="#8f9cc0"/>
<rect x="487.00" y="441.90" width="1.00" height="0.60" fill="#8f9cc0"/>
<rect x="495.00" y="441.90" width="1.00" height="0.60" fill="#8f9cc0"/>
<rect x="507.00" y="441.90" width="1.00" height="0.60" fill="#8f9cc0"/>
<text x="344.20" y="464.20" font-size="6.1" text-anchor="middle" fill="#a83c88" stroke="#a83c88" stroke-width="0.24">uORF</text>
<line x1="487.80" y1="461.20" x2="510.40" y2="461.20" stroke="#c0508a" stroke-width="1.0"/>
<line x1="487.80" y1="456.20" x2="487.80" y2="466.20" stroke="#c0508a" stroke-width="1.0"/>
<line x1="510.40" y1="456.20" x2="510.40" y2="466.20" stroke="#c0508a" stroke-width="1.0"/>
<text x="361.90" y="476.70" font-size="6.5" text-anchor="middle" fill="#a8306a" stroke="#a8306a" stroke-width="0.24">Ergic2</text>
<line x1="383.00" y1="475.20" x2="511.00" y2="475.20" stroke="#8795a8" stroke-width="1.0"/>
<rect x="373.20" y="472.40" width="10.00" height="5.80" fill="#6aa840"/>
<line x1="383.60" y1="470.20" x2="383.60" y2="479.80" stroke="#2b3d6e" stroke-width="1.0"/>
<line x1="389.00" y1="470.20" x2="389.00" y2="479.80" stroke="#2b3d6e" stroke-width="1.0"/>
<line x1="410.00" y1="470.20" x2="410.00" y2="479.80" stroke="#2b3d6e" stroke-width="1.0"/>
<line x1="415.70" y1="470.20" x2="415.70" y2="479.80" stroke="#2b3d6e" stroke-width="1.0"/>
<line x1="421.50" y1="470.20" x2="421.50" y2="479.80" stroke="#2b3d6e" stroke-width="1.0"/>
<line x1="439.40" y1="470.20" x2="439.40" y2="479.80" stroke="#2b3d6e" stroke-width="1.0"/>
<line x1="443.00" y1="470.20" x2="443.00" y2="479.80" stroke="#2b3d6e" stroke-width="1.0"/>
<line x1="466.00" y1="470.20" x2="466.00" y2="479.80" stroke="#2b3d6e" stroke-width="1.0"/>
<line x1="470.70" y1="470.20" x2="470.70" y2="479.80" stroke="#2b3d6e" stroke-width="1.0"/>
<line x1="480.20" y1="470.20" x2="480.20" y2="479.80" stroke="#2b3d6e" stroke-width="1.0"/>
<line x1="487.60" y1="470.20" x2="487.60" y2="479.80" stroke="#2b3d6e" stroke-width="1.0"/>
<line x1="457.70" y1="471.00" x2="457.70" y2="479.00" stroke="#8a96b0" stroke-width="0.8"/>
<path d="M432.2,471.6 L428.6,475.2 L432.2,478.8" fill="none" stroke="#2b3a66" stroke-width="1.3"/>
<line x1="510.60" y1="471.50" x2="510.60" y2="478.80" stroke="#6aa84f" stroke-width="1.3"/>
</g>
</svg>
</body></html>
